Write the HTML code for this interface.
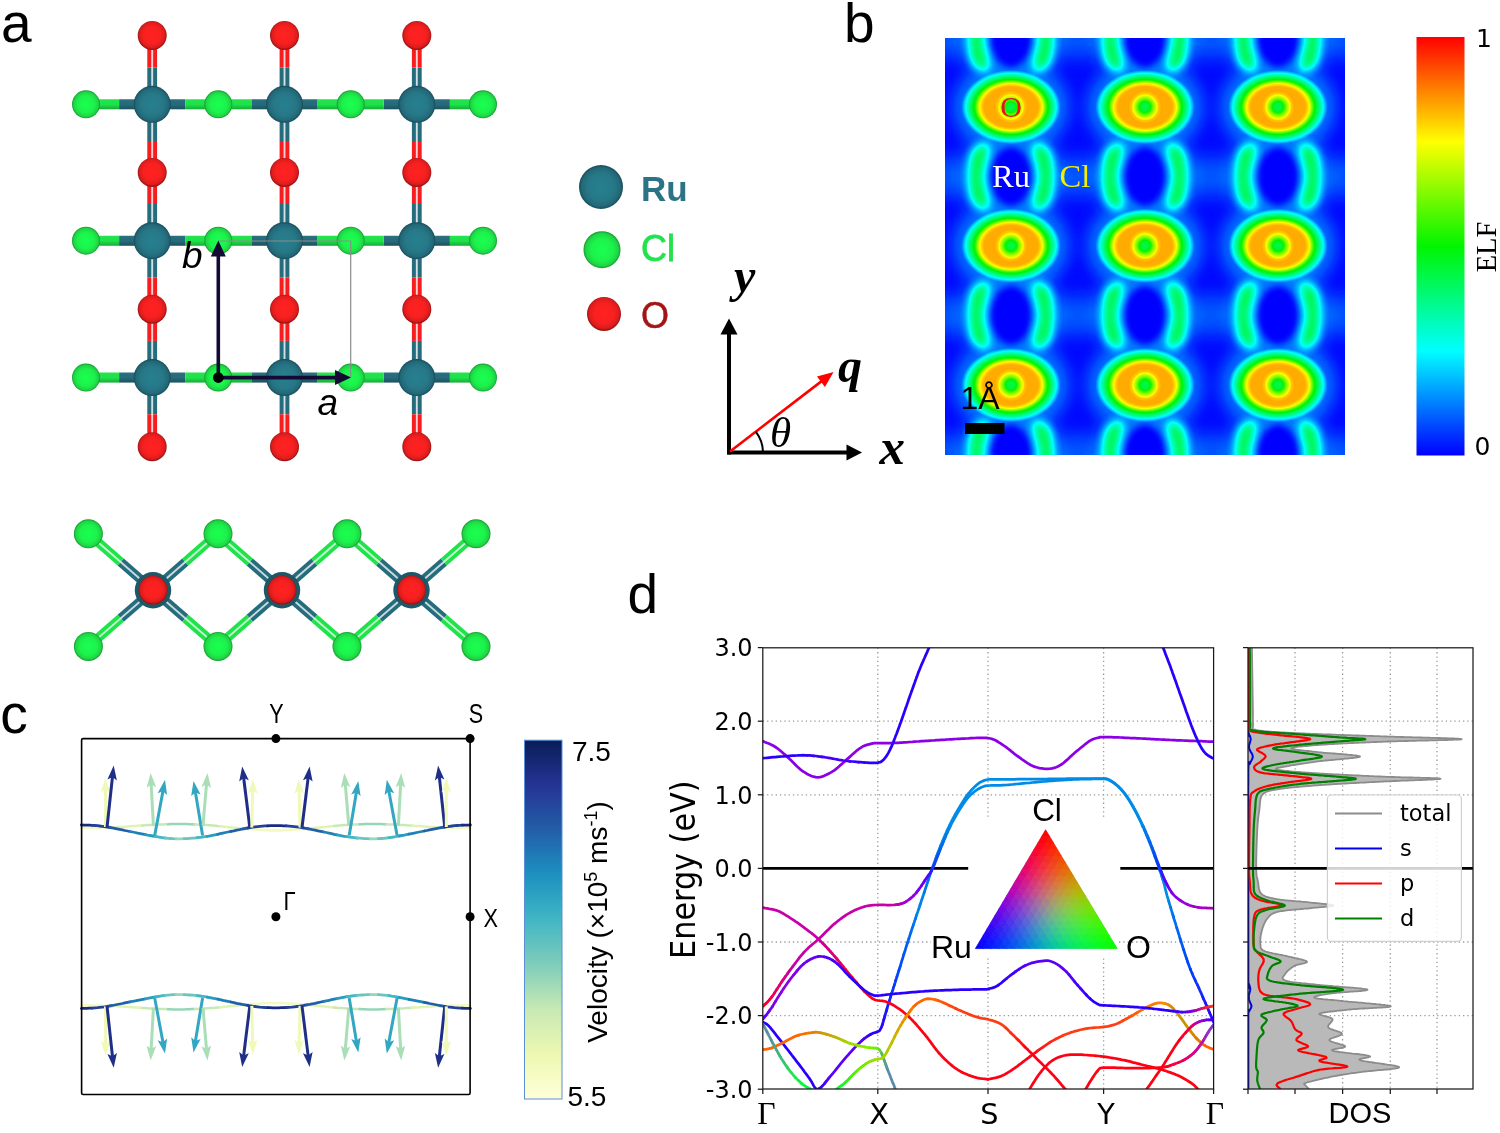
<!DOCTYPE html>
<html><head><meta charset="utf-8"><title>Figure</title>
<style>
html,body{margin:0;padding:0;background:#fff;}
svg{display:block}
.ar{font-family:"Liberation Sans",sans-serif}
.tr{font-family:"Liberation Serif",serif}
.tbi{font-family:"Liberation Serif",serif;font-weight:bold;font-style:italic}
.ti{font-family:"Liberation Serif",serif;font-style:italic}
.dj{font-family:"DejaVu Sans","Liberation Sans",sans-serif}
</style></head><body>
<svg width="1500" height="1133" viewBox="0 0 1500 1133">
<rect width="1500" height="1133" fill="#fff"/>
<defs>
<radialGradient id="gRu" cx="50%" cy="50%" r="50%"><stop offset="0" stop-color="#26808f"/><stop offset="0.6" stop-color="#277887"/><stop offset="0.88" stop-color="#226878"/><stop offset="1" stop-color="#184c5a"/></radialGradient>
<radialGradient id="gCl" cx="50%" cy="50%" r="50%"><stop offset="0" stop-color="#1aff50"/><stop offset="0.6" stop-color="#1cf24c"/><stop offset="0.88" stop-color="#1fd444"/><stop offset="1" stop-color="#129a2e"/></radialGradient>
<radialGradient id="gO" cx="50%" cy="48%" r="50%"><stop offset="0" stop-color="#ff2222"/><stop offset="0.6" stop-color="#f82020"/><stop offset="0.88" stop-color="#dc1c1c"/><stop offset="1" stop-color="#9c1414"/></radialGradient>
<linearGradient id="bH" x1="0" y1="0" x2="0" y2="1"><stop offset="0" stop-color="#fff" stop-opacity="0.05"/><stop offset="0.5" stop-color="#000" stop-opacity="0"/><stop offset="1" stop-color="#000" stop-opacity="0.25"/></linearGradient>

<filter id="jet" x="0" y="0" width="100%" height="100%" color-interpolation-filters="sRGB">
<feComponentTransfer>
<feFuncR type="table" tableValues="0 0 0 1 1"/>
<feFuncG type="table" tableValues="0 1 0.96 1 0"/>
<feFuncB type="table" tableValues="1 1 0 0 0"/>
</feComponentTransfer></filter>
<filter id="bl3" color-interpolation-filters="sRGB" x="-50%" y="-50%" width="200%" height="200%"><feGaussianBlur stdDeviation="3.4"/></filter>
<filter id="bl5" color-interpolation-filters="sRGB" x="-50%" y="-50%" width="200%" height="200%"><feGaussianBlur stdDeviation="4.6"/></filter>
<filter id="bl8" color-interpolation-filters="sRGB" x="-50%" y="-50%" width="200%" height="200%"><feGaussianBlur stdDeviation="8"/></filter>
<radialGradient id="eO" cx="50%" cy="50%" r="50%">
<stop offset="0" stop-color="#d4d4d4" stop-opacity="1"/>
<stop offset="0.55" stop-color="#d4d4d4" stop-opacity="1"/>
<stop offset="0.63" stop-color="#d4d4d4" stop-opacity="0.9"/>
<stop offset="0.72" stop-color="#d4d4d4" stop-opacity="0.59"/>
<stop offset="0.8" stop-color="#d4d4d4" stop-opacity="0.42"/>
<stop offset="0.88" stop-color="#d4d4d4" stop-opacity="0.27"/>
<stop offset="0.96" stop-color="#d4d4d4" stop-opacity="0.09"/>
<stop offset="1" stop-color="#d4d4d4" stop-opacity="0"/>
</radialGradient>
<radialGradient id="eOc" cx="50%" cy="50%" r="50%">
<stop offset="0" stop-color="#6b6b6b"/>
<stop offset="0.25" stop-color="#747474"/>
<stop offset="0.55" stop-color="#a8a8a8"/>
<stop offset="0.8" stop-color="#cdcdcd"/>
<stop offset="1" stop-color="#d6d6d6"/>
</radialGradient>
<linearGradient id="cbar" x1="0" y1="1" x2="0" y2="0">
<stop offset="0" stop-color="#0000ff"/><stop offset="0.25" stop-color="#00ffff"/><stop offset="0.5" stop-color="#00f500"/><stop offset="0.75" stop-color="#ffff00"/><stop offset="1" stop-color="#ff0000"/>
</linearGradient>
<clipPath id="elfclip"><rect x="945" y="38" width="400" height="417"/></clipPath>
<linearGradient id="ylgnbu" x1="0" y1="1" x2="0" y2="0"><stop offset="0" stop-color="#ffffd9"/><stop offset="0.125" stop-color="#edf8b1"/><stop offset="0.25" stop-color="#c7e9b4"/><stop offset="0.375" stop-color="#7fcdbb"/><stop offset="0.5" stop-color="#41b6c4"/><stop offset="0.625" stop-color="#1d91c0"/><stop offset="0.75" stop-color="#225ea8"/><stop offset="0.875" stop-color="#253494"/><stop offset="1" stop-color="#081d58"/></linearGradient><clipPath id="bclip"><rect x="762.8" y="647.8" width="450.8" height="441.2"/></clipPath><clipPath id="dclip"><rect x="1248" y="647.8" width="225" height="441.2"/></clipPath><linearGradient id="triB" x1="0" y1="1" x2="1" y2="1"><stop offset="0" stop-color="#0000ff"/><stop offset="1" stop-color="#00ff00"/></linearGradient>
<linearGradient id="triR" gradientUnits="userSpaceOnUse" x1="1046.5" y1="830.5" x2="1046.5" y2="947.5"><stop offset="0" stop-color="#ff0000" stop-opacity="1"/><stop offset="1" stop-color="#ff0000" stop-opacity="0"/></linearGradient></defs>
<g id="panelA"><line x1="152.2" y1="104.3" x2="119.1" y2="104.3" stroke="#256c7c" stroke-width="10"/><line x1="119.1" y1="104.3" x2="86" y2="104.3" stroke="#1ee44a" stroke-width="10"/><line x1="152.2" y1="104.3" x2="185.3" y2="104.3" stroke="#256c7c" stroke-width="10"/><line x1="185.3" y1="104.3" x2="218.4" y2="104.3" stroke="#1ee44a" stroke-width="10"/><line x1="284.5" y1="104.3" x2="251.4" y2="104.3" stroke="#256c7c" stroke-width="10"/><line x1="251.4" y1="104.3" x2="218.3" y2="104.3" stroke="#1ee44a" stroke-width="10"/><line x1="284.5" y1="104.3" x2="317.6" y2="104.3" stroke="#256c7c" stroke-width="10"/><line x1="317.6" y1="104.3" x2="350.7" y2="104.3" stroke="#1ee44a" stroke-width="10"/><line x1="416.8" y1="104.3" x2="383.7" y2="104.3" stroke="#256c7c" stroke-width="10"/><line x1="383.7" y1="104.3" x2="350.6" y2="104.3" stroke="#1ee44a" stroke-width="10"/><line x1="416.8" y1="104.3" x2="449.9" y2="104.3" stroke="#256c7c" stroke-width="10"/><line x1="449.9" y1="104.3" x2="483" y2="104.3" stroke="#1ee44a" stroke-width="10"/><rect x="86" y="99.3" width="397" height="10" fill="url(#bH)"/><line x1="152.2" y1="240.7" x2="119.1" y2="240.7" stroke="#256c7c" stroke-width="10"/><line x1="119.1" y1="240.7" x2="86" y2="240.7" stroke="#1ee44a" stroke-width="10"/><line x1="152.2" y1="240.7" x2="185.3" y2="240.7" stroke="#256c7c" stroke-width="10"/><line x1="185.3" y1="240.7" x2="218.4" y2="240.7" stroke="#1ee44a" stroke-width="10"/><line x1="284.5" y1="240.7" x2="251.4" y2="240.7" stroke="#256c7c" stroke-width="10"/><line x1="251.4" y1="240.7" x2="218.3" y2="240.7" stroke="#1ee44a" stroke-width="10"/><line x1="284.5" y1="240.7" x2="317.6" y2="240.7" stroke="#256c7c" stroke-width="10"/><line x1="317.6" y1="240.7" x2="350.7" y2="240.7" stroke="#1ee44a" stroke-width="10"/><line x1="416.8" y1="240.7" x2="383.7" y2="240.7" stroke="#256c7c" stroke-width="10"/><line x1="383.7" y1="240.7" x2="350.6" y2="240.7" stroke="#1ee44a" stroke-width="10"/><line x1="416.8" y1="240.7" x2="449.9" y2="240.7" stroke="#256c7c" stroke-width="10"/><line x1="449.9" y1="240.7" x2="483" y2="240.7" stroke="#1ee44a" stroke-width="10"/><rect x="86" y="235.7" width="397" height="10" fill="url(#bH)"/><line x1="152.2" y1="377.6" x2="119.1" y2="377.6" stroke="#256c7c" stroke-width="10"/><line x1="119.1" y1="377.6" x2="86" y2="377.6" stroke="#1ee44a" stroke-width="10"/><line x1="152.2" y1="377.6" x2="185.3" y2="377.6" stroke="#256c7c" stroke-width="10"/><line x1="185.3" y1="377.6" x2="218.4" y2="377.6" stroke="#1ee44a" stroke-width="10"/><line x1="284.5" y1="377.6" x2="251.4" y2="377.6" stroke="#256c7c" stroke-width="10"/><line x1="251.4" y1="377.6" x2="218.3" y2="377.6" stroke="#1ee44a" stroke-width="10"/><line x1="284.5" y1="377.6" x2="317.6" y2="377.6" stroke="#256c7c" stroke-width="10"/><line x1="317.6" y1="377.6" x2="350.7" y2="377.6" stroke="#1ee44a" stroke-width="10"/><line x1="416.8" y1="377.6" x2="383.7" y2="377.6" stroke="#256c7c" stroke-width="10"/><line x1="383.7" y1="377.6" x2="350.6" y2="377.6" stroke="#1ee44a" stroke-width="10"/><line x1="416.8" y1="377.6" x2="449.9" y2="377.6" stroke="#256c7c" stroke-width="10"/><line x1="449.9" y1="377.6" x2="483" y2="377.6" stroke="#1ee44a" stroke-width="10"/><rect x="86" y="372.6" width="397" height="10" fill="url(#bH)"/><line x1="152.2" y1="104.3" x2="152.2" y2="67.6" stroke="#256c7c" stroke-width="9.8"/><line x1="152.2" y1="67.6" x2="152.2" y2="35.7" stroke="#f51d1d" stroke-width="9.8"/><line x1="152.2" y1="104.3" x2="152.2" y2="35.7" stroke="#fff" stroke-opacity="0.8" stroke-width="1.9"/><line x1="152.2" y1="104.3" x2="152.2" y2="141" stroke="#256c7c" stroke-width="9.8"/><line x1="152.2" y1="141" x2="152.2" y2="172.9" stroke="#f51d1d" stroke-width="9.8"/><line x1="152.2" y1="104.3" x2="152.2" y2="172.9" stroke="#fff" stroke-opacity="0.8" stroke-width="1.9"/><line x1="152.2" y1="240.7" x2="152.2" y2="204" stroke="#256c7c" stroke-width="9.8"/><line x1="152.2" y1="204" x2="152.2" y2="172.1" stroke="#f51d1d" stroke-width="9.8"/><line x1="152.2" y1="240.7" x2="152.2" y2="172.1" stroke="#fff" stroke-opacity="0.8" stroke-width="1.9"/><line x1="152.2" y1="240.7" x2="152.2" y2="277.4" stroke="#256c7c" stroke-width="9.8"/><line x1="152.2" y1="277.4" x2="152.2" y2="309.3" stroke="#f51d1d" stroke-width="9.8"/><line x1="152.2" y1="240.7" x2="152.2" y2="309.3" stroke="#fff" stroke-opacity="0.8" stroke-width="1.9"/><line x1="152.2" y1="377.6" x2="152.2" y2="340.9" stroke="#256c7c" stroke-width="9.8"/><line x1="152.2" y1="340.9" x2="152.2" y2="309" stroke="#f51d1d" stroke-width="9.8"/><line x1="152.2" y1="377.6" x2="152.2" y2="309" stroke="#fff" stroke-opacity="0.8" stroke-width="1.9"/><line x1="152.2" y1="377.6" x2="152.2" y2="414.3" stroke="#256c7c" stroke-width="9.8"/><line x1="152.2" y1="414.3" x2="152.2" y2="446.2" stroke="#f51d1d" stroke-width="9.8"/><line x1="152.2" y1="377.6" x2="152.2" y2="446.2" stroke="#fff" stroke-opacity="0.8" stroke-width="1.9"/><line x1="284.5" y1="104.3" x2="284.5" y2="67.6" stroke="#256c7c" stroke-width="9.8"/><line x1="284.5" y1="67.6" x2="284.5" y2="35.7" stroke="#f51d1d" stroke-width="9.8"/><line x1="284.5" y1="104.3" x2="284.5" y2="35.7" stroke="#fff" stroke-opacity="0.8" stroke-width="1.9"/><line x1="284.5" y1="104.3" x2="284.5" y2="141" stroke="#256c7c" stroke-width="9.8"/><line x1="284.5" y1="141" x2="284.5" y2="172.9" stroke="#f51d1d" stroke-width="9.8"/><line x1="284.5" y1="104.3" x2="284.5" y2="172.9" stroke="#fff" stroke-opacity="0.8" stroke-width="1.9"/><line x1="284.5" y1="240.7" x2="284.5" y2="204" stroke="#256c7c" stroke-width="9.8"/><line x1="284.5" y1="204" x2="284.5" y2="172.1" stroke="#f51d1d" stroke-width="9.8"/><line x1="284.5" y1="240.7" x2="284.5" y2="172.1" stroke="#fff" stroke-opacity="0.8" stroke-width="1.9"/><line x1="284.5" y1="240.7" x2="284.5" y2="277.4" stroke="#256c7c" stroke-width="9.8"/><line x1="284.5" y1="277.4" x2="284.5" y2="309.3" stroke="#f51d1d" stroke-width="9.8"/><line x1="284.5" y1="240.7" x2="284.5" y2="309.3" stroke="#fff" stroke-opacity="0.8" stroke-width="1.9"/><line x1="284.5" y1="377.6" x2="284.5" y2="340.9" stroke="#256c7c" stroke-width="9.8"/><line x1="284.5" y1="340.9" x2="284.5" y2="309" stroke="#f51d1d" stroke-width="9.8"/><line x1="284.5" y1="377.6" x2="284.5" y2="309" stroke="#fff" stroke-opacity="0.8" stroke-width="1.9"/><line x1="284.5" y1="377.6" x2="284.5" y2="414.3" stroke="#256c7c" stroke-width="9.8"/><line x1="284.5" y1="414.3" x2="284.5" y2="446.2" stroke="#f51d1d" stroke-width="9.8"/><line x1="284.5" y1="377.6" x2="284.5" y2="446.2" stroke="#fff" stroke-opacity="0.8" stroke-width="1.9"/><line x1="416.8" y1="104.3" x2="416.8" y2="67.6" stroke="#256c7c" stroke-width="9.8"/><line x1="416.8" y1="67.6" x2="416.8" y2="35.7" stroke="#f51d1d" stroke-width="9.8"/><line x1="416.8" y1="104.3" x2="416.8" y2="35.7" stroke="#fff" stroke-opacity="0.8" stroke-width="1.9"/><line x1="416.8" y1="104.3" x2="416.8" y2="141" stroke="#256c7c" stroke-width="9.8"/><line x1="416.8" y1="141" x2="416.8" y2="172.9" stroke="#f51d1d" stroke-width="9.8"/><line x1="416.8" y1="104.3" x2="416.8" y2="172.9" stroke="#fff" stroke-opacity="0.8" stroke-width="1.9"/><line x1="416.8" y1="240.7" x2="416.8" y2="204" stroke="#256c7c" stroke-width="9.8"/><line x1="416.8" y1="204" x2="416.8" y2="172.1" stroke="#f51d1d" stroke-width="9.8"/><line x1="416.8" y1="240.7" x2="416.8" y2="172.1" stroke="#fff" stroke-opacity="0.8" stroke-width="1.9"/><line x1="416.8" y1="240.7" x2="416.8" y2="277.4" stroke="#256c7c" stroke-width="9.8"/><line x1="416.8" y1="277.4" x2="416.8" y2="309.3" stroke="#f51d1d" stroke-width="9.8"/><line x1="416.8" y1="240.7" x2="416.8" y2="309.3" stroke="#fff" stroke-opacity="0.8" stroke-width="1.9"/><line x1="416.8" y1="377.6" x2="416.8" y2="340.9" stroke="#256c7c" stroke-width="9.8"/><line x1="416.8" y1="340.9" x2="416.8" y2="309" stroke="#f51d1d" stroke-width="9.8"/><line x1="416.8" y1="377.6" x2="416.8" y2="309" stroke="#fff" stroke-opacity="0.8" stroke-width="1.9"/><line x1="416.8" y1="377.6" x2="416.8" y2="414.3" stroke="#256c7c" stroke-width="9.8"/><line x1="416.8" y1="414.3" x2="416.8" y2="446.2" stroke="#f51d1d" stroke-width="9.8"/><line x1="416.8" y1="377.6" x2="416.8" y2="446.2" stroke="#fff" stroke-opacity="0.8" stroke-width="1.9"/><circle cx="152.2" cy="35.5" r="14.5" fill="url(#gO)"/><circle cx="152.2" cy="172.4" r="14.5" fill="url(#gO)"/><circle cx="152.2" cy="309.2" r="14.5" fill="url(#gO)"/><circle cx="152.2" cy="446.8" r="14.5" fill="url(#gO)"/><circle cx="284.5" cy="35.5" r="14.5" fill="url(#gO)"/><circle cx="284.5" cy="172.4" r="14.5" fill="url(#gO)"/><circle cx="284.5" cy="309.2" r="14.5" fill="url(#gO)"/><circle cx="284.5" cy="446.8" r="14.5" fill="url(#gO)"/><circle cx="416.8" cy="35.5" r="14.5" fill="url(#gO)"/><circle cx="416.8" cy="172.4" r="14.5" fill="url(#gO)"/><circle cx="416.8" cy="309.2" r="14.5" fill="url(#gO)"/><circle cx="416.8" cy="446.8" r="14.5" fill="url(#gO)"/><circle cx="86" cy="104.3" r="14" fill="url(#gCl)"/><circle cx="218.3" cy="104.3" r="14" fill="url(#gCl)"/><circle cx="350.7" cy="104.3" r="14" fill="url(#gCl)"/><circle cx="483" cy="104.3" r="14" fill="url(#gCl)"/><circle cx="152.2" cy="104.3" r="18.5" fill="url(#gRu)"/><circle cx="284.5" cy="104.3" r="18.5" fill="url(#gRu)"/><circle cx="416.8" cy="104.3" r="18.5" fill="url(#gRu)"/><circle cx="86" cy="240.7" r="14" fill="url(#gCl)"/><circle cx="218.3" cy="240.7" r="14" fill="url(#gCl)"/><circle cx="350.7" cy="240.7" r="14" fill="url(#gCl)"/><circle cx="483" cy="240.7" r="14" fill="url(#gCl)"/><circle cx="152.2" cy="240.7" r="18.5" fill="url(#gRu)"/><circle cx="284.5" cy="240.7" r="18.5" fill="url(#gRu)"/><circle cx="416.8" cy="240.7" r="18.5" fill="url(#gRu)"/><circle cx="86" cy="377.6" r="14" fill="url(#gCl)"/><circle cx="218.3" cy="377.6" r="14" fill="url(#gCl)"/><circle cx="350.7" cy="377.6" r="14" fill="url(#gCl)"/><circle cx="483" cy="377.6" r="14" fill="url(#gCl)"/><circle cx="152.2" cy="377.6" r="18.5" fill="url(#gRu)"/><circle cx="284.5" cy="377.6" r="18.5" fill="url(#gRu)"/><circle cx="416.8" cy="377.6" r="18.5" fill="url(#gRu)"/><path d="M218.3 241H350.7V377.6" fill="none" stroke="#8c8c8c" stroke-width="1.2"/><path d="M218.3 377.6V254" stroke="#150a35" stroke-width="3.6" fill="none"/><path d="M218.3 240.5l7.5 16h-15z" fill="#150a35"/><path d="M218.3 377.6H336" stroke="#150a35" stroke-width="3.6" fill="none"/><path d="M351 377.6l-16 -7.5v15z" fill="#150a35"/><circle cx="218.3" cy="377.6" r="5.3" fill="#000"/><text x="182" y="267.5" font-size="37" font-style="italic" class="ar">b</text><text x="317.5" y="415" font-size="37" font-style="italic" class="ar">a</text><line x1="153" y1="590.2" x2="120.7" y2="562" stroke="#256c7c" stroke-width="9.4"/><line x1="120.7" y1="562" x2="88.4" y2="533.8" stroke="#1ee44a" stroke-width="9.4"/><line x1="153" y1="590.2" x2="88.4" y2="533.8" stroke="#fff" stroke-opacity="0.75" stroke-width="1.9"/><line x1="153" y1="590.2" x2="185.3" y2="562" stroke="#256c7c" stroke-width="9.4"/><line x1="185.3" y1="562" x2="217.6" y2="533.8" stroke="#1ee44a" stroke-width="9.4"/><line x1="153" y1="590.2" x2="217.6" y2="533.8" stroke="#fff" stroke-opacity="0.75" stroke-width="1.9"/><line x1="153" y1="590.2" x2="120.7" y2="618.3" stroke="#256c7c" stroke-width="9.4"/><line x1="120.7" y1="618.3" x2="88.4" y2="646.4" stroke="#1ee44a" stroke-width="9.4"/><line x1="153" y1="590.2" x2="88.4" y2="646.4" stroke="#fff" stroke-opacity="0.75" stroke-width="1.9"/><line x1="153" y1="590.2" x2="185.3" y2="618.3" stroke="#256c7c" stroke-width="9.4"/><line x1="185.3" y1="618.3" x2="217.6" y2="646.4" stroke="#1ee44a" stroke-width="9.4"/><line x1="153" y1="590.2" x2="217.6" y2="646.4" stroke="#fff" stroke-opacity="0.75" stroke-width="1.9"/><line x1="282" y1="590.2" x2="249.7" y2="562" stroke="#256c7c" stroke-width="9.4"/><line x1="249.7" y1="562" x2="217.4" y2="533.8" stroke="#1ee44a" stroke-width="9.4"/><line x1="282" y1="590.2" x2="217.4" y2="533.8" stroke="#fff" stroke-opacity="0.75" stroke-width="1.9"/><line x1="282" y1="590.2" x2="314.3" y2="562" stroke="#256c7c" stroke-width="9.4"/><line x1="314.3" y1="562" x2="346.6" y2="533.8" stroke="#1ee44a" stroke-width="9.4"/><line x1="282" y1="590.2" x2="346.6" y2="533.8" stroke="#fff" stroke-opacity="0.75" stroke-width="1.9"/><line x1="282" y1="590.2" x2="249.7" y2="618.3" stroke="#256c7c" stroke-width="9.4"/><line x1="249.7" y1="618.3" x2="217.4" y2="646.4" stroke="#1ee44a" stroke-width="9.4"/><line x1="282" y1="590.2" x2="217.4" y2="646.4" stroke="#fff" stroke-opacity="0.75" stroke-width="1.9"/><line x1="282" y1="590.2" x2="314.3" y2="618.3" stroke="#256c7c" stroke-width="9.4"/><line x1="314.3" y1="618.3" x2="346.6" y2="646.4" stroke="#1ee44a" stroke-width="9.4"/><line x1="282" y1="590.2" x2="346.6" y2="646.4" stroke="#fff" stroke-opacity="0.75" stroke-width="1.9"/><line x1="411.5" y1="590.2" x2="379.2" y2="562" stroke="#256c7c" stroke-width="9.4"/><line x1="379.2" y1="562" x2="346.9" y2="533.8" stroke="#1ee44a" stroke-width="9.4"/><line x1="411.5" y1="590.2" x2="346.9" y2="533.8" stroke="#fff" stroke-opacity="0.75" stroke-width="1.9"/><line x1="411.5" y1="590.2" x2="443.8" y2="562" stroke="#256c7c" stroke-width="9.4"/><line x1="443.8" y1="562" x2="476.1" y2="533.8" stroke="#1ee44a" stroke-width="9.4"/><line x1="411.5" y1="590.2" x2="476.1" y2="533.8" stroke="#fff" stroke-opacity="0.75" stroke-width="1.9"/><line x1="411.5" y1="590.2" x2="379.2" y2="618.3" stroke="#256c7c" stroke-width="9.4"/><line x1="379.2" y1="618.3" x2="346.9" y2="646.4" stroke="#1ee44a" stroke-width="9.4"/><line x1="411.5" y1="590.2" x2="346.9" y2="646.4" stroke="#fff" stroke-opacity="0.75" stroke-width="1.9"/><line x1="411.5" y1="590.2" x2="443.8" y2="618.3" stroke="#256c7c" stroke-width="9.4"/><line x1="443.8" y1="618.3" x2="476.1" y2="646.4" stroke="#1ee44a" stroke-width="9.4"/><line x1="411.5" y1="590.2" x2="476.1" y2="646.4" stroke="#fff" stroke-opacity="0.75" stroke-width="1.9"/><circle cx="88.4" cy="533.8" r="14.5" fill="url(#gCl)"/><circle cx="88.4" cy="646.4" r="14.5" fill="url(#gCl)"/><circle cx="218" cy="533.8" r="14.5" fill="url(#gCl)"/><circle cx="218" cy="646.4" r="14.5" fill="url(#gCl)"/><circle cx="347" cy="533.8" r="14.5" fill="url(#gCl)"/><circle cx="347" cy="646.4" r="14.5" fill="url(#gCl)"/><circle cx="476" cy="533.8" r="14.5" fill="url(#gCl)"/><circle cx="476" cy="646.4" r="14.5" fill="url(#gCl)"/><circle cx="153" cy="590.2" r="18.2" fill="#1d5868"/><circle cx="153" cy="590.2" r="14.4" fill="url(#gO)"/><circle cx="282" cy="590.2" r="18.2" fill="#1d5868"/><circle cx="282" cy="590.2" r="14.4" fill="url(#gO)"/><circle cx="411.5" cy="590.2" r="18.2" fill="#1d5868"/><circle cx="411.5" cy="590.2" r="14.4" fill="url(#gO)"/><circle cx="601" cy="187" r="22" fill="url(#gRu)"/><circle cx="602" cy="249.7" r="18.5" fill="url(#gCl)"/><circle cx="604" cy="314" r="17" fill="url(#gO)"/><text x="641" y="201" font-size="35" font-weight="bold" fill="#2a7485" class="ar">Ru</text><text x="641" y="261" font-size="36" fill="#22e24e" class="ar" stroke="#22e24e" stroke-width="0.8">Cl</text><text x="641" y="327.5" font-size="36" fill="#a31515" class="ar" stroke="#a31515" stroke-width="0.5">O</text><text x="1" y="41.7" font-size="55" class="ar">a</text></g><g id="axes"><path d="M729 454.5V334" stroke="#000" stroke-width="4" fill="none"/><path d="M729 318.5l8.5 16h-17z" fill="#000"/><path d="M727 452.5H848" stroke="#000" stroke-width="4" fill="none"/><path d="M862 452.5l-15.5 -8v16z" fill="#000"/><path d="M730 451.5L823.3 379.9" stroke="#f00" stroke-width="2.6" fill="none"/><path d="M833.6 372L824.9 386.9L817 376.6z" fill="#f00"/><path d="M763 452.5A34 34 0 0 0 755.9 431.8" stroke="#000" stroke-width="2" fill="none"/><text x="734" y="291.5" font-size="48" class="tbi">y</text><text x="879.5" y="463.5" font-size="51" class="tbi">x</text><text x="838" y="382" font-size="48" class="tbi">q</text><text x="770" y="447" font-size="43" class="ti">θ</text></g><g id="panelB"><g clip-path="url(#elfclip)"><g filter="url(#jet)"><rect x="940" y="33" width="410" height="427" fill="#030303"/><g filter="url(#bl8)" fill="#1f1f1f"><ellipse cx="1011" cy="107" rx="57" ry="47"/><ellipse cx="1011" cy="245.7" rx="57" ry="47"/><ellipse cx="1011" cy="385" rx="57" ry="47"/><ellipse cx="1011" cy="38" rx="55" ry="42"/><ellipse cx="1011" cy="176.5" rx="55" ry="42"/><ellipse cx="1011" cy="315.3" rx="55" ry="42"/><ellipse cx="1011" cy="454" rx="55" ry="42"/><ellipse cx="1145" cy="107" rx="57" ry="47"/><ellipse cx="1145" cy="245.7" rx="57" ry="47"/><ellipse cx="1145" cy="385" rx="57" ry="47"/><ellipse cx="1145" cy="38" rx="55" ry="42"/><ellipse cx="1145" cy="176.5" rx="55" ry="42"/><ellipse cx="1145" cy="315.3" rx="55" ry="42"/><ellipse cx="1145" cy="454" rx="55" ry="42"/><ellipse cx="1278" cy="107" rx="57" ry="47"/><ellipse cx="1278" cy="245.7" rx="57" ry="47"/><ellipse cx="1278" cy="385" rx="57" ry="47"/><ellipse cx="1278" cy="38" rx="55" ry="42"/><ellipse cx="1278" cy="176.5" rx="55" ry="42"/><ellipse cx="1278" cy="315.3" rx="55" ry="42"/><ellipse cx="1278" cy="454" rx="55" ry="42"/><ellipse cx="945" cy="38" rx="13" ry="22" fill="#151515"/><ellipse cx="945" cy="176.5" rx="13" ry="22" fill="#151515"/><ellipse cx="945" cy="315.3" rx="13" ry="22" fill="#151515"/><ellipse cx="945" cy="454" rx="13" ry="22" fill="#151515"/><ellipse cx="1078" cy="38" rx="13" ry="22" fill="#151515"/><ellipse cx="1078" cy="176.5" rx="13" ry="22" fill="#151515"/><ellipse cx="1078" cy="315.3" rx="13" ry="22" fill="#151515"/><ellipse cx="1078" cy="454" rx="13" ry="22" fill="#151515"/><ellipse cx="1211.5" cy="38" rx="13" ry="22" fill="#151515"/><ellipse cx="1211.5" cy="176.5" rx="13" ry="22" fill="#151515"/><ellipse cx="1211.5" cy="315.3" rx="13" ry="22" fill="#151515"/><ellipse cx="1211.5" cy="454" rx="13" ry="22" fill="#151515"/><ellipse cx="1345" cy="38" rx="13" ry="22" fill="#151515"/><ellipse cx="1345" cy="176.5" rx="13" ry="22" fill="#151515"/><ellipse cx="1345" cy="315.3" rx="13" ry="22" fill="#151515"/><ellipse cx="1345" cy="454" rx="13" ry="22" fill="#151515"/></g><g filter="url(#bl3)"><ellipse cx="1011" cy="38" rx="20.5" ry="29.5" fill="#000"/><ellipse cx="1011" cy="176.5" rx="20.5" ry="29.5" fill="#000"/><ellipse cx="1011" cy="315.3" rx="20.5" ry="29.5" fill="#000"/><ellipse cx="1011" cy="454" rx="20.5" ry="29.5" fill="#000"/><ellipse cx="1145" cy="38" rx="20.5" ry="29.5" fill="#000"/><ellipse cx="1145" cy="176.5" rx="20.5" ry="29.5" fill="#000"/><ellipse cx="1145" cy="315.3" rx="20.5" ry="29.5" fill="#000"/><ellipse cx="1145" cy="454" rx="20.5" ry="29.5" fill="#000"/><ellipse cx="1278" cy="38" rx="20.5" ry="29.5" fill="#000"/><ellipse cx="1278" cy="176.5" rx="20.5" ry="29.5" fill="#000"/><ellipse cx="1278" cy="315.3" rx="20.5" ry="29.5" fill="#000"/><ellipse cx="1278" cy="454" rx="20.5" ry="29.5" fill="#000"/></g><g filter="url(#bl5)" fill="#707070"><path d="M1035 6C1041 4.5 1046.5 9 1049.5 14C1053.8 26 1053.8 50 1049.5 62C1046.5 67 1041 71.5 1035 70C1032.5 70 1033.5 64 1035 58C1037.5 48 1039.5 43 1039 38C1039.5 33 1037.5 28 1035 18C1033.5 12 1032.5 6 1035 6z"/><path d="M987 6C981 4.5 975.5 9 972.5 14C968.2 26 968.2 50 972.5 62C975.5 67 981 71.5 987 70C989.5 70 988.5 64 987 58C984.5 48 982.5 43 983 38C982.5 33 984.5 28 987 18C988.5 12 989.5 6 987 6z"/><path d="M1035 144.5C1041 143 1046.5 147.5 1049.5 152.5C1053.8 164.5 1053.8 188.5 1049.5 200.5C1046.5 205.5 1041 210 1035 208.5C1032.5 208.5 1033.5 202.5 1035 196.5C1037.5 186.5 1039.5 181.5 1039 176.5C1039.5 171.5 1037.5 166.5 1035 156.5C1033.5 150.5 1032.5 144.5 1035 144.5z"/><path d="M987 144.5C981 143 975.5 147.5 972.5 152.5C968.2 164.5 968.2 188.5 972.5 200.5C975.5 205.5 981 210 987 208.5C989.5 208.5 988.5 202.5 987 196.5C984.5 186.5 982.5 181.5 983 176.5C982.5 171.5 984.5 166.5 987 156.5C988.5 150.5 989.5 144.5 987 144.5z"/><path d="M1035 283.3C1041 281.8 1046.5 286.3 1049.5 291.3C1053.8 303.3 1053.8 327.3 1049.5 339.3C1046.5 344.3 1041 348.8 1035 347.3C1032.5 347.3 1033.5 341.3 1035 335.3C1037.5 325.3 1039.5 320.3 1039 315.3C1039.5 310.3 1037.5 305.3 1035 295.3C1033.5 289.3 1032.5 283.3 1035 283.3z"/><path d="M987 283.3C981 281.8 975.5 286.3 972.5 291.3C968.2 303.3 968.2 327.3 972.5 339.3C975.5 344.3 981 348.8 987 347.3C989.5 347.3 988.5 341.3 987 335.3C984.5 325.3 982.5 320.3 983 315.3C982.5 310.3 984.5 305.3 987 295.3C988.5 289.3 989.5 283.3 987 283.3z"/><path d="M1035 422C1041 420.5 1046.5 425 1049.5 430C1053.8 442 1053.8 466 1049.5 478C1046.5 483 1041 487.5 1035 486C1032.5 486 1033.5 480 1035 474C1037.5 464 1039.5 459 1039 454C1039.5 449 1037.5 444 1035 434C1033.5 428 1032.5 422 1035 422z"/><path d="M987 422C981 420.5 975.5 425 972.5 430C968.2 442 968.2 466 972.5 478C975.5 483 981 487.5 987 486C989.5 486 988.5 480 987 474C984.5 464 982.5 459 983 454C982.5 449 984.5 444 987 434C988.5 428 989.5 422 987 422z"/><path d="M1169 6C1175 4.5 1180.5 9 1183.5 14C1187.8 26 1187.8 50 1183.5 62C1180.5 67 1175 71.5 1169 70C1166.5 70 1167.5 64 1169 58C1171.5 48 1173.5 43 1173 38C1173.5 33 1171.5 28 1169 18C1167.5 12 1166.5 6 1169 6z"/><path d="M1121 6C1115 4.5 1109.5 9 1106.5 14C1102.2 26 1102.2 50 1106.5 62C1109.5 67 1115 71.5 1121 70C1123.5 70 1122.5 64 1121 58C1118.5 48 1116.5 43 1117 38C1116.5 33 1118.5 28 1121 18C1122.5 12 1123.5 6 1121 6z"/><path d="M1169 144.5C1175 143 1180.5 147.5 1183.5 152.5C1187.8 164.5 1187.8 188.5 1183.5 200.5C1180.5 205.5 1175 210 1169 208.5C1166.5 208.5 1167.5 202.5 1169 196.5C1171.5 186.5 1173.5 181.5 1173 176.5C1173.5 171.5 1171.5 166.5 1169 156.5C1167.5 150.5 1166.5 144.5 1169 144.5z"/><path d="M1121 144.5C1115 143 1109.5 147.5 1106.5 152.5C1102.2 164.5 1102.2 188.5 1106.5 200.5C1109.5 205.5 1115 210 1121 208.5C1123.5 208.5 1122.5 202.5 1121 196.5C1118.5 186.5 1116.5 181.5 1117 176.5C1116.5 171.5 1118.5 166.5 1121 156.5C1122.5 150.5 1123.5 144.5 1121 144.5z"/><path d="M1169 283.3C1175 281.8 1180.5 286.3 1183.5 291.3C1187.8 303.3 1187.8 327.3 1183.5 339.3C1180.5 344.3 1175 348.8 1169 347.3C1166.5 347.3 1167.5 341.3 1169 335.3C1171.5 325.3 1173.5 320.3 1173 315.3C1173.5 310.3 1171.5 305.3 1169 295.3C1167.5 289.3 1166.5 283.3 1169 283.3z"/><path d="M1121 283.3C1115 281.8 1109.5 286.3 1106.5 291.3C1102.2 303.3 1102.2 327.3 1106.5 339.3C1109.5 344.3 1115 348.8 1121 347.3C1123.5 347.3 1122.5 341.3 1121 335.3C1118.5 325.3 1116.5 320.3 1117 315.3C1116.5 310.3 1118.5 305.3 1121 295.3C1122.5 289.3 1123.5 283.3 1121 283.3z"/><path d="M1169 422C1175 420.5 1180.5 425 1183.5 430C1187.8 442 1187.8 466 1183.5 478C1180.5 483 1175 487.5 1169 486C1166.5 486 1167.5 480 1169 474C1171.5 464 1173.5 459 1173 454C1173.5 449 1171.5 444 1169 434C1167.5 428 1166.5 422 1169 422z"/><path d="M1121 422C1115 420.5 1109.5 425 1106.5 430C1102.2 442 1102.2 466 1106.5 478C1109.5 483 1115 487.5 1121 486C1123.5 486 1122.5 480 1121 474C1118.5 464 1116.5 459 1117 454C1116.5 449 1118.5 444 1121 434C1122.5 428 1123.5 422 1121 422z"/><path d="M1302 6C1308 4.5 1313.5 9 1316.5 14C1320.8 26 1320.8 50 1316.5 62C1313.5 67 1308 71.5 1302 70C1299.5 70 1300.5 64 1302 58C1304.5 48 1306.5 43 1306 38C1306.5 33 1304.5 28 1302 18C1300.5 12 1299.5 6 1302 6z"/><path d="M1254 6C1248 4.5 1242.5 9 1239.5 14C1235.2 26 1235.2 50 1239.5 62C1242.5 67 1248 71.5 1254 70C1256.5 70 1255.5 64 1254 58C1251.5 48 1249.5 43 1250 38C1249.5 33 1251.5 28 1254 18C1255.5 12 1256.5 6 1254 6z"/><path d="M1302 144.5C1308 143 1313.5 147.5 1316.5 152.5C1320.8 164.5 1320.8 188.5 1316.5 200.5C1313.5 205.5 1308 210 1302 208.5C1299.5 208.5 1300.5 202.5 1302 196.5C1304.5 186.5 1306.5 181.5 1306 176.5C1306.5 171.5 1304.5 166.5 1302 156.5C1300.5 150.5 1299.5 144.5 1302 144.5z"/><path d="M1254 144.5C1248 143 1242.5 147.5 1239.5 152.5C1235.2 164.5 1235.2 188.5 1239.5 200.5C1242.5 205.5 1248 210 1254 208.5C1256.5 208.5 1255.5 202.5 1254 196.5C1251.5 186.5 1249.5 181.5 1250 176.5C1249.5 171.5 1251.5 166.5 1254 156.5C1255.5 150.5 1256.5 144.5 1254 144.5z"/><path d="M1302 283.3C1308 281.8 1313.5 286.3 1316.5 291.3C1320.8 303.3 1320.8 327.3 1316.5 339.3C1313.5 344.3 1308 348.8 1302 347.3C1299.5 347.3 1300.5 341.3 1302 335.3C1304.5 325.3 1306.5 320.3 1306 315.3C1306.5 310.3 1304.5 305.3 1302 295.3C1300.5 289.3 1299.5 283.3 1302 283.3z"/><path d="M1254 283.3C1248 281.8 1242.5 286.3 1239.5 291.3C1235.2 303.3 1235.2 327.3 1239.5 339.3C1242.5 344.3 1248 348.8 1254 347.3C1256.5 347.3 1255.5 341.3 1254 335.3C1251.5 325.3 1249.5 320.3 1250 315.3C1249.5 310.3 1251.5 305.3 1254 295.3C1255.5 289.3 1256.5 283.3 1254 283.3z"/><path d="M1302 422C1308 420.5 1313.5 425 1316.5 430C1320.8 442 1320.8 466 1316.5 478C1313.5 483 1308 487.5 1302 486C1299.5 486 1300.5 480 1302 474C1304.5 464 1306.5 459 1306 454C1306.5 449 1304.5 444 1302 434C1300.5 428 1299.5 422 1302 422z"/><path d="M1254 422C1248 420.5 1242.5 425 1239.5 430C1235.2 442 1235.2 466 1239.5 478C1242.5 483 1248 487.5 1254 486C1256.5 486 1255.5 480 1254 474C1251.5 464 1249.5 459 1250 454C1249.5 449 1251.5 444 1254 434C1255.5 428 1256.5 422 1254 422z"/></g><ellipse cx="1011" cy="107" rx="49.5" ry="37" fill="url(#eO)"/><circle cx="1011" cy="107" r="17" fill="url(#eOc)"/><ellipse cx="1011" cy="245.7" rx="49.5" ry="37" fill="url(#eO)"/><circle cx="1011" cy="245.7" r="17" fill="url(#eOc)"/><ellipse cx="1011" cy="385" rx="49.5" ry="37" fill="url(#eO)"/><circle cx="1011" cy="385" r="17" fill="url(#eOc)"/><ellipse cx="1145" cy="107" rx="49.5" ry="37" fill="url(#eO)"/><circle cx="1145" cy="107" r="17" fill="url(#eOc)"/><ellipse cx="1145" cy="245.7" rx="49.5" ry="37" fill="url(#eO)"/><circle cx="1145" cy="245.7" r="17" fill="url(#eOc)"/><ellipse cx="1145" cy="385" rx="49.5" ry="37" fill="url(#eO)"/><circle cx="1145" cy="385" r="17" fill="url(#eOc)"/><ellipse cx="1278" cy="107" rx="49.5" ry="37" fill="url(#eO)"/><circle cx="1278" cy="107" r="17" fill="url(#eOc)"/><ellipse cx="1278" cy="245.7" rx="49.5" ry="37" fill="url(#eO)"/><circle cx="1278" cy="245.7" r="17" fill="url(#eOc)"/><ellipse cx="1278" cy="385" rx="49.5" ry="37" fill="url(#eO)"/><circle cx="1278" cy="385" r="17" fill="url(#eOc)"/></g></g><text x="1011" y="116.5" font-size="30" fill="#e8141c" text-anchor="middle" class="tr">O</text><text x="992" y="186.5" font-size="32.5" fill="#fff" class="tr">Ru</text><text x="1059.5" y="186.5" font-size="32.5" fill="#f4ee00" class="tr">Cl</text><text x="960.5" y="409" font-size="32" fill="#000" class="ar">1Å</text><rect x="965" y="423" width="39.5" height="11" fill="#000"/><rect x="1416.5" y="37" width="48" height="418.5" fill="url(#cbar)"/><text x="1476" y="47" font-size="25" class="dj">1</text><text x="1474.5" y="455" font-size="25" class="dj">0</text><text transform="translate(1496 247) rotate(-90)" text-anchor="middle" font-size="28.5" class="tr">ELF</text><text x="844" y="41.8" font-size="55" class="ar">b</text></g><g id="panelC"><g fill="none" stroke-width="2.5" stroke-linecap="round" stroke-linejoin="round"><path d="M81.4 828L84 828L86.7 828L89.3 827.9L91.9 827.9L94.6 827.9L97.3 827.9L100 827.8L102.4 827.7L104.9 827.7L107.4 827.6L109.9 827.5L112.4 827.4" stroke="#f3fabe"/><path d="M112.4 827.4L115 827.3L117.5 827.1L120 827L122.5 826.9L125 826.7L127.5 826.5L130 826.3L132.5 826.1L135 825.9L137.5 825.8L140 825.6L142.5 825.4" stroke="#e0f3b2"/><path d="M142.5 825.4L145 825.3L147.5 825.1L150.1 825L152.6 824.9L155.1 824.7L157.5 824.6L160 824.5L162.7 824.4L165.4 824.3L168.1 824.2" stroke="#c7e9b4"/><path d="M168.1 824.2L170.8 824.1L173.5 824L176.2 824L179 824L181.5 824L184.1 824L186.8 824.1L189.4 824.2L192.1 824.3L194.8 824.4" stroke="#97d6b9"/><path d="M194.8 824.4L197.4 824.5L200 824.6L202.5 824.7L205.1 824.9L207.6 825.1L210.1 825.3L212.5 825.5L215 825.7L217.5 826L220 826.2" stroke="#c7e9b4"/><path d="M220 826.2L222.5 826.4L225 826.7L227.5 826.9L230 827.2L232.5 827.5L235 827.7L237.5 828L240 828.2L242.5 828.4L245.1 828.6L247.7 828.9L250.3 829.1" stroke="#e0f3b2"/><path d="M250.3 829.1L252.8 829.3L255.3 829.5L257.7 829.6L260 829.8L262.8 830L265.4 830.2L267.9 830.3L270.4 830.4L272.8 830.5L275.4 830.5L278 830.5L280.7 830.4L283.3 830.3L286 830.2L288.8 830L291.8 829.8L294.1 829.6L296.5 829.5L299 829.3L301.6 829.1L304.1 828.9" stroke="#f3fabe"/><path d="M304.1 828.9L306.7 828.6L309.3 828.4L311.8 828.2L314.3 828L316.8 827.7L319.3 827.5L321.8 827.2L324.3 826.9L326.8 826.7L329.3 826.4L331.8 826.2L334.3 826" stroke="#e0f3b2"/><path d="M334.3 826L336.8 825.7L339.3 825.5L341.7 825.3L344.2 825.1L346.7 824.9L349.3 824.7L351.8 824.6L354.4 824.5L357 824.4L359.7 824.3" stroke="#c7e9b4"/><path d="M359.7 824.3L362.4 824.2L365 824.1L367.7 824L370.3 824L372.8 824L375.6 824L378.3 824L381 824.1L383.7 824.2L386.4 824.3" stroke="#97d6b9"/><path d="M386.4 824.3L389.1 824.4L391.8 824.5L394.3 824.6L396.7 824.7L399.2 824.9L401.7 825L404.3 825.1L406.8 825.3L409.3 825.4L411.8 825.6" stroke="#c7e9b4"/><path d="M411.8 825.6L414.3 825.8L416.8 825.9L419.3 826.1L421.8 826.3L424.3 826.5L426.8 826.7L429.3 826.9L431.8 827L434.3 827.1L436.8 827.3L439.4 827.4L441.9 827.5" stroke="#e0f3b2"/><path d="M441.9 827.5L444.4 827.6L446.9 827.7L449.4 827.7L451.8 827.8L454.5 827.9L457.2 827.9L459.9 827.9L462.5 827.9L465.1 828L467.8 828L470.4 828" stroke="#f3fabe"/></g><g fill="none" stroke-width="2.8" stroke-linecap="round" stroke-linejoin="round"><path d="M81.4 825L84.1 825.1L86.8 825.1L89.5 825.2L92.2 825.3" stroke="#1b2c80"/><path d="M92.2 825.3L95 825.5L97.4 825.7L99.7 826L102.1 826.3L104.6 826.6L107.2 827L110 827.5" stroke="#24429b"/><path d="M110 827.5L112.3 827.9L114.6 828.4L117.1 828.9L119.7 829.4L122.3 829.9L124.9 830.5L127.5 831L130 831.5" stroke="#225ea8"/><path d="M130 831.5L132.5 832L135.1 832.5L137.7 833.1L140.3 833.6L142.9 834.1L145.4 834.6" stroke="#1f80b8"/><path d="M145.4 834.6L147.7 835.1L150 835.5L152.8 836L155.4 836.5" stroke="#299dc1"/><path d="M155.4 836.5L157.9 836.9L160.3 837.3L162.6 837.7L165 838" stroke="#41b6c4"/><path d="M165 838L167.8 838.3L170.6 838.5L173.3 838.7L176.1 838.8" stroke="#6ac5be"/><path d="M176.1 838.8L179 838.8L181.6 838.8L184.2 838.7" stroke="#97d6b9"/><path d="M184.2 838.7L186.9 838.6L189.7 838.4L192.4 838.2L195 838L197.5 837.7" stroke="#6ac5be"/><path d="M197.5 837.7L200 837.4L202.4 837.1L204.8 836.7L207.3 836.3" stroke="#41b6c4"/><path d="M207.3 836.3L210 835.8L212.4 835.3L215 834.8L217.6 834.3" stroke="#299dc1"/><path d="M217.6 834.3L220.2 833.7L222.8 833.1L225.5 832.5L228 832L230.9 831.4" stroke="#1f80b8"/><path d="M230.9 831.4L233.8 830.8L236.7 830.1L239.5 829.6L242.3 829L245 828.5L247.6 828" stroke="#225ea8"/><path d="M247.6 828L250.1 827.6L252.6 827.2L255 826.9L257.5 826.6L260 826.3L262.5 826.1L265.1 825.9L267.6 825.8" stroke="#24429b"/><path d="M267.6 825.8L270.2 825.7L272.8 825.6L275.4 825.6L278.1 825.6L280.8 825.7L283.6 825.8L286.4 825.9" stroke="#1b2c80"/><path d="M286.4 825.9L289.1 826.1L291.8 826.3L294.4 826.6L296.8 826.9L299.3 827.2L301.7 827.6L304.2 828L306.8 828.5" stroke="#24429b"/><path d="M306.8 828.5L309.5 829L312.3 829.6L315.1 830.1L318 830.8L320.9 831.4L323.8 832" stroke="#225ea8"/><path d="M323.8 832L326.3 832.5L329 833.1L331.6 833.7L334.2 834.3L336.8 834.8" stroke="#1f80b8"/><path d="M336.8 834.8L339.4 835.3L341.8 835.8L344.5 836.3L347 836.7" stroke="#299dc1"/><path d="M347 836.7L349.4 837.1L351.8 837.4L354.3 837.7L356.8 838" stroke="#41b6c4"/><path d="M356.8 838L359.4 838.2L362.1 838.4L364.9 838.6L367.6 838.7L370.2 838.8" stroke="#6ac5be"/><path d="M370.2 838.8L372.8 838.8L375.7 838.8L378.5 838.7" stroke="#97d6b9"/><path d="M378.5 838.7L381.2 838.5L384 838.3L386.8 838L389.2 837.7" stroke="#6ac5be"/><path d="M389.2 837.7L391.5 837.3L393.9 837L396.4 836.5L399 836" stroke="#41b6c4"/><path d="M399 836L401.8 835.5L404.1 835.1L406.4 834.6L408.9 834.1" stroke="#299dc1"/><path d="M408.9 834.1L411.5 833.6L414.1 833.1L416.7 832.5L419.3 832L421.8 831.5L424.3 831" stroke="#1f80b8"/><path d="M424.3 831L426.9 830.5L429.5 829.9L432.1 829.4L434.7 828.9L437.2 828.4L439.5 827.9L441.8 827.5L444.6 827" stroke="#225ea8"/><path d="M444.6 827L447.2 826.6L449.7 826.3L452.1 826L454.4 825.7L456.8 825.5L459.6 825.3L462.3 825.2" stroke="#24429b"/><path d="M462.3 825.2L465 825.1L467.7 825.1L470.4 825" stroke="#1b2c80"/></g><path d="M105.5 827L105.5 788.1" stroke="#f1f9b9" stroke-width="3" fill="none"/><path d="M105.5 778L110.3 792.5L105.5 789.6L100.7 792.5z" fill="#f1f9b9"/><path d="M107 827.5L112.6 775.7" stroke="#1f2f88" stroke-width="3" fill="none"/><path d="M113.7 765.6L116.9 780.5L112.5 777.1L107.4 779.5z" fill="#1f2f88"/><path d="M153.4 825.7L151.1 783.1" stroke="#aadeb7" stroke-width="3" fill="none"/><path d="M150.6 773L156.2 787.2L151.2 784.6L146.6 787.7z" fill="#aadeb7"/><path d="M154.7 835.5L163.2 789.8" stroke="#33a7c2" stroke-width="3" fill="none"/><path d="M165 779.8L167.1 794.9L162.9 791.2L157.6 793.2z" fill="#33a7c2"/><path d="M202.6 835.5L195.2 791" stroke="#33a7c2" stroke-width="3" fill="none"/><path d="M193.5 781L200.6 794.5L195.4 792.4L191.2 796.1z" fill="#33a7c2"/><path d="M203 825.5L206.6 783.1" stroke="#aadeb7" stroke-width="3" fill="none"/><path d="M207.5 773L211 787.9L206.5 784.6L201.5 787z" fill="#aadeb7"/><path d="M249.8 827.5L243.5 776.5" stroke="#1f2f88" stroke-width="3" fill="none"/><path d="M242.2 766.4L248.8 780.2L243.6 777.9L239.2 781.4z" fill="#1f2f88"/><path d="M251.8 827.5L252.7 789.1" stroke="#f1f9b9" stroke-width="3" fill="none"/><path d="M253 779L257.4 793.6L252.7 790.6L247.8 793.4z" fill="#f1f9b9"/><path d="M300 827.5L299.1 789.1" stroke="#f1f9b9" stroke-width="3" fill="none"/><path d="M298.8 779L304 793.4L299.1 790.6L294.4 793.6z" fill="#f1f9b9"/><path d="M302 827.5L308.3 776.5" stroke="#1f2f88" stroke-width="3" fill="none"/><path d="M309.6 766.4L312.6 781.4L308.2 777.9L303 780.2z" fill="#1f2f88"/><path d="M348.8 825.5L345.2 783.1" stroke="#aadeb7" stroke-width="3" fill="none"/><path d="M344.3 773L350.3 787L345.3 784.6L340.8 787.9z" fill="#aadeb7"/><path d="M349.2 835.5L356.6 791" stroke="#33a7c2" stroke-width="3" fill="none"/><path d="M358.3 781L360.6 796.1L356.4 792.4L351.2 794.5z" fill="#33a7c2"/><path d="M397.1 835.5L388.6 789.8" stroke="#33a7c2" stroke-width="3" fill="none"/><path d="M386.8 779.8L394.2 793.2L388.9 791.2L384.7 794.9z" fill="#33a7c2"/><path d="M398.4 825.7L400.7 783.1" stroke="#aadeb7" stroke-width="3" fill="none"/><path d="M401.2 773L405.2 787.7L400.6 784.6L395.6 787.2z" fill="#aadeb7"/><path d="M444.8 827.5L439.2 775.7" stroke="#1f2f88" stroke-width="3" fill="none"/><path d="M438.1 765.6L444.4 779.5L439.3 777.1L434.9 780.5z" fill="#1f2f88"/><path d="M446.3 827L446.3 788.1" stroke="#f1f9b9" stroke-width="3" fill="none"/><path d="M446.3 778L451.1 792.5L446.3 789.6L441.5 792.5z" fill="#f1f9b9"/><g transform="translate(0 1833.4) scale(1 -1)"><g fill="none" stroke-width="2.5" stroke-linecap="round" stroke-linejoin="round"><path d="M81.4 828L84 828L86.7 828L89.3 827.9L91.9 827.9L94.6 827.9L97.3 827.9L100 827.8L102.4 827.7L104.9 827.7L107.4 827.6L109.9 827.5L112.4 827.4" stroke="#f3fabe"/><path d="M112.4 827.4L115 827.3L117.5 827.1L120 827L122.5 826.9L125 826.7L127.5 826.5L130 826.3L132.5 826.1L135 825.9L137.5 825.8L140 825.6L142.5 825.4" stroke="#e0f3b2"/><path d="M142.5 825.4L145 825.3L147.5 825.1L150.1 825L152.6 824.9L155.1 824.7L157.5 824.6L160 824.5L162.7 824.4L165.4 824.3L168.1 824.2" stroke="#c7e9b4"/><path d="M168.1 824.2L170.8 824.1L173.5 824L176.2 824L179 824L181.5 824L184.1 824L186.8 824.1L189.4 824.2L192.1 824.3L194.8 824.4" stroke="#97d6b9"/><path d="M194.8 824.4L197.4 824.5L200 824.6L202.5 824.7L205.1 824.9L207.6 825.1L210.1 825.3L212.5 825.5L215 825.7L217.5 826L220 826.2" stroke="#c7e9b4"/><path d="M220 826.2L222.5 826.4L225 826.7L227.5 826.9L230 827.2L232.5 827.5L235 827.7L237.5 828L240 828.2L242.5 828.4L245.1 828.6L247.7 828.9L250.3 829.1" stroke="#e0f3b2"/><path d="M250.3 829.1L252.8 829.3L255.3 829.5L257.7 829.6L260 829.8L262.8 830L265.4 830.2L267.9 830.3L270.4 830.4L272.8 830.5L275.4 830.5L278 830.5L280.7 830.4L283.3 830.3L286 830.2L288.8 830L291.8 829.8L294.1 829.6L296.5 829.5L299 829.3L301.6 829.1L304.1 828.9" stroke="#f3fabe"/><path d="M304.1 828.9L306.7 828.6L309.3 828.4L311.8 828.2L314.3 828L316.8 827.7L319.3 827.5L321.8 827.2L324.3 826.9L326.8 826.7L329.3 826.4L331.8 826.2L334.3 826" stroke="#e0f3b2"/><path d="M334.3 826L336.8 825.7L339.3 825.5L341.7 825.3L344.2 825.1L346.7 824.9L349.3 824.7L351.8 824.6L354.4 824.5L357 824.4L359.7 824.3" stroke="#c7e9b4"/><path d="M359.7 824.3L362.4 824.2L365 824.1L367.7 824L370.3 824L372.8 824L375.6 824L378.3 824L381 824.1L383.7 824.2L386.4 824.3" stroke="#97d6b9"/><path d="M386.4 824.3L389.1 824.4L391.8 824.5L394.3 824.6L396.7 824.7L399.2 824.9L401.7 825L404.3 825.1L406.8 825.3L409.3 825.4L411.8 825.6" stroke="#c7e9b4"/><path d="M411.8 825.6L414.3 825.8L416.8 825.9L419.3 826.1L421.8 826.3L424.3 826.5L426.8 826.7L429.3 826.9L431.8 827L434.3 827.1L436.8 827.3L439.4 827.4L441.9 827.5" stroke="#e0f3b2"/><path d="M441.9 827.5L444.4 827.6L446.9 827.7L449.4 827.7L451.8 827.8L454.5 827.9L457.2 827.9L459.9 827.9L462.5 827.9L465.1 828L467.8 828L470.4 828" stroke="#f3fabe"/></g><g fill="none" stroke-width="2.8" stroke-linecap="round" stroke-linejoin="round"><path d="M81.4 825L84.1 825.1L86.8 825.1L89.5 825.2L92.2 825.3" stroke="#1b2c80"/><path d="M92.2 825.3L95 825.5L97.4 825.7L99.7 826L102.1 826.3L104.6 826.6L107.2 827L110 827.5" stroke="#24429b"/><path d="M110 827.5L112.3 827.9L114.6 828.4L117.1 828.9L119.7 829.4L122.3 829.9L124.9 830.5L127.5 831L130 831.5" stroke="#225ea8"/><path d="M130 831.5L132.5 832L135.1 832.5L137.7 833.1L140.3 833.6L142.9 834.1L145.4 834.6" stroke="#1f80b8"/><path d="M145.4 834.6L147.7 835.1L150 835.5L152.8 836L155.4 836.5" stroke="#299dc1"/><path d="M155.4 836.5L157.9 836.9L160.3 837.3L162.6 837.7L165 838" stroke="#41b6c4"/><path d="M165 838L167.8 838.3L170.6 838.5L173.3 838.7L176.1 838.8" stroke="#6ac5be"/><path d="M176.1 838.8L179 838.8L181.6 838.8L184.2 838.7" stroke="#97d6b9"/><path d="M184.2 838.7L186.9 838.6L189.7 838.4L192.4 838.2L195 838L197.5 837.7" stroke="#6ac5be"/><path d="M197.5 837.7L200 837.4L202.4 837.1L204.8 836.7L207.3 836.3" stroke="#41b6c4"/><path d="M207.3 836.3L210 835.8L212.4 835.3L215 834.8L217.6 834.3" stroke="#299dc1"/><path d="M217.6 834.3L220.2 833.7L222.8 833.1L225.5 832.5L228 832L230.9 831.4" stroke="#1f80b8"/><path d="M230.9 831.4L233.8 830.8L236.7 830.1L239.5 829.6L242.3 829L245 828.5L247.6 828" stroke="#225ea8"/><path d="M247.6 828L250.1 827.6L252.6 827.2L255 826.9L257.5 826.6L260 826.3L262.5 826.1L265.1 825.9L267.6 825.8" stroke="#24429b"/><path d="M267.6 825.8L270.2 825.7L272.8 825.6L275.4 825.6L278.1 825.6L280.8 825.7L283.6 825.8L286.4 825.9" stroke="#1b2c80"/><path d="M286.4 825.9L289.1 826.1L291.8 826.3L294.4 826.6L296.8 826.9L299.3 827.2L301.7 827.6L304.2 828L306.8 828.5" stroke="#24429b"/><path d="M306.8 828.5L309.5 829L312.3 829.6L315.1 830.1L318 830.8L320.9 831.4L323.8 832" stroke="#225ea8"/><path d="M323.8 832L326.3 832.5L329 833.1L331.6 833.7L334.2 834.3L336.8 834.8" stroke="#1f80b8"/><path d="M336.8 834.8L339.4 835.3L341.8 835.8L344.5 836.3L347 836.7" stroke="#299dc1"/><path d="M347 836.7L349.4 837.1L351.8 837.4L354.3 837.7L356.8 838" stroke="#41b6c4"/><path d="M356.8 838L359.4 838.2L362.1 838.4L364.9 838.6L367.6 838.7L370.2 838.8" stroke="#6ac5be"/><path d="M370.2 838.8L372.8 838.8L375.7 838.8L378.5 838.7" stroke="#97d6b9"/><path d="M378.5 838.7L381.2 838.5L384 838.3L386.8 838L389.2 837.7" stroke="#6ac5be"/><path d="M389.2 837.7L391.5 837.3L393.9 837L396.4 836.5L399 836" stroke="#41b6c4"/><path d="M399 836L401.8 835.5L404.1 835.1L406.4 834.6L408.9 834.1" stroke="#299dc1"/><path d="M408.9 834.1L411.5 833.6L414.1 833.1L416.7 832.5L419.3 832L421.8 831.5L424.3 831" stroke="#1f80b8"/><path d="M424.3 831L426.9 830.5L429.5 829.9L432.1 829.4L434.7 828.9L437.2 828.4L439.5 827.9L441.8 827.5L444.6 827" stroke="#225ea8"/><path d="M444.6 827L447.2 826.6L449.7 826.3L452.1 826L454.4 825.7L456.8 825.5L459.6 825.3L462.3 825.2" stroke="#24429b"/><path d="M462.3 825.2L465 825.1L467.7 825.1L470.4 825" stroke="#1b2c80"/></g><path d="M105.5 827L105.5 788.1" stroke="#f1f9b9" stroke-width="3" fill="none"/><path d="M105.5 778L110.3 792.5L105.5 789.6L100.7 792.5z" fill="#f1f9b9"/><path d="M107 827.5L112.6 775.7" stroke="#1f2f88" stroke-width="3" fill="none"/><path d="M113.7 765.6L116.9 780.5L112.5 777.1L107.4 779.5z" fill="#1f2f88"/><path d="M153.4 825.7L151.1 783.1" stroke="#aadeb7" stroke-width="3" fill="none"/><path d="M150.6 773L156.2 787.2L151.2 784.6L146.6 787.7z" fill="#aadeb7"/><path d="M154.7 835.5L163.2 789.8" stroke="#33a7c2" stroke-width="3" fill="none"/><path d="M165 779.8L167.1 794.9L162.9 791.2L157.6 793.2z" fill="#33a7c2"/><path d="M202.6 835.5L195.2 791" stroke="#33a7c2" stroke-width="3" fill="none"/><path d="M193.5 781L200.6 794.5L195.4 792.4L191.2 796.1z" fill="#33a7c2"/><path d="M203 825.5L206.6 783.1" stroke="#aadeb7" stroke-width="3" fill="none"/><path d="M207.5 773L211 787.9L206.5 784.6L201.5 787z" fill="#aadeb7"/><path d="M249.8 827.5L243.5 776.5" stroke="#1f2f88" stroke-width="3" fill="none"/><path d="M242.2 766.4L248.8 780.2L243.6 777.9L239.2 781.4z" fill="#1f2f88"/><path d="M251.8 827.5L252.7 789.1" stroke="#f1f9b9" stroke-width="3" fill="none"/><path d="M253 779L257.4 793.6L252.7 790.6L247.8 793.4z" fill="#f1f9b9"/><path d="M300 827.5L299.1 789.1" stroke="#f1f9b9" stroke-width="3" fill="none"/><path d="M298.8 779L304 793.4L299.1 790.6L294.4 793.6z" fill="#f1f9b9"/><path d="M302 827.5L308.3 776.5" stroke="#1f2f88" stroke-width="3" fill="none"/><path d="M309.6 766.4L312.6 781.4L308.2 777.9L303 780.2z" fill="#1f2f88"/><path d="M348.8 825.5L345.2 783.1" stroke="#aadeb7" stroke-width="3" fill="none"/><path d="M344.3 773L350.3 787L345.3 784.6L340.8 787.9z" fill="#aadeb7"/><path d="M349.2 835.5L356.6 791" stroke="#33a7c2" stroke-width="3" fill="none"/><path d="M358.3 781L360.6 796.1L356.4 792.4L351.2 794.5z" fill="#33a7c2"/><path d="M397.1 835.5L388.6 789.8" stroke="#33a7c2" stroke-width="3" fill="none"/><path d="M386.8 779.8L394.2 793.2L388.9 791.2L384.7 794.9z" fill="#33a7c2"/><path d="M398.4 825.7L400.7 783.1" stroke="#aadeb7" stroke-width="3" fill="none"/><path d="M401.2 773L405.2 787.7L400.6 784.6L395.6 787.2z" fill="#aadeb7"/><path d="M444.8 827.5L439.2 775.7" stroke="#1f2f88" stroke-width="3" fill="none"/><path d="M438.1 765.6L444.4 779.5L439.3 777.1L434.9 780.5z" fill="#1f2f88"/><path d="M446.3 827L446.3 788.1" stroke="#f1f9b9" stroke-width="3" fill="none"/><path d="M446.3 778L451.1 792.5L446.3 789.6L441.5 792.5z" fill="#f1f9b9"/></g><rect x="81.6" y="738.6" width="388.5" height="355.9" fill="none" stroke="#000" stroke-width="1.6" rx="1.5"/><circle cx="275.9" cy="738.6" r="4.5" fill="#000"/><circle cx="470.1" cy="738.6" r="4.5" fill="#000"/><circle cx="275.9" cy="916.7" r="4.5" fill="#000"/><circle cx="470.1" cy="916.7" r="4.5" fill="#000"/><text transform="translate(276.4 722.7) scale(0.8 1)" font-size="27" text-anchor="middle" class="ar">Y</text><text transform="translate(476 722.8) scale(0.8 1)" font-size="27" text-anchor="middle" class="ar">S</text><text transform="translate(283.5 909.5) scale(0.85 1)" font-size="26" class="ar">Γ</text><text transform="translate(483.5 927) scale(0.82 1)" font-size="26.5" class="ar">X</text><rect x="524.5" y="740.2" width="37.5" height="358.8" fill="url(#ylgnbu)" stroke="#5b8fd6" stroke-width="1"/><text x="572" y="760.5" font-size="28" class="ar">7.5</text><text x="567.5" y="1105.5" font-size="28" class="ar">5.5</text><text transform="translate(607 922) rotate(-90)" text-anchor="middle" font-size="28" class="ar">Velocity (×10<tspan font-size="18" dy="-10">5</tspan><tspan dy="10"> ms</tspan><tspan font-size="18" dy="-10">-1</tspan><tspan dy="10">)</tspan></text><text x="0.3" y="733.3" font-size="55" class="ar">c</text></g><g id="panelD"><g stroke="#9a9a9a" stroke-width="1.3" stroke-dasharray="1.3 3" fill="none"><path d="M877.8 647.8V1089"/><path d="M988 647.8V818M988 958.5V1089"/><path d="M1103.6 647.8V818M1103.6 958.5V1089"/><path d="M762.8 721.2H1213.6"/><path d="M762.8 794.8H1213.6"/><path d="M762.8 1015.6H1213.6"/><path d="M762.8 942H931M1119 942H1213.6"/></g><path d="M762.8 868.4H968.2M1120.3 868.4H1213.6" stroke="#000" stroke-width="2.7" fill="none"/><g clip-path="url(#bclip)" fill="none" stroke-width="2.75" stroke-linejoin="round" stroke-linecap="round"><path d="M763.1 741.3L765.2 742.2L767.2 743L769.3 743.8L771.3 744.7L773.4 745.8L775.4 747L777 748.1L778.5 749.2L780.1 750.5L781.6 751.8L783.2 753.2L784.8 754.6L786.4 756.1L788.1 757.6L789.5 758.9L791 760.3L792.4 761.7L793.9 763.2L795.4 764.8L796.9 766.3L798.5 767.7L800 769.1L801.5 770.3L803 771.4L805.1 772.7L807.2 774L809.3 775.1L811.4 776L813.6 776.7L815.7 777.1L817.8 777.3L819.9 777.1L822.1 776.6L824.3 775.8L826.4 774.8L828.5 773.7L830.6 772.6L832.6 771.4L834.3 770.3L835.9 769.1L837.5 767.8L839 766.5L840.5 765.1L842.1 763.7L843.7 762.2L845.3 760.8L846.9 759.4L848.6 757.9L850.3 756.4L852 754.8L853.8 753.2L855.5 751.7L857.1 750.3L858.7 749.1L860.2 748.1L862.6 746.6L864.9 745.6L867 744.8L868.9 744.3L870.8 743.8L872.9 743.3L874.6 743.2L877.8 743.2L879.2 743.1L880.8 743.1L882.6 743.1L884.5 743.1L886.5 743.1L888.6 743L890.9 743L893.3 742.9L895.7 742.9L898.3 742.8L900.1 742.7L902 742.6L903.9 742.4L906 742.3L908.1 742.2L910.2 742L912.4 741.9L914.6 741.7L916.8 741.5L919.1 741.4L921.3 741.2L923.5 741.1L925.8 740.9L927.9 740.8L930.1 740.6L932.2 740.5L934.4 740.4L936.5 740.2L938.7 740.1L940.9 739.9L943.1 739.8L945.2 739.7L947.4 739.5L949.6 739.4L951.7 739.3L953.8 739.1L955.9 739L957.9 738.9L959.9 738.8L961.9 738.7L964.1 738.6L966.3 738.5L968.5 738.4L970.7 738.2L972.9 738.1L975 738L977.1 737.9L979.1 737.8L981 737.8L982.9 737.8L984.7 737.8L986.4 737.9L987.9 738.1L990.5 738.5L992.5 739.1L994.3 739.7L995.9 740.5L997.5 741.5L999.2 742.6L1001.2 743.8L1002.7 744.8L1004.4 746L1006.1 747.2L1007.8 748.5L1009.6 749.9L1011.3 751.3L1013.1 752.7L1014.8 754.1L1016.5 755.4L1018.1 756.5L1020.1 757.9L1022 759.3L1023.9 760.6L1025.7 761.9L1027.5 763.1L1029.3 764.2L1031.1 765.2L1033 766.1L1035.1 766.9L1037.3 767.5L1039.4 768.1L1041.6 768.4L1043.7 768.7L1045.8 768.8L1047.8 768.8L1050 768.7L1052.1 768.4L1054.2 767.9L1056.2 767.2L1058.3 766.2L1060.5 765L1062.1 764L1063.7 762.8L1065.3 761.4L1067 759.9L1068.6 758.4L1070.3 756.8L1072 755.2L1073.7 753.7L1075.3 752.3L1077 750.9L1078.8 749.5L1080.5 748L1082.3 746.6L1084 745.2L1085.7 743.8L1087.3 742.6L1088.8 741.5L1090.2 740.6L1092.8 739.2L1095 738.5L1096.9 738L1098.6 737.7L1100.2 737.1L1103.7 737L1105 737L1106.5 737.1L1108.1 737.1L1109.8 737.2L1111.7 737.2L1113.7 737.3L1115.8 737.4L1118.1 737.4L1120.5 737.5L1123 737.6L1125.6 737.8L1128.3 737.9L1129.9 738L1131.6 738L1133.4 738.1L1135.3 738.2L1137.2 738.3L1139.1 738.4L1141.1 738.5L1143.1 738.6L1145.2 738.7L1147.3 738.8L1149.4 738.9L1151.5 739.1L1153.7 739.2L1155.8 739.3L1158 739.4L1160.2 739.5L1162.3 739.6L1164.4 739.7L1166.5 739.8L1168.6 739.9L1170.7 740L1172.7 740.1L1174.7 740.2L1176.8 740.3L1178.8 740.3L1180.9 740.4L1182.9 740.5L1185 740.6L1187 740.7L1189.1 740.8L1191.1 740.8L1193.2 740.9L1195.2 741L1197.3 741.1L1199.3 741.1L1201.4 741.2L1203.4 741.3L1205.5 741.4L1207.5 741.5L1209.6 741.5L1211.6 741.6L1213.7 741.7" stroke="#8c00e6"/><path d="M763.1 758.2L765.2 758L767.2 757.8L769.2 757.6L771.2 757.4L773.2 757.2L775.2 757.1L777.3 756.9L779.5 756.7L781.8 756.5L783.7 756.4L785.8 756.2L787.9 756.1L790.1 755.9L792.3 755.7L794.5 755.6L796.7 755.5L798.9 755.4L801 755.3L803.1 755.2L805.1 755.3L807.4 755.3" stroke="#2800ff"/><path d="M807.4 755.3L809.6 755.4L811.7 755.6L813.7 755.8" stroke="#3200fa"/><path d="M813.7 755.8L815.8 756L817.8 756.3L819.9 756.6L822 756.9" stroke="#3c00fa"/><path d="M822 756.9L824.2 757.2L826.2 757.5L828.3 757.8L830.4 758.2L832.6 758.6L834.7 759L836.9 759.4L839.1 759.8L841.2 760.1L843.3 760.5L845.3 760.8L847.6 761L849.8 761.3" stroke="#4600fa"/><path d="M849.8 761.3L852.1 761.5L854.3 761.7L856.4 761.9L858.6 762.1" stroke="#3c00fa"/><path d="M858.6 762.1L860.6 762.2L862.6 762.3L864.4 762.5" stroke="#3200fa"/><path d="M864.4 762.5L867.1 762.6L869.6 762.8L871.9 762.9L874.1 762.9L876 762.8L877.8 762.7L880.2 762.2L881.8 761.3L883.5 759.7L884.7 758.4L885.9 756.9L887.1 755.1L888.4 752.9L889.8 750.2L890.5 748.7L891.2 747.2L891.9 745.6L892.6 743.9L893.3 742.2L894 740.3L894.8 738.3L895.6 736.1L896.5 733.9L897.4 731.5L898.3 729L898.9 727.4L899.5 725.8L900.1 724L900.8 722.2L901.5 720.2L902.2 718.3L902.9 716.3L903.6 714.2L904.3 712.1L905 710.1L905.7 708L906.5 705.9L907.2 703.9L907.9 701.9L908.5 700L909.2 698.1L909.8 696.3L910.4 694.6L911 693L911.9 690.6L912.7 688.3L913.4 686.2L914.1 684.3L914.8 682.4L915.4 680.5L916.1 678.7L916.7 677L917.4 675.2L918 673.4L918.7 671.6L919.5 669.7L920.3 667.7L921.1 665.8L921.9 663.8L922.8 661.9L923.6 660L924.5 658L925.3 656.1L926.2 654.1L927.1 652.2L927.9 650.2L928.8 648.3L929.7 646.4" stroke="#2800ff"/><path d="M1162.6 646.4L1163.3 648.3L1164.1 650.1L1164.8 651.9L1165.4 653.7L1166.1 655.5L1166.8 657.3L1167.6 659.2L1168.3 661.2L1169.1 663.2L1169.9 665.3L1170.7 667.5L1171.3 669.3L1172 671.1L1172.6 672.9L1173.3 674.8L1174 676.8L1174.7 678.8L1175.5 680.8L1176.2 682.9L1176.9 684.9L1177.6 687L1178.4 689.1L1179.1 691.1L1179.8 693.2L1180.6 695.2L1181.3 697.2L1182 699.2L1182.7 701.2L1183.4 703.3L1184.2 705.4L1184.9 707.5L1185.6 709.6L1186.3 711.7L1187.1 713.7L1187.8 715.8L1188.5 717.8L1189.2 719.7L1189.9 721.6L1190.6 723.4L1191.2 725.2L1191.9 726.9L1192.8 729.2L1193.7 731.5L1194.6 733.7L1195.5 735.8L1196.4 737.7L1197.2 739.6L1198 741.3L1198.8 743L1199.6 744.5L1200.3 745.9L1201.7 748.4L1203 750.3L1204.2 751.8L1205.4 753.2L1206.7 754.4L1208.4 755.8L1210.2 756.8L1211.9 757.7L1213.7 758.6" stroke="#2800ff"/><path d="M763.1 1022.1L764.9 1023.1L766.6 1024L769.1 1026.3L770.1 1027.4L771.1 1028.7L772.3 1030.1L773.6 1031.7L774.9 1033.3L776.2 1035.1L777.6 1036.8L779 1038.6L780.4 1040.4L781.8 1042.2L782.9 1043.7L784.2 1045.2L785.4 1046.8L786.6 1048.4L787.9 1050L789.2 1051.7L790.5 1053.3L791.7 1055L793 1056.6L794.2 1058.2L795.4 1059.7L796.6 1061.3L798 1063.1L799.4 1064.9L800.7 1066.7L802.1 1068.5L803.4 1070.2L804.6 1072L805.9 1073.6L807.1 1075.2L808.2 1076.8L809.3 1078.2L810.9 1080.7L812.3 1083.2L813.6 1085.6L814.8 1087.6L816.2 1088.9L817.8 1089.2L819 1088.9" stroke="#2800ff"/><path d="M819 1088.9L820.3 1088" stroke="#3200fa"/><path d="M820.3 1088L821.6 1086.8L823 1085.3L824.5 1083.6" stroke="#3c00fa"/><path d="M824.5 1083.6L826 1081.7" stroke="#4600fa"/><path d="M826 1081.7L827.5 1079.8L829 1077.9" stroke="#5000fa"/><path d="M829 1077.9L830.5 1076.1L831.8 1074.6L833.1 1073.1L834.4 1071.5L835.7 1069.8L837.1 1068.1L838.5 1066.4L839.9 1064.7L841.2 1063L842.6 1061.3L844 1059.7L845.3 1058.1L846.8 1056.4L848.4 1054.7L849.9 1052.9L851.5 1051.2L853 1049.5L854.5 1047.9L856 1046.3L857.5 1044.8L858.9 1043.5L860.2 1042.2L862.2 1040.3" stroke="#5a00fa"/><path d="M862.2 1040.3L864.1 1038.7" stroke="#5000fa"/><path d="M864.1 1038.7L866 1037.3L867.7 1036.1" stroke="#4600fa"/><path d="M867.7 1036.1L869.3 1035.1" stroke="#3c00fa"/><path d="M869.3 1035.1L870.8 1034.2" stroke="#3200fa"/><path d="M870.8 1034.2L873.5 1033L875.8 1032.4L877.8 1031.6L879.6 1030.7L881.4 1027.4L881.8 1026.1L882.3 1024.7" stroke="#2800ff"/><path d="M882.3 1024.7L882.8 1023.2L883.3 1021.5L883.8 1019.6" stroke="#280aff"/><path d="M883.8 1019.6L884.4 1017.6" stroke="#1e0aff"/><path d="M884.4 1017.6L885 1015.5L885.6 1013.3L886.3 1011" stroke="#1e14ff"/><path d="M886.3 1011L887 1008.7" stroke="#1414ff"/><path d="M887 1008.7L887.7 1006.2L888.2 1004.5L888.8 1002.8L889.3 1001" stroke="#141eff"/><path d="M889.3 1001L889.9 999.1L890.5 997.1" stroke="#1428ff"/><path d="M890.5 997.1L891.1 995.2L891.8 993.1" stroke="#0a28ff"/><path d="M891.8 993.1L892.4 991.1L893.1 989L893.7 986.9L894.4 984.8" stroke="#0a32ff"/><path d="M894.4 984.8L895.1 982.6L895.7 980.5" stroke="#0a3cff"/><path d="M895.7 980.5L896.4 978.4L897 976.4" stroke="#003cff"/><path d="M897 976.4L897.7 974.3L898.3 972.3L898.9 970.3" stroke="#0046ff"/><path d="M898.9 970.3L899.6 968.3L900.2 966.3" stroke="#0046fa"/><path d="M900.2 966.3L900.8 964.3L901.4 962.3L902 960.2L902.7 958.2L903.3 956.2L903.9 954.2" stroke="#0050fa"/><path d="M903.9 954.2L904.5 952.2L905.2 950.2L905.8 948.2L906.4 946.2L907 944.2L907.7 942.3" stroke="#005afa"/><path d="M907.7 942.3L908.3 940.3L908.9 938.4" stroke="#0064fa"/><path d="M908.9 938.4L909.6 936.4L910.2 934.4L910.9 932.4" stroke="#0064f0"/><path d="M910.9 932.4L911.5 930.4L912.1 928.5L912.8 926.6L913.4 924.7" stroke="#006ef0"/><path d="M913.4 924.7L914.1 922.7L914.7 920.8L915.4 918.9" stroke="#0078f0"/><path d="M915.4 918.9L916 916.9L916.7 914.9" stroke="#0078e6"/><path d="M916.7 914.9L917.4 912.9L918.1 910.9L918.8 908.8L919.5 906.6" stroke="#0082e6"/><path d="M919.5 906.6L920.1 904.7" stroke="#008ce6"/><path d="M920.1 904.7L920.8 902.8L921.4 900.8L922.1 898.8L922.8 896.7L923.5 894.6L924.2 892.5" stroke="#0082e6"/><path d="M924.2 892.5L924.9 890.4L925.6 888.2L926.3 886.1L927 884L927.7 881.9" stroke="#0078e6"/><path d="M927.7 881.9L928.4 879.9" stroke="#0078f0"/><path d="M928.4 879.9L929 877.9L929.7 875.9L930.3 874L931 872.2L931.6 870.4L932.1 868.8" stroke="#006ef0"/><path d="M932.1 868.8L933 866.3" stroke="#0064f0"/><path d="M933 866.3L933.8 864L934.6 861.8L935.3 859.7L936 857.8" stroke="#006ef0"/><path d="M936 857.8L936.7 855.9" stroke="#0078f0"/><path d="M936.7 855.9L937.4 854.1L938.1 852.3" stroke="#0078e6"/><path d="M938.1 852.3L938.7 850.6L939.4 848.8L940.1 847.1L940.8 845.3" stroke="#0082e6"/><path d="M940.8 845.3L941.7 843.1L942.5 841L943.4 839L944.3 836.9L945.1 834.9L946 833L946.8 831.1L947.7 829.2L948.6 827.3L949.4 825.5L950.4 823.6L951.4 821.6L952.3 819.8L953.3 818L954.3 816.2L955.2 814.5L956.2 812.8L957.1 811.1L958.1 809.4L959.2 807.6L960.3 805.8L961.4 803.9L962.5 802.2L963.6 800.5L964.7 798.8L965.7 797.3L966.7 795.8L968.3 793.7L969.9 791.9L971.3 790.2L972.8 788.6L974.2 787.2L976.3 785.2L978.3 783.6L980.3 782.2L982.4 781.2L984.4 780.4L986.5 779.8L988.1 779.5L989.9 779.4L993.9 779.4L995.3 779.4L996.8 779.4L998.4 779.4L1000.1 779.3L1002 779.3L1003.9 779.3L1006 779.3L1008.1 779.3L1010.3 779.3L1012.6 779.3L1015 779.3L1017.4 779.2L1019.9 779.2L1022.4 779.2L1024.1 779.2L1025.9 779.2L1027.8 779.1L1029.7 779.1L1031.7 779.1L1033.7 779.1L1035.8 779.1L1037.9 779L1040 779L1042.1 779L1044.3 779L1046.4 779L1048.6 778.9L1050.7 778.9L1052.9 778.9L1054.9 778.9L1057 778.8L1059 778.8L1061 778.8L1062.9 778.8L1064.7 778.8L1067.2 778.7L1069.6 778.7L1072 778.7L1074.5 778.7L1076.9 778.7L1079.4 778.6L1081.7 778.6L1084 778.6L1086.3 778.6L1088.4 778.5L1090.5 778.5L1092.4 778.5L1094.2 778.5L1095.9 778.5L1097.3 778.5L1098.6 778.5L1103 778.5L1103.5 778.5L1105 778.5L1106.6 778.8L1108.2 779.4L1110.1 780.3L1112.1 781.6L1113.9 782.9L1115.7 784.3L1117.7 786L1119.6 787.8L1121 789.4L1122.5 791.1L1124 793L1125.5 795L1127 797.1L1128 798.7L1129.1 800.3L1130.2 802L1131.2 803.8L1132.3 805.6L1133.3 807.5L1134.4 809.4L1135.3 811.2L1136.2 812.9L1137.2 814.7L1138.1 816.6L1139 818.4L1140 820.3L1140.9 822.3L1141.8 824.3L1142.6 826.1" stroke="#008ce6"/><path d="M1142.6 826.1L1143.5 827.9L1144.3 829.8" stroke="#0082e6"/><path d="M1144.3 829.8L1145.1 831.7L1145.9 833.6L1146.7 835.5" stroke="#0078e6"/><path d="M1146.7 835.5L1147.6 837.5" stroke="#0078f0"/><path d="M1147.6 837.5L1148.4 839.5L1149.2 841.6" stroke="#006ef0"/><path d="M1149.2 841.6L1150 843.5L1150.8 845.6L1151.6 847.7L1152.4 849.9L1153.2 852.1L1154 854.2L1154.8 856.3" stroke="#0064f0"/><path d="M1154.8 856.3L1155.5 858.2L1156.1 859.9L1156.6 861.4L1157.8 864.5L1158.5 866.2" stroke="#005af0"/><path d="M1158.5 866.2L1159.4 868.8L1159.9 870.5" stroke="#0064f0"/><path d="M1159.9 870.5L1160.6 872.4L1161.3 874.5" stroke="#006ef0"/><path d="M1161.3 874.5L1162 876.8" stroke="#0078f0"/><path d="M1162 876.8L1162.7 879" stroke="#0078e6"/><path d="M1162.7 879L1163.4 881.3L1164.1 883.6" stroke="#0082e6"/><path d="M1164.1 883.6L1164.5 885.3L1164.8 886.5L1165 887.7L1165.3 888.9L1165.7 890.5L1166.3 892.7L1167.1 895.8L1168.4 900L1168.8 901.3" stroke="#008ce6"/><path d="M1168.8 901.3L1169.2 902.7L1169.6 904.2L1170.1 905.8L1170.6 907.5" stroke="#0082e6"/><path d="M1170.6 907.5L1171.2 909.3L1171.7 911.1L1172.3 913L1172.9 915" stroke="#0078e6"/><path d="M1172.9 915L1173.5 917" stroke="#0078f0"/><path d="M1173.5 917L1174.1 919.1L1174.8 921.3L1175.5 923.4L1176.1 925.6L1176.8 927.8" stroke="#006ef0"/><path d="M1176.8 927.8L1177.5 930L1178.2 932.3L1178.9 934.5L1179.5 936.7L1180.2 938.9" stroke="#0064f0"/><path d="M1180.2 938.9L1180.9 941.1" stroke="#005af0"/><path d="M1180.9 941.1L1181.6 943.3L1182.3 945.4L1182.9 947.5L1183.6 949.5" stroke="#005afa"/><path d="M1183.6 949.5L1184.2 951.5L1184.8 953.4L1185.4 955.2L1186 957L1186.6 958.6" stroke="#0050fa"/><path d="M1186.6 958.6L1187.1 960.2L1187.6 961.7" stroke="#0046fa"/><path d="M1187.6 961.7L1188.6 964.4L1189.5 966.9L1190.4 969.2" stroke="#0046ff"/><path d="M1190.4 969.2L1191.2 971.3L1192.1 973.3" stroke="#003cff"/><path d="M1192.1 973.3L1192.8 975.1L1193.6 976.8L1194.4 978.5L1195.1 980" stroke="#0a3cff"/><path d="M1195.1 980L1195.8 981.6L1196.5 983.1L1197.3 984.6" stroke="#0a32ff"/><path d="M1197.3 984.6L1198 986.2L1198.8 987.8" stroke="#1432ff"/><path d="M1198.8 987.8L1199.5 989.5L1200.3 991.4L1201.2 993.2L1202 995.1L1202.8 997.1" stroke="#1428ff"/><path d="M1202.8 997.1L1203.6 999" stroke="#141eff"/><path d="M1203.6 999L1204.5 1000.9L1205.3 1002.8" stroke="#1e1eff"/><path d="M1205.3 1002.8L1206.1 1004.7L1207 1006.6L1207.8 1008.6L1208.7 1010.5" stroke="#1e14ff"/><path d="M1208.7 1010.5L1209.5 1012.4" stroke="#2814ff"/><path d="M1209.5 1012.4L1210.3 1014.4L1211.2 1016.3L1212 1018.2" stroke="#280aff"/><path d="M1212 1018.2L1212.9 1020.2L1213.7 1022.1" stroke="#2800ff"/><path d="M763.1 1006.2L764.7 1004.6" stroke="#ff0014"/><path d="M764.7 1004.6L766.2 1003.2" stroke="#fa001e"/><path d="M766.2 1003.2L767.8 1001.6" stroke="#fa0028"/><path d="M767.8 1001.6L769.4 999.9" stroke="#fa0032"/><path d="M769.4 999.9L771.2 997.7" stroke="#f0003c"/><path d="M771.2 997.7L772.3 996.3" stroke="#f00046"/><path d="M772.3 996.3L773.4 994.7L774.5 992.9" stroke="#f00050"/><path d="M774.5 992.9L775.7 991.1L776.9 989.2" stroke="#e6005a"/><path d="M776.9 989.2L778.2 987.3L779.4 985.4" stroke="#e60064"/><path d="M779.4 985.4L780.6 983.6L781.8 981.8" stroke="#dc006e"/><path d="M781.8 981.8L782.9 980.1" stroke="#dc0078"/><path d="M782.9 980.1L784.1 978.5" stroke="#dc0082"/><path d="M784.1 978.5L785.2 976.8" stroke="#d20082"/><path d="M785.2 976.8L786.4 975.2L787.5 973.6" stroke="#d2008c"/><path d="M787.5 973.6L788.7 972" stroke="#d20096"/><path d="M788.7 972L789.9 970.3" stroke="#c80096"/><path d="M789.9 970.3L791.1 968.7L792.4 967" stroke="#c800a0"/><path d="M792.4 967L793.6 965.4L794.8 963.8L796 962.2L797.3 960.5L798.5 958.9L799.8 957.2L801.1 955.6L802.4 954.1L803.8 952.5L805.1 951.1L806.6 949.6L808 948.2L809.5 946.8L811 945.6L812.5 944.3L814.1 943L815.6 941.7L817.2 940.3L818.9 938.8L820.2 937.5L821.6 936.2L823.1 934.7L824.5 933.3L826 931.8L827.5 930.3L829 928.9L830.4 927.5L831.9 926.1L833.3 924.8L834.7 923.6L836.4 922.2L838.1 920.8L839.8 919.5L841.4 918.3L843 917.1L844.7 916L846.3 914.9L847.9 913.9L849.6 913L851.4 911.9L853.3 911L855.2 910.1L857.1 909.2L859 908.5L860.8 907.8L862.6 907.2L864.4 906.6L866.7 906L868.9 905.6L871 905.4L873.1 905.2L875.4 905L877.8 904.9L879.7 904.9L881.8 904.9L883.9 904.9L886.1 905L888.2 905L890.3 905.1L892.3 905L894.1 904.9L896.6 904.7" stroke="#c800aa"/><path d="M896.6 904.7L898.7 904.4" stroke="#be00b4"/><path d="M898.7 904.4L900.7 903.9" stroke="#b400b4"/><path d="M900.7 903.9L902.6 903.3" stroke="#b400be"/><path d="M902.6 903.3L904.7 902.4" stroke="#aa00be"/><path d="M904.7 902.4L906.4 901.4" stroke="#aa00c8"/><path d="M906.4 901.4L908.2 900.2L910 898.9" stroke="#a000d2"/><path d="M910 898.9L911.7 897.4L913.5 895.7" stroke="#9600dc"/><path d="M913.5 895.7L915.3 893.9L916.5 892.5" stroke="#8c00e6"/><path d="M916.5 892.5L917.7 890.9" stroke="#8200e6"/><path d="M917.7 890.9L918.9 889.3" stroke="#8200f0"/><path d="M918.9 889.3L920.2 887.5L921.4 885.7" stroke="#7800f0"/><path d="M921.4 885.7L922.6 883.9L923.8 882.2" stroke="#6e00f0"/><path d="M923.8 882.2L924.8 880.6" stroke="#6400fa"/><path d="M924.8 880.6L925.8 879.1L927.1 877.2" stroke="#5a00fa"/><path d="M927.1 877.2L928.2 875.7" stroke="#500afa"/><path d="M928.2 875.7L929.2 874.4" stroke="#460afa"/><path d="M929.2 874.4L930.2 872.9" stroke="#3c14fa"/><path d="M930.2 872.9L931.2 871.1" stroke="#321efa"/><path d="M931.2 871.1L932.4 868.8" stroke="#281efa"/><path d="M932.4 868.8L933.1 867.3" stroke="#1e28ff"/><path d="M933.1 867.3L933.8 865.7L934.5 864" stroke="#1e32fa"/><path d="M934.5 864L935.2 862.2L936 860.2" stroke="#143cfa"/><path d="M936 860.2L936.8 858.2L937.5 856.2" stroke="#1446fa"/><path d="M937.5 856.2L938.3 854.2" stroke="#0a50fa"/><path d="M938.3 854.2L939.1 852.2" stroke="#0a50f0"/><path d="M939.1 852.2L939.9 850.2" stroke="#0a5af0"/><path d="M939.9 850.2L940.7 848.3" stroke="#005af0"/><path d="M940.7 848.3L941.4 846.5L942.3 844.4" stroke="#0064f0"/><path d="M942.3 844.4L943.2 842.4L944 840.3L944.9 838.3" stroke="#006ef0"/><path d="M944.9 838.3L945.7 836.3" stroke="#0078f0"/><path d="M945.7 836.3L946.6 834.3L947.4 832.4" stroke="#0078e6"/><path d="M947.4 832.4L948.3 830.5L949.2 828.6L950.1 826.7" stroke="#0082e6"/><path d="M950.1 826.7L951.1 824.7L952.1 822.7L953.1 820.8L954.2 818.9L955.2 817L956.3 815.2L957.3 813.4L958.3 811.7L959.3 810.1L960.6 808L961.9 806.1L963.1 804.2L964.4 802.4L965.6 800.7L966.8 799.1L968 797.7L969.6 795.9L971.1 794.4L972.6 793.1L974 792L975.4 790.9L977.6 789.4L979.6 788.2L981.6 787.2L983.5 786.5L985.3 785.9L987.8 785.6L989.6 785.5L991.8 785.4L994.1 785.4L996.5 785.4L998.9 785.3L1000.7 785.3L1002.4 785.2L1004 785.1L1006 785L1008.5 784.8L1011.8 784.5L1013.3 784.4L1015.1 784.2L1016.9 784L1018.9 783.8L1021 783.6L1023.1 783.4L1025.4 783.2L1027.6 783L1029.9 782.8L1032.3 782.5L1034.6 782.3L1036.9 782.1L1039.2 781.9L1041.4 781.7L1043.6 781.5L1045.7 781.4L1047.9 781.2L1050.1 781L1052.3 780.9L1054.5 780.7L1056.7 780.5L1058.9 780.4L1061.1 780.2L1063.2 780.1L1065.4 780L1067.5 779.8L1069.5 779.7L1071.5 779.6L1073.5 779.5L1075.3 779.4L1077.8 779.3L1080.3 779.2L1082.8 779.1L1085.2 779.1L1087.5 779L1089.8 779L1091.9 779L1093.8 778.9L1095.6 778.9L1097.3 778.9L1098.6 778.9L1102.3 778.8L1103.5 778.9L1105 778.9L1106.7 779.2L1108.4 779.8L1110.3 780.7L1112.5 782L1114.3 783.2L1116.2 784.7L1118.1 786.3L1120 788.2L1121.6 789.8L1123.1 791.5L1124.6 793.4L1126.1 795.4L1127.6 797.5L1128.7 799L1129.7 800.7L1130.8 802.4L1131.8 804.2L1132.9 806L1133.9 807.9L1135 809.8L1135.9 811.5L1136.9 813.3L1137.8 815.1L1138.7 816.9L1139.6 818.8L1140.6 820.7L1141.5 822.7L1142.4 824.6L1143.3 826.4" stroke="#008ce6"/><path d="M1143.3 826.4L1144.1 828.3L1144.9 830.1" stroke="#0082e6"/><path d="M1144.9 830.1L1145.8 832L1146.6 834L1147.5 835.9" stroke="#0078e6"/><path d="M1147.5 835.9L1148.3 837.9" stroke="#0078f0"/><path d="M1148.3 837.9L1149.1 839.9L1150 842" stroke="#006ef0"/><path d="M1150 842L1150.7 843.9L1151.5 846L1152.3 848.1" stroke="#0064f0"/><path d="M1152.3 848.1L1153.2 850.3L1154 852.5" stroke="#005af0"/><path d="M1154 852.5L1154.8 854.6" stroke="#0050f0"/><path d="M1154.8 854.6L1155.5 856.7" stroke="#0a50fa"/><path d="M1155.5 856.7L1156.2 858.6L1156.8 860.3" stroke="#0a46fa"/><path d="M1156.8 860.3L1157.4 861.7L1158.5 864.8" stroke="#0a3cfa"/><path d="M1158.5 864.8L1159.2 866.5L1160.1 868.8" stroke="#1432fa"/><path d="M1160.1 868.8L1160.8 870.5" stroke="#1e28ff"/><path d="M1160.8 870.5L1161.6 872.5" stroke="#281efa"/><path d="M1161.6 872.5L1162.4 874.6" stroke="#321efa"/><path d="M1162.4 874.6L1163.3 876.8" stroke="#3c14fa"/><path d="M1163.3 876.8L1164.3 879" stroke="#460afa"/><path d="M1164.3 879L1165.3 881.1" stroke="#500afa"/><path d="M1165.3 881.1L1166.2 883" stroke="#5a00fa"/><path d="M1166.2 883L1167.2 884.9" stroke="#6400fa"/><path d="M1167.2 884.9L1168.2 886.8" stroke="#6400f0"/><path d="M1168.2 886.8L1169.2 888.7" stroke="#6e00f0"/><path d="M1169.2 888.7L1170.4 890.6L1171.5 892.3" stroke="#7800f0"/><path d="M1171.5 892.3L1172.8 893.9" stroke="#8200e6"/><path d="M1172.8 893.9L1174.4 895.6L1176 897.2L1177.8 898.6L1179.6 900" stroke="#8c00e6"/><path d="M1179.6 900L1181.5 901.2" stroke="#8c00dc"/><path d="M1181.5 901.2L1183.4 902.4L1185.3 903.4L1187.3 904.3" stroke="#9600dc"/><path d="M1187.3 904.3L1189.3 905.2L1191.4 905.9L1193.7 906.5" stroke="#a000d2"/><path d="M1193.7 906.5L1196.1 907L1198.1 907.4" stroke="#a000c8"/><path d="M1198.1 907.4L1200.2 907.6L1202.3 907.8L1204.6 907.9L1206.9 908" stroke="#aa00c8"/><path d="M1206.9 908L1209.2 908.1L1211.5 908.2L1213.7 908.3" stroke="#aa00be"/><path d="M763.1 907.7L765.2 908.1L767.2 908.4L769.3 908.8L771.3 909.1L773.4 909.6L775.5 910.1L777.5 910.8L779.4 911.6L781.2 912.5L783.1 913.5L784.9 914.6L786.8 915.8L788.7 916.9L790.5 918.1L792.4 919.3L794 920.4L795.7 921.6L797.4 922.7L799.1 923.9L800.8 925.2L802.5 926.4L804.1 927.6L805.7 928.8L807.2 929.9L809 931.3L810.6 932.5L812.2 933.7L813.7 934.9L815.3 936.2L817 937.7L818.9 939.4L820.1 940.7" stroke="#c800aa"/><path d="M820.1 940.7L821.5 942.1L822.9 943.5" stroke="#c800a0"/><path d="M822.9 943.5L824.4 945" stroke="#c80096"/><path d="M824.4 945L825.9 946.6" stroke="#d20096"/><path d="M825.9 946.6L827.4 948.2L828.9 949.8" stroke="#d2008c"/><path d="M828.9 949.8L830.4 951.5" stroke="#d20082"/><path d="M830.4 951.5L831.9 953.2" stroke="#dc0082"/><path d="M831.9 953.2L833.3 954.8L834.7 956.4" stroke="#dc0078"/><path d="M834.7 956.4L836.1 958" stroke="#dc006e"/><path d="M836.1 958L837.5 959.6" stroke="#e6006e"/><path d="M837.5 959.6L838.9 961.3L840.2 962.9" stroke="#e60064"/><path d="M840.2 962.9L841.6 964.6L842.9 966.2" stroke="#e6005a"/><path d="M842.9 966.2L844.2 967.9L845.6 969.5" stroke="#f00050"/><path d="M845.6 969.5L846.9 971.2L848.2 972.8" stroke="#f00046"/><path d="M848.2 972.8L849.6 974.4L850.9 976" stroke="#f0003c"/><path d="M850.9 976L852.4 977.7" stroke="#fa003c"/><path d="M852.4 977.7L853.8 979.4L855.2 981L856.7 982.7" stroke="#fa0032"/><path d="M856.7 982.7L858.1 984.4L859.5 985.9L860.8 987.4" stroke="#fa0028"/><path d="M860.8 987.4L862.1 988.9L863.3 990.2L864.4 991.4" stroke="#fa001e"/><path d="M864.4 991.4L866.6 993.5L868.4 995.3L870.1 996.7L871.5 997.8L872.9 998.8L875.4 1000L877.8 1000.5L880 1000.7L882.5 1000.8L885.6 1001.5L887.2 1002.2L888.9 1002.9L890.7 1003.8L892.6 1004.8L894.5 1005.9L896.4 1007.1L898.3 1008.3L899.9 1009.4L901.4 1010.5L903 1011.7L904.5 1013L906.1 1014.3L907.7 1015.7L909.3 1017.2L911 1018.9L912.3 1020.2L913.6 1021.6L914.9 1023L916.3 1024.5L917.6 1026.1L919 1027.6L920.4 1029.3L921.7 1030.9L923.1 1032.6L924.5 1034.2L925.8 1035.8L927.1 1037.4L928.3 1039L929.5 1040.6L930.7 1042.2L931.9 1043.9L933.1 1045.5L934.3 1047.2L935.6 1048.8L936.8 1050.4L938.1 1052L939.4 1053.5L940.7 1054.9L942.1 1056.5L943.6 1058L945.1 1059.5L946.7 1060.9L948.2 1062.4L949.8 1063.7L951.4 1065.1L952.9 1066.4L954.5 1067.6L956.1 1068.7L957.6 1069.7L959.5 1070.9L961.5 1072L963.4 1073L965.4 1073.8L967.3 1074.6L969.2 1075.4L971.1 1076L972.9 1076.6L974.6 1077.2L977.2 1077.8L979.8 1078.3L982.3 1078.7L984.6 1078.9L986.5 1079.1L987.9 1079.3L988 1079.6L988.1 1079.3L989.5 1079L991.5 1078.6L993.8 1078.2L996.4 1077.6L998.9 1076.9L1001.2 1076.1L1003 1075.3L1004.8 1074.4L1006.7 1073.3L1008.5 1072.2L1010.3 1071.1L1012.1 1069.9L1013.9 1068.7L1015.7 1067.4L1017.5 1066.1L1019.3 1064.7L1021.2 1063.3L1023 1061.9L1024.8 1060.5L1026.6 1059.2L1028.4 1057.8L1030.2 1056.4" stroke="#ff0014"/><path d="M1030.2 1056.4L1032.1 1055L1033.9 1053.6L1035.7 1052.3L1037.5 1050.9" stroke="#ff0a14"/><path d="M1037.5 1050.9L1039.3 1049.6L1041.1 1048.3L1043 1047.1" stroke="#ff1414"/><path d="M1043 1047.1L1044.8 1045.8L1046.6 1044.6L1048.4 1043.4L1050.2 1042.2" stroke="#ff1e14"/><path d="M1050.2 1042.2L1052 1041.1L1053.8 1040.1L1055.7 1039.1" stroke="#ff2814"/><path d="M1055.7 1039.1L1057.5 1038.2L1059.3 1037.3L1061.1 1036.4L1062.9 1035.6" stroke="#ff3214"/><path d="M1062.9 1035.6L1064.7 1034.8L1066.9 1033.9L1069 1033.2L1071.1 1032.4L1073.2 1031.8L1075.3 1031.1L1077.5 1030.6L1079.6 1030L1081.7 1029.5L1083.8 1029.1L1085.9 1028.7L1088 1028.3L1090.2 1028L1092.4 1027.8L1094.7 1027.6L1097 1027.5L1099.3 1027.4L1101.6 1027.2L1103.7 1026.9L1105.8 1026.6L1107.8 1026.3L1109.7 1025.9L1111.6 1025.4L1113.6 1024.9L1115.6 1024.2L1117.4 1023.5L1119.2 1022.7" stroke="#ff3c14"/><path d="M1119.2 1022.7L1121 1021.8L1122.8 1020.8" stroke="#ff4614"/><path d="M1122.8 1020.8L1124.6 1019.8L1126.5 1018.8" stroke="#ff460a"/><path d="M1126.5 1018.8L1128.3 1017.8L1130.1 1016.8L1131.9 1015.8" stroke="#ff500a"/><path d="M1131.9 1015.8L1133.8 1014.7L1135.6 1013.6" stroke="#ff5a0a"/><path d="M1135.6 1013.6L1137.4 1012.5" stroke="#ff5a00"/><path d="M1137.4 1012.5L1139.2 1011.4L1141 1010.4L1142.9 1009.4" stroke="#ff6400"/><path d="M1142.9 1009.4L1144.8 1008.4L1146.7 1007.3L1148.6 1006.4" stroke="#ff6e00"/><path d="M1148.6 1006.4L1150.4 1005.5L1152.1 1004.7L1153.7 1004.1L1156.1 1003.3" stroke="#ff7800"/><path d="M1156.1 1003.3L1158.2 1002.9L1160.2 1002.9L1162.2 1003" stroke="#fa8200"/><path d="M1162.2 1003L1164.3 1003.4" stroke="#fa8c00"/><path d="M1164.3 1003.4L1166.4 1003.9L1168.6 1004.8" stroke="#f08c00"/><path d="M1168.6 1004.8L1170.7 1006.2" stroke="#e68c00"/><path d="M1170.7 1006.2L1172.1 1007.4L1173.5 1008.8L1174.9 1010.4L1176.3 1012.2" stroke="#dc8c00"/><path d="M1176.3 1012.2L1177.7 1013.9L1179.2 1015.7" stroke="#d29600"/><path d="M1179.2 1015.7L1180.4 1017.3L1181.6 1018.9L1182.8 1020.6L1184 1022.3L1185.2 1024.1L1186.4 1025.7L1187.6 1027.4L1189 1029.2" stroke="#c89600"/><path d="M1189 1029.2L1190.5 1031.1" stroke="#d29600"/><path d="M1190.5 1031.1L1191.9 1032.9" stroke="#d28c00"/><path d="M1191.9 1032.9L1193.3 1034.7" stroke="#dc8c00"/><path d="M1193.3 1034.7L1194.7 1036.4L1196.1 1038" stroke="#dc8200"/><path d="M1196.1 1038L1197.8 1039.7" stroke="#dc7800"/><path d="M1197.8 1039.7L1199.5 1041.3" stroke="#e67800"/><path d="M1199.5 1041.3L1201.1 1042.8" stroke="#f07800"/><path d="M1201.1 1042.8L1202.8 1044.2" stroke="#f06e00"/><path d="M1202.8 1044.2L1204.6 1045.4" stroke="#fa6e00"/><path d="M1204.6 1045.4L1206.4 1046.4L1208.2 1047.3L1210 1048.1L1211.9 1048.8L1213.7 1049.6" stroke="#ff6400"/><path d="M763.1 1018.9L764.4 1017.2" stroke="#5a00fa"/><path d="M764.4 1017.2L765.7 1015.6" stroke="#6400fa"/><path d="M765.7 1015.6L767 1014L768.3 1012.3" stroke="#6400f0"/><path d="M768.3 1012.3L769.7 1010.4" stroke="#6e00f0"/><path d="M769.7 1010.4L771.2 1008.3L772.3 1006.7" stroke="#7800f0"/><path d="M772.3 1006.7L773.4 1004.9L774.5 1003L775.7 1001.1" stroke="#7800e6"/><path d="M775.7 1001.1L776.9 999.1L778.2 997.1L779.4 995.1L780.6 993.2L781.8 991.4" stroke="#8200e6"/><path d="M781.8 991.4L782.9 989.6L784.1 987.9L785.2 986.2L786.4 984.6L787.5 982.9L788.7 981.3L789.9 979.7L791.1 978.1L792.4 976.5L793.7 974.9" stroke="#8c00e6"/><path d="M793.7 974.9L795 973.3L796.4 971.6" stroke="#8200e6"/><path d="M796.4 971.6L797.8 969.9" stroke="#8200f0"/><path d="M797.8 969.9L799.2 968.3L800.6 966.8L802.1 965.3L803.6 964" stroke="#7800f0"/><path d="M803.6 964L805.1 962.8L806.8 961.5" stroke="#6e00f0"/><path d="M806.8 961.5L808.6 960.4" stroke="#6e00fa"/><path d="M808.6 960.4L810.5 959.3L812.4 958.4L814.3 957.6L816.2 957L818 956.6" stroke="#6400fa"/><path d="M818 956.6L819.9 956.4L822 956.5L824.2 956.8" stroke="#5a00fa"/><path d="M824.2 956.8L826.3 957.4L828.4 958.1L830.5 959.1L832.6 960.3" stroke="#5000fa"/><path d="M832.6 960.3L834.7 961.7" stroke="#4600fa"/><path d="M834.7 961.7L836.2 962.8L837.7 964.1" stroke="#4600ff"/><path d="M837.7 964.1L839.2 965.5L840.7 967L842.2 968.6L843.6 970.2L845.1 971.9" stroke="#3c00ff"/><path d="M845.1 971.9L846.6 973.5L848.1 975L849.6 976.5" stroke="#3200ff"/><path d="M849.6 976.5L851.1 978L852.6 979.5L854.2 981L855.8 982.5L857.4 984L858.9 985.5L860.4 986.9L861.8 988.1L863.2 989.3L864.4 990.3L867.1 992.2L869.3 993.4L871.2 994.3L872.9 995L874.6 995.7L877.8 995.6L879.1 995.5L880.7 995.4L882.4 995.2L884.3 995L886.3 994.7L888.5 994.5L890.8 994.2L893.2 994L895.7 993.7L898.3 993.5L900.1 993.3L902 993.1L903.9 993L906 992.8L908.1 992.6L910.2 992.4L912.4 992.2L914.6 992.1L916.8 991.9L919.1 991.7L921.3 991.5L923.5 991.4L925.8 991.2L927.9 991.1L930.1 990.9L932.2 990.8L934.4 990.7L936.5 990.6L938.7 990.5L940.9 990.4L943.1 990.3L945.2 990.2L947.4 990.1L949.6 990L951.7 990L953.8 989.9L955.9 989.8L957.9 989.8L959.9 989.7L961.9 989.7L964.1 989.6L966.4 989.5L968.8 989.5L971.2 989.5L973.5 989.4L975.8 989.4L978 989.4L980 989.4L982 989.3L983.8 989.3L985.4 989.3L986.8 989.3L987.9 989.2L989.1 989.2L988.1 988.8L989.5 988.5L991.6 988.1L994.1 987.4L996.9 986.1L998.3 985.1" stroke="#2800ff"/><path d="M998.3 985.1L999.8 984L1001.5 982.8L1003.1 981.4L1004.9 979.9L1006.6 978.5" stroke="#3200ff"/><path d="M1006.6 978.5L1008.4 977L1010.1 975.7L1011.8 974.4L1013.6 973.1" stroke="#3c00ff"/><path d="M1013.6 973.1L1015.5 971.7" stroke="#3c00fa"/><path d="M1015.5 971.7L1017.3 970.4L1019.2 969.1" stroke="#4600fa"/><path d="M1019.2 969.1L1021 967.9L1022.9 966.8L1024.8 965.8" stroke="#5000fa"/><path d="M1024.8 965.8L1026.6 964.9L1028.8 964L1031 963.2L1033.2 962.6L1035.4 962.1L1037.5 961.7L1039.5 961.3L1041.4 961.1L1043.8 960.8L1045.9 960.6L1047.8 960.7L1049.8 961L1052 961.7L1053.7 962.4L1055.5 963.4L1057.3 964.4L1059.2 965.7L1061.1 967.1L1062.9 968.6L1064.7 970.2L1066.2 971.5L1067.6 973.1L1069 974.7" stroke="#5a00fa"/><path d="M1069 974.7L1070.4 976.4L1071.8 978.1L1073.2 979.9L1074.6 981.7" stroke="#5000fa"/><path d="M1074.6 981.7L1076 983.4L1077.5 985" stroke="#4600fa"/><path d="M1077.5 985L1078.9 986.6L1080.4 988.3" stroke="#4600ff"/><path d="M1080.4 988.3L1081.9 990L1083.3 991.6L1084.8 993.3L1086.2 994.8" stroke="#3c00ff"/><path d="M1086.2 994.8L1087.6 996.3L1088.9 997.6L1090.2 998.8" stroke="#3200ff"/><path d="M1090.2 998.8L1092.2 1000.5L1094 1001.9L1095.7 1002.9L1097.2 1003.8L1098.6 1004.5L1100.2 1005.2L1103.7 1005.3L1105.1 1005.4L1106.7 1005.5L1108.6 1005.6L1110.6 1005.7L1112.8 1005.8L1115 1005.9L1117.3 1006L1119.6 1006.1L1121.9 1006.3L1124.2 1006.4L1126.3 1006.5L1128.3 1006.6L1130.6 1006.8L1132.8 1006.9L1134.9 1007.1L1137 1007.2L1139.1 1007.4L1141.2 1007.5L1143.2 1007.7L1145.3 1007.9L1147.4 1008.1L1149.5 1008.3L1151.6 1008.5L1153.9 1008.8L1156.1 1009L1158.4 1009.3L1160.6 1009.6L1162.8 1009.9L1164.9 1010.2L1167 1010.4L1168.9 1010.6L1170.7 1010.8L1173.3 1011.2" stroke="#2800ff"/><path d="M1173.3 1011.2L1175.6 1011.5L1177.7 1011.7" stroke="#3200ff"/><path d="M1177.7 1011.7L1179.6 1011.9L1181.5 1012.1" stroke="#3c00ff"/><path d="M1181.5 1012.1L1183.4 1012.1L1185.7 1012" stroke="#4600ff"/><path d="M1185.7 1012L1187.9 1011.9" stroke="#5a00f0"/><path d="M1187.9 1011.9L1190 1011.6" stroke="#6400e6"/><path d="M1190 1011.6L1192 1011.2" stroke="#7800dc"/><path d="M1192 1011.2L1194 1010.8" stroke="#8200d2"/><path d="M1194 1010.8L1196.2 1010.3" stroke="#9600c8"/><path d="M1196.2 1010.3L1198.2 1009.7" stroke="#aa00b4"/><path d="M1198.2 1009.7L1200.2 1009" stroke="#b40a96"/><path d="M1200.2 1009L1202.5 1008.3" stroke="#c81478"/><path d="M1202.5 1008.3L1204.5 1007.8" stroke="#dc1464"/><path d="M1204.5 1007.8L1206.8 1007.3" stroke="#e61e50"/><path d="M1206.8 1007.3L1209.1 1006.8" stroke="#e62846"/><path d="M1209.1 1006.8L1211.4 1006.3" stroke="#f02832"/><path d="M1211.4 1006.3L1213.7 1005.8" stroke="#fa3228"/><path d="M763.1 1049.6L765.1 1049.3L767 1049.1L769 1048.7L771.2 1048.1L773.1 1047.4L775 1046.6L777.1 1045.6L779.3 1044.5L781.8 1043.3L783.4 1042.4L785.2 1041.5L787 1040.5L788.9 1039.4L790.9 1038.4L792.8 1037.5L794.7 1036.6L796.6 1035.8L798.8 1035.1" stroke="#ff6400"/><path d="M798.8 1035.1L801 1034.5L803.3 1034L805.5 1033.6" stroke="#fa6e00"/><path d="M805.5 1033.6L807.7 1033.2L809.7 1032.9L811.4 1032.7L813.9 1032.3" stroke="#f07800"/><path d="M813.9 1032.3L815.7 1032.2" stroke="#e68200"/><path d="M815.7 1032.2L817.5 1032.3L819.9 1032.7L821.7 1033" stroke="#dc8c00"/><path d="M821.7 1033L823.7 1033.5" stroke="#d29600"/><path d="M823.7 1033.5L825.8 1034.1" stroke="#d2a000"/><path d="M825.8 1034.1L828.1 1034.7L830.3 1035.4" stroke="#c8a000"/><path d="M830.3 1035.4L832.6 1036.2" stroke="#c8aa00"/><path d="M832.6 1036.2L834.7 1036.9L836.6 1037.6L838.5 1038.4" stroke="#beb400"/><path d="M838.5 1038.4L840.3 1039.3L842.2 1040.1" stroke="#b4be00"/><path d="M842.2 1040.1L844 1041" stroke="#b4c800"/><path d="M844 1041L845.9 1041.8" stroke="#aac800"/><path d="M845.9 1041.8L847.7 1042.6L849.6 1043.3" stroke="#aad200"/><path d="M849.6 1043.3L851.7 1043.9L853.9 1044.6L856.2 1045.1" stroke="#a0dc00"/><path d="M856.2 1045.1L858.3 1045.6" stroke="#96dc00"/><path d="M858.3 1045.6L860.5 1046.1L862.5 1046.5L864.4 1046.9" stroke="#8ce600"/><path d="M864.4 1046.9L866.9 1047.3L869.3 1047.6" stroke="#82f000"/><path d="M869.3 1047.6L871.5 1047.8L873.5 1048" stroke="#78f000"/><path d="M873.5 1048L875 1048.1L876.8 1048.2" stroke="#6ef000"/><path d="M876.8 1048.2L877.8 1048.6" stroke="#64f00a"/><path d="M877.8 1048.6L879.3 1049.6" stroke="#64f014"/><path d="M879.3 1049.6L881.4 1052.8" stroke="#64d23c"/><path d="M881.4 1052.8L881.9 1054.1" stroke="#64be5a"/><path d="M881.9 1054.1L882.6 1055.7" stroke="#5ab464"/><path d="M882.6 1055.7L883.2 1057.4" stroke="#5ab46e"/><path d="M883.2 1057.4L883.9 1059.3" stroke="#5aaa78"/><path d="M883.9 1059.3L884.6 1061.3" stroke="#5aaa82"/><path d="M884.6 1061.3L885.4 1063.4" stroke="#5aa082"/><path d="M885.4 1063.4L886.1 1065.5" stroke="#5aa08c"/><path d="M886.1 1065.5L886.9 1067.7" stroke="#5a9696"/><path d="M886.9 1067.7L887.7 1069.7" stroke="#5a96a0"/><path d="M887.7 1069.7L888.4 1071.6L889.2 1073.5L890 1075.5L890.7 1077.5L891.5 1079.5L892.3 1081.6L893.2 1083.6L894 1085.6L894.8 1087.7L895.6 1089.7" stroke="#5a8caa"/><path d="M763.1 1024.2L764.1 1026.2L765.1 1028.1L766 1030L767 1031.9" stroke="#5a8caa"/><path d="M767 1031.9L768 1033.9" stroke="#5a8ca0"/><path d="M768 1033.9L769 1035.9L770.1 1037.9L771.2 1040.1" stroke="#5a96a0"/><path d="M771.2 1040.1L772.1 1041.9L773.1 1043.8" stroke="#5096a0"/><path d="M773.1 1043.8L774.2 1045.7L775.2 1047.7" stroke="#50a096"/><path d="M775.2 1047.7L776.3 1049.7" stroke="#50aa8c"/><path d="M776.3 1049.7L777.4 1051.7L778.5 1053.6" stroke="#46aa8c"/><path d="M778.5 1053.6L779.6 1055.6" stroke="#46b482"/><path d="M779.6 1055.6L780.7 1057.4" stroke="#3cb482"/><path d="M780.7 1057.4L781.8 1059.2L783 1061L784.1 1062.8" stroke="#3cbe78"/><path d="M784.1 1062.8L785.3 1064.6L786.5 1066.3" stroke="#32c86e"/><path d="M786.5 1066.3L787.7 1067.9" stroke="#32d264"/><path d="M787.7 1067.9L788.8 1069.5" stroke="#28d264"/><path d="M788.8 1069.5L790 1071.1L791.2 1072.5" stroke="#28dc5a"/><path d="M791.2 1072.5L792.4 1074L793.9 1075.8L795.4 1077.5" stroke="#1ee650"/><path d="M795.4 1077.5L797 1079.1L798.5 1080.6" stroke="#14f046"/><path d="M798.5 1080.6L800.1 1082.1L801.5 1083.4" stroke="#0af046"/><path d="M801.5 1083.4L803 1084.6L804.9 1085.9L806.6 1087L808.4 1087.9L810.1 1088.7L811.9 1089.7" stroke="#00fa3c"/><path d="M835.8 1089.7L837.7 1088.3" stroke="#00fa3c"/><path d="M837.7 1088.3L839.6 1086.9" stroke="#0afa32"/><path d="M839.6 1086.9L841.4 1085.6" stroke="#14fa32"/><path d="M841.4 1085.6L843.4 1084.1" stroke="#14fa28"/><path d="M843.4 1084.1L845.3 1082.5" stroke="#1efa28"/><path d="M845.3 1082.5L846.8 1081.1" stroke="#28f01e"/><path d="M846.8 1081.1L848.3 1079.6" stroke="#32f01e"/><path d="M848.3 1079.6L849.8 1078" stroke="#32f014"/><path d="M849.8 1078L851.3 1076.4" stroke="#3cf014"/><path d="M851.3 1076.4L852.9 1074.8" stroke="#46f00a"/><path d="M852.9 1074.8L854.4 1073.3" stroke="#50f00a"/><path d="M854.4 1073.3L855.9 1071.9" stroke="#50f000"/><path d="M855.9 1071.9L857.7 1070.3" stroke="#5af000"/><path d="M857.7 1070.3L859.5 1068.7L861.4 1067.2" stroke="#64f000"/><path d="M861.4 1067.2L863.2 1065.8" stroke="#6ef000"/><path d="M863.2 1065.8L864.9 1064.5L866.5 1063.4" stroke="#78e600"/><path d="M866.5 1063.4L868.9 1062" stroke="#82e600"/><path d="M868.9 1062L871.3 1061" stroke="#8ce600"/><path d="M871.3 1061L873.3 1060.2" stroke="#96dc00"/><path d="M873.3 1060.2L875 1059.6L876.5 1059.3L877.8 1059.2L879.4 1058.9L881.4 1058.4L883.5 1057L884.5 1055.8" stroke="#a0dc00"/><path d="M884.5 1055.8L885.5 1054.4L886.5 1052.7" stroke="#aad200"/><path d="M886.5 1052.7L887.5 1050.8" stroke="#b4d200"/><path d="M887.5 1050.8L888.6 1048.7L889.8 1046.4L890.7 1044.8" stroke="#b4c800"/><path d="M890.7 1044.8L891.6 1043" stroke="#bec800"/><path d="M891.6 1043L892.5 1041.1" stroke="#bebe00"/><path d="M892.5 1041.1L893.5 1039.2L894.4 1037.2" stroke="#c8be00"/><path d="M894.4 1037.2L895.4 1035.1L896.4 1033.2" stroke="#c8b400"/><path d="M896.4 1033.2L897.4 1031.3" stroke="#d2b400"/><path d="M897.4 1031.3L898.3 1029.5" stroke="#d2aa00"/><path d="M898.3 1029.5L899.4 1027.6L900.4 1025.8" stroke="#dcaa00"/><path d="M900.4 1025.8L901.5 1024L902.5 1022.2" stroke="#dca000"/><path d="M902.5 1022.2L903.6 1020.5L904.7 1018.9" stroke="#e69600"/><path d="M904.7 1018.9L905.7 1017.3" stroke="#e68c00"/><path d="M905.7 1017.3L906.8 1015.7L908.2 1013.7" stroke="#f08c00"/><path d="M908.2 1013.7L909.6 1011.8" stroke="#f08200"/><path d="M909.6 1011.8L911 1009.9" stroke="#f07800"/><path d="M911 1009.9L912.4 1008.1L913.8 1006.5" stroke="#fa7800"/><path d="M913.8 1006.5L915.3 1005.1" stroke="#fa6e00"/><path d="M915.3 1005.1L917.4 1003.3L919.6 1001.9L921.8 1000.7L923.7 999.8L925.8 999L927.7 998.7L930.1 998.8L931.8 999L933.7 999.4L935.8 999.9" stroke="#ff6400"/><path d="M935.8 999.9L938.1 1000.6" stroke="#ff640a"/><path d="M938.1 1000.6L940.7 1001.5L942.3 1002.2L944 1002.9" stroke="#ff5a0a"/><path d="M944 1002.9L945.9 1003.8L947.8 1004.7L949.7 1005.7" stroke="#ff500a"/><path d="M949.7 1005.7L951.7 1006.6L953.7 1007.6L955.7 1008.5" stroke="#ff4614"/><path d="M955.7 1008.5L957.6 1009.4L959.5 1010.2L961.5 1011.1L963.4 1011.9L965.4 1012.8L967.3 1013.6L969.2 1014.4L971.1 1015.1L972.9 1015.8L974.6 1016.4L977.2 1017.1L979.8 1017.8L982.3 1018.3L984.6 1018.7L986.5 1019L987.9 1019.3L988 1019.2L988.1 1019.3L989.2 1019.7L990.9 1020.2L992.8 1020.7L994.9 1021.4L997.1 1022.2L999.2 1023.1L1001.2 1024.2L1002.8 1025.3L1004.4 1026.6L1006 1028" stroke="#ff3c14"/><path d="M1006 1028L1007.6 1029.5L1009.1 1031.1L1010.7 1032.7" stroke="#ff3214"/><path d="M1010.7 1032.7L1012.3 1034.3L1013.9 1035.8L1015.5 1037.4L1017.1 1039" stroke="#ff2814"/><path d="M1017.1 1039L1018.7 1040.5" stroke="#ff1e14"/><path d="M1018.7 1040.5L1020.3 1042.1L1021.8 1043.7L1023.4 1045.4" stroke="#ff1414"/><path d="M1023.4 1045.4L1025 1047" stroke="#ff0a14"/><path d="M1025 1047L1026.6 1048.6L1028.2 1050.1L1029.8 1051.7L1031.4 1053.3L1033 1054.9L1034.6 1056.5L1036.1 1058.1L1037.7 1059.7L1039.3 1061.3L1040.9 1062.8L1042.5 1064.4L1044 1065.9L1045.6 1067.4L1047.2 1069L1048.8 1070.6L1050.4 1072.3L1052 1074L1053.4 1075.4L1054.7 1076.9L1056.1 1078.5L1057.5 1080L1058.9 1081.6L1060.2 1083.2L1061.6 1084.9L1063 1086.5L1064.4 1088.1L1065.8 1089.7" stroke="#ff0014"/><path d="M1029.2 1089.7L1030.3 1087.9L1031.4 1086.1L1032.5 1084.3L1033.6 1082.5L1034.8 1080.7L1035.9 1078.9L1037 1077.2L1038.2 1075.5L1039.3 1074L1040.8 1072.1L1042.3 1070.2L1043.8 1068.4L1045.4 1066.7L1046.9 1065.1L1048.4 1063.6L1049.9 1062.3L1051.7 1061L1053.4 1059.9L1055.1 1058.9L1056.8 1058L1058.6 1057.3L1060.5 1056.6L1062.5 1056L1064.4 1055.5L1066.5 1055.1L1068.6 1054.8L1070.8 1054.6L1073.2 1054.5L1075.2 1054.5L1077.2 1054.5L1079.4 1054.6L1081.6 1054.7L1083.9 1054.9L1086.1 1055L1088.2 1055.2L1090.2 1055.3L1092.5 1055.5L1094.7 1055.6L1096.7 1055.8L1098.8 1056L1101.1 1056.3L1103.7 1056.6L1105.5 1056.9L1107.3 1057.2L1109.3 1057.5L1111.3 1057.8L1113.4 1058.2L1115.5 1058.5L1117.7 1058.9L1119.8 1059.3L1122 1059.8L1124.1 1060.2L1126.2 1060.7L1128.3 1061.2L1130.5 1061.7L1132.7 1062.3L1134.9 1062.8L1137 1063.4L1139.2 1063.9L1141.3 1064.5L1143.3 1065L1145.3 1065.5L1147.6 1066.1L1149.8 1066.6L1151.9 1067.1L1154 1067.6L1156 1068L1158.1 1068.6L1160.1 1069.1L1162.2 1069.7L1164.1 1070.4L1166.1 1071L1168 1071.7L1170 1072.4L1171.9 1073.1L1173.8 1073.8L1175.7 1074.6L1177.5 1075.3L1179.2 1076.1L1181.2 1077.1L1183.3 1078.2L1185.2 1079.3L1187.1 1080.4L1188.8 1081.5L1190.4 1082.5L1191.9 1083.5L1194 1085.1L1195.6 1086.7L1197.1 1088.2L1198.6 1089.7" stroke="#ff0014"/><path d="M1085.3 1089.7L1086.5 1087.7L1087.7 1085.7L1088.8 1083.8L1090 1081.8L1091.2 1080L1092.3 1078.2L1093.6 1076.2L1094.9 1074.3L1096.2 1072.5L1097.5 1071L1098.6 1069.7L1100 1068.1L1103.7 1067.6L1105.1 1067.6L1106.7 1067.6L1108.6 1067.6L1110.6 1067.6L1112.8 1067.6L1115 1067.7L1117.3 1067.8L1119.6 1067.8L1121.9 1067.9L1124.2 1068L1126.3 1068L1128.3 1068.1L1130.6 1068.1L1132.9 1068.1L1135.1 1068.1L1137.3 1068.1L1139.5 1068.1L1141.6 1068.1L1143.7 1068.1L1145.7 1068.1L1147.6 1068.1L1149.5 1068.1L1152 1068L1154.4 1067.9L1156.6 1067.8L1158.8 1067.7L1160.8 1067.6L1162.6 1067.4L1164.3 1067.2L1166.8 1066.7" stroke="#ff0014"/><path d="M1166.8 1066.7L1168.6 1066.2" stroke="#fa001e"/><path d="M1168.6 1066.2L1170.3 1065.5" stroke="#fa0028"/><path d="M1170.3 1065.5L1172.4 1064.7" stroke="#fa0032"/><path d="M1172.4 1064.7L1174.3 1064.1" stroke="#fa003c"/><path d="M1174.3 1064.1L1176.4 1063.3L1178.6 1062.5" stroke="#fa0046"/><path d="M1178.6 1062.5L1180.8 1061.6L1183 1060.5" stroke="#f00050"/><path d="M1183 1060.5L1184.8 1059.5" stroke="#f0005a"/><path d="M1184.8 1059.5L1186.6 1058.4" stroke="#f00064"/><path d="M1186.6 1058.4L1188.4 1057.2" stroke="#e6006e"/><path d="M1188.4 1057.2L1190.2 1055.9" stroke="#e60078"/><path d="M1190.2 1055.9L1191.9 1054.5" stroke="#dc0078"/><path d="M1191.9 1054.5L1193.6 1053.1" stroke="#dc0082"/><path d="M1193.6 1053.1L1195.1 1051.5" stroke="#dc008c"/><path d="M1195.1 1051.5L1196.6 1049.8" stroke="#d20096"/><path d="M1196.6 1049.8L1198.1 1048" stroke="#c80a96"/><path d="M1198.1 1048L1199.4 1046.1" stroke="#c80aa0"/><path d="M1199.4 1046.1L1200.8 1044.3" stroke="#be0aaa"/><path d="M1200.8 1044.3L1202 1042.5" stroke="#be14aa"/><path d="M1202 1042.5L1203.2 1040.7" stroke="#b414b4"/><path d="M1203.2 1040.7L1204.3 1038.9" stroke="#aa14b4"/><path d="M1204.3 1038.9L1205.4 1037" stroke="#aa1ebe"/><path d="M1205.4 1037L1206.4 1035.2" stroke="#a028be"/><path d="M1206.4 1035.2L1207.4 1033.5" stroke="#9628be"/><path d="M1207.4 1033.5L1208.4 1031.9" stroke="#9632c8"/><path d="M1208.4 1031.9L1209.8 1029.8" stroke="#8c32c8"/><path d="M1209.8 1029.8L1211.1 1028" stroke="#8c3cc8"/><path d="M1211.1 1028L1212.4 1026.3" stroke="#823cc8"/><path d="M1212.4 1026.3L1213.7 1024.5" stroke="#783cc8"/><path d="M1146.4 1089.6L1147.6 1087.9L1148.8 1086.2L1150 1084.6L1151.1 1082.9L1152.3 1081.2L1153.5 1079.5L1154.7 1077.8L1155.8 1076.1L1157 1074.4L1158.2 1072.7L1159.4 1071L1160.6 1069.2L1161.8 1067.4L1162.9 1065.7L1164.1 1063.9L1165.2 1062L1166.4 1060.2L1167.6 1058.2L1168.8 1056.3L1170 1054.4L1171.1 1052.5L1172.3 1050.7L1173.4 1048.9L1174.5 1047.1L1175.6 1045.5L1176.7 1043.9L1177.7 1042.5L1179.2 1040.4" stroke="#ff0014"/><path d="M1179.2 1040.4L1180.6 1038.5L1182.1 1036.8" stroke="#fa001e"/><path d="M1182.1 1036.8L1183.4 1035.2L1184.7 1033.7L1186 1032.3" stroke="#fa0028"/><path d="M1186 1032.3L1187.2 1031L1188.3 1029.8" stroke="#f00032"/><path d="M1188.3 1029.8L1189.3 1028.7L1191.2 1026.8" stroke="#f0003c"/><path d="M1191.2 1026.8L1192.7 1025.4" stroke="#e60050"/><path d="M1192.7 1025.4L1194.1 1024.4" stroke="#dc006e"/><path d="M1194.1 1024.4L1195.7 1023.4" stroke="#d2008c"/><path d="M1195.7 1023.4L1197.6 1022.4" stroke="#c800a0"/><path d="M1197.6 1022.4L1199.7 1021.5" stroke="#b400b4"/><path d="M1199.7 1021.5L1201.9 1020.8" stroke="#a000c8"/><path d="M1201.9 1020.8L1204.2 1020.3" stroke="#8c00dc"/><path d="M1204.2 1020.3L1206.5 1019.9" stroke="#7800f0"/><path d="M1206.5 1019.9L1208.9 1019.8" stroke="#6400f0"/><path d="M1208.9 1019.8L1211.3 1019.8" stroke="#5000fa"/><path d="M1211.3 1019.8L1213.7 1019.7" stroke="#3c00fa"/></g><g stroke-width="0.7" stroke-linejoin="round"><path d="M1045.6 829.8L975.4 948.6L1117.2 948.6z" fill="#9696a5" stroke="none"/><path d="M1045.6 829.8L1041.7 836.4L1049.6 836.4z" fill="#fe0404" stroke="#fe0404"/><path d="M1041.7 836.4L1037.8 843L1045.7 843z" fill="#fe0514" stroke="#fe0514"/><path d="M1041.7 836.4L1049.6 836.4L1045.7 843z" fill="#fe0a0a" stroke="#fe0a0a"/><path d="M1049.6 836.4L1045.7 843L1053.6 843z" fill="#fe1405" stroke="#fe1405"/><path d="M1037.8 843L1033.9 849.6L1041.8 849.6z" fill="#fc0526" stroke="#fc0526"/><path d="M1037.8 843L1045.7 843L1041.8 849.6z" fill="#fd0a1a" stroke="#fd0a1a"/><path d="M1045.7 843L1041.8 849.6L1049.7 849.6z" fill="#fd1616" stroke="#fd1616"/><path d="M1045.7 843L1053.6 843L1049.7 849.6z" fill="#fd1a0a" stroke="#fd1a0a"/><path d="M1053.6 843L1049.7 849.6L1057.5 849.6z" fill="#fc2605" stroke="#fc2605"/><path d="M1033.9 849.6L1030 856.2L1037.9 856.2z" fill="#f80539" stroke="#f80539"/><path d="M1033.9 849.6L1041.8 849.6L1037.9 856.2z" fill="#fa0b2d" stroke="#fa0b2d"/><path d="M1041.8 849.6L1037.9 856.2L1045.8 856.2z" fill="#fa1728" stroke="#fa1728"/><path d="M1041.8 849.6L1049.7 849.6L1045.8 856.2z" fill="#fb1c1c" stroke="#fb1c1c"/><path d="M1049.7 849.6L1045.8 856.2L1053.6 856.2z" fill="#fa2817" stroke="#fa2817"/><path d="M1049.7 849.6L1057.5 849.6L1053.6 856.2z" fill="#fa2d0b" stroke="#fa2d0b"/><path d="M1057.5 849.6L1053.6 856.2L1061.5 856.2z" fill="#f83905" stroke="#f83905"/><path d="M1030 856.2L1026.1 862.8L1034 862.8z" fill="#f2064e" stroke="#f2064e"/><path d="M1030 856.2L1037.9 856.2L1034 862.8z" fill="#f60c42" stroke="#f60c42"/><path d="M1037.9 856.2L1034 862.8L1041.9 862.8z" fill="#f6183d" stroke="#f6183d"/><path d="M1037.9 856.2L1045.8 856.2L1041.9 862.8z" fill="#f81e30" stroke="#f81e30"/><path d="M1045.8 856.2L1041.9 862.8L1049.7 862.8z" fill="#f72b2b" stroke="#f72b2b"/><path d="M1045.8 856.2L1053.6 856.2L1049.7 862.8z" fill="#f8301e" stroke="#f8301e"/><path d="M1053.6 856.2L1049.7 862.8L1057.6 862.8z" fill="#f63d18" stroke="#f63d18"/><path d="M1053.6 856.2L1061.5 856.2L1057.6 862.8z" fill="#f6420c" stroke="#f6420c"/><path d="M1061.5 856.2L1057.6 862.8L1065.5 862.8z" fill="#f24e06" stroke="#f24e06"/><path d="M1026.1 862.8L1022.2 869.4L1030.1 869.4z" fill="#e90665" stroke="#e90665"/><path d="M1026.1 862.8L1034 862.8L1030.1 869.4z" fill="#ee0c58" stroke="#ee0c58"/><path d="M1034 862.8L1030.1 869.4L1038 869.4z" fill="#ef1954" stroke="#ef1954"/><path d="M1034 862.8L1041.9 862.8L1038 869.4z" fill="#f31f46" stroke="#f31f46"/><path d="M1041.9 862.8L1038 869.4L1045.8 869.4z" fill="#f22d41" stroke="#f22d41"/><path d="M1041.9 862.8L1049.7 862.8L1045.8 869.4z" fill="#f43333" stroke="#f43333"/><path d="M1049.7 862.8L1045.8 869.4L1053.7 869.4z" fill="#f2412d" stroke="#f2412d"/><path d="M1049.7 862.8L1057.6 862.8L1053.7 869.4z" fill="#f3461f" stroke="#f3461f"/><path d="M1057.6 862.8L1053.7 869.4L1061.6 869.4z" fill="#ef5419" stroke="#ef5419"/><path d="M1057.6 862.8L1065.5 862.8L1061.6 869.4z" fill="#ee580c" stroke="#ee580c"/><path d="M1065.5 862.8L1061.6 869.4L1069.5 869.4z" fill="#e96506" stroke="#e96506"/><path d="M1022.2 869.4L1018.3 876L1026.2 876z" fill="#de067c" stroke="#de067c"/><path d="M1022.2 869.4L1030.1 869.4L1026.2 876z" fill="#e50d6f" stroke="#e50d6f"/><path d="M1030.1 869.4L1026.2 876L1034.1 876z" fill="#e51a6b" stroke="#e51a6b"/><path d="M1030.1 869.4L1038 869.4L1034.1 876z" fill="#ea215d" stroke="#ea215d"/><path d="M1038 869.4L1034.1 876L1041.9 876z" fill="#e93059" stroke="#e93059"/><path d="M1038 869.4L1045.8 869.4L1041.9 876z" fill="#ed364a" stroke="#ed364a"/><path d="M1045.8 869.4L1041.9 876L1049.8 876z" fill="#eb4545" stroke="#eb4545"/><path d="M1045.8 869.4L1053.7 869.4L1049.8 876z" fill="#ed4a36" stroke="#ed4a36"/><path d="M1053.7 869.4L1049.8 876L1057.7 876z" fill="#e95930" stroke="#e95930"/><path d="M1053.7 869.4L1061.6 869.4L1057.7 876z" fill="#ea5d21" stroke="#ea5d21"/><path d="M1061.6 869.4L1057.7 876L1065.6 876z" fill="#e56b1a" stroke="#e56b1a"/><path d="M1061.6 869.4L1069.5 869.4L1065.6 876z" fill="#e56f0d" stroke="#e56f0d"/><path d="M1069.5 869.4L1065.6 876L1073.4 876z" fill="#de7c06" stroke="#de7c06"/><path d="M1018.3 876L1014.4 882.6L1022.3 882.6z" fill="#cf0693" stroke="#cf0693"/><path d="M1018.3 876L1026.2 876L1022.3 882.6z" fill="#d70d86" stroke="#d70d86"/><path d="M1026.2 876L1022.3 882.6L1030.2 882.6z" fill="#d81b84" stroke="#d81b84"/><path d="M1026.2 876L1034.1 876L1030.2 882.6z" fill="#df2276" stroke="#df2276"/><path d="M1034.1 876L1030.2 882.6L1038 882.6z" fill="#de3272" stroke="#de3272"/><path d="M1034.1 876L1041.9 876L1038 882.6z" fill="#e33863" stroke="#e33863"/><path d="M1041.9 876L1038 882.6L1045.9 882.6z" fill="#e1485e" stroke="#e1485e"/><path d="M1041.9 876L1049.8 876L1045.9 882.6z" fill="#e54e4e" stroke="#e54e4e"/><path d="M1049.8 876L1045.9 882.6L1053.8 882.6z" fill="#e15e48" stroke="#e15e48"/><path d="M1049.8 876L1057.7 876L1053.8 882.6z" fill="#e36338" stroke="#e36338"/><path d="M1057.7 876L1053.8 882.6L1061.7 882.6z" fill="#de7232" stroke="#de7232"/><path d="M1057.7 876L1065.6 876L1061.7 882.6z" fill="#df7622" stroke="#df7622"/><path d="M1065.6 876L1061.7 882.6L1069.5 882.6z" fill="#d8841b" stroke="#d8841b"/><path d="M1065.6 876L1073.4 876L1069.5 882.6z" fill="#d7860d" stroke="#d7860d"/><path d="M1073.4 876L1069.5 882.6L1077.4 882.6z" fill="#cf9306" stroke="#cf9306"/><path d="M1014.4 882.6L1010.5 889.2L1018.4 889.2z" fill="#be06a9" stroke="#be06a9"/><path d="M1014.4 882.6L1022.3 882.6L1018.4 889.2z" fill="#c70d9e" stroke="#c70d9e"/><path d="M1022.3 882.6L1018.4 889.2L1026.3 889.2z" fill="#c71c9c" stroke="#c71c9c"/><path d="M1022.3 882.6L1030.2 882.6L1026.3 889.2z" fill="#cf238f" stroke="#cf238f"/><path d="M1030.2 882.6L1026.3 889.2L1034.1 889.2z" fill="#ce338c" stroke="#ce338c"/><path d="M1030.2 882.6L1038 882.6L1034.1 889.2z" fill="#d63b7d" stroke="#d63b7d"/><path d="M1038 882.6L1034.1 889.2L1042 889.2z" fill="#d34b78" stroke="#d34b78"/><path d="M1038 882.6L1045.9 882.6L1042 889.2z" fill="#d95268" stroke="#d95268"/><path d="M1045.9 882.6L1042 889.2L1049.9 889.2z" fill="#d56262" stroke="#d56262"/><path d="M1045.9 882.6L1053.8 882.6L1049.9 889.2z" fill="#d96852" stroke="#d96852"/><path d="M1053.8 882.6L1049.9 889.2L1057.8 889.2z" fill="#d3784b" stroke="#d3784b"/><path d="M1053.8 882.6L1061.7 882.6L1057.8 889.2z" fill="#d67d3b" stroke="#d67d3b"/><path d="M1061.7 882.6L1057.8 889.2L1065.6 889.2z" fill="#ce8c33" stroke="#ce8c33"/><path d="M1061.7 882.6L1069.5 882.6L1065.6 889.2z" fill="#cf8f23" stroke="#cf8f23"/><path d="M1069.5 882.6L1065.6 889.2L1073.5 889.2z" fill="#c79c1c" stroke="#c79c1c"/><path d="M1069.5 882.6L1077.4 882.6L1073.5 889.2z" fill="#c79e0d" stroke="#c79e0d"/><path d="M1077.4 882.6L1073.5 889.2L1081.4 889.2z" fill="#bea906" stroke="#bea906"/><path d="M1010.5 889.2L1006.6 895.8L1014.5 895.8z" fill="#a906be" stroke="#a906be"/><path d="M1010.5 889.2L1018.4 889.2L1014.5 895.8z" fill="#b40db4" stroke="#b40db4"/><path d="M1018.4 889.2L1014.5 895.8L1022.4 895.8z" fill="#b31cb3" stroke="#b31cb3"/><path d="M1018.4 889.2L1026.3 889.2L1022.4 895.8z" fill="#bd24a7" stroke="#bd24a7"/><path d="M1026.3 889.2L1022.4 895.8L1030.2 895.8z" fill="#bb34a4" stroke="#bb34a4"/><path d="M1026.3 889.2L1034.1 889.2L1030.2 895.8z" fill="#c43c97" stroke="#c43c97"/><path d="M1034.1 889.2L1030.2 895.8L1038.1 895.8z" fill="#c14d93" stroke="#c14d93"/><path d="M1034.1 889.2L1042 889.2L1038.1 895.8z" fill="#c95583" stroke="#c95583"/><path d="M1042 889.2L1038.1 895.8L1046 895.8z" fill="#c4667d" stroke="#c4667d"/><path d="M1042 889.2L1049.9 889.2L1046 895.8z" fill="#ca6d6d" stroke="#ca6d6d"/><path d="M1049.9 889.2L1046 895.8L1053.9 895.8z" fill="#c47d66" stroke="#c47d66"/><path d="M1049.9 889.2L1057.8 889.2L1053.9 895.8z" fill="#c98355" stroke="#c98355"/><path d="M1057.8 889.2L1053.9 895.8L1061.7 895.8z" fill="#c1934d" stroke="#c1934d"/><path d="M1057.8 889.2L1065.6 889.2L1061.7 895.8z" fill="#c4973c" stroke="#c4973c"/><path d="M1065.6 889.2L1061.7 895.8L1069.6 895.8z" fill="#bba434" stroke="#bba434"/><path d="M1065.6 889.2L1073.5 889.2L1069.6 895.8z" fill="#bda724" stroke="#bda724"/><path d="M1073.5 889.2L1069.6 895.8L1077.5 895.8z" fill="#b3b31c" stroke="#b3b31c"/><path d="M1073.5 889.2L1081.4 889.2L1077.5 895.8z" fill="#b4b40d" stroke="#b4b40d"/><path d="M1081.4 889.2L1077.5 895.8L1085.4 895.8z" fill="#a9be06" stroke="#a9be06"/><path d="M1006.6 895.8L1002.7 902.4L1010.6 902.4z" fill="#9306cf" stroke="#9306cf"/><path d="M1006.6 895.8L1014.5 895.8L1010.6 902.4z" fill="#9e0dc7" stroke="#9e0dc7"/><path d="M1014.5 895.8L1010.6 902.4L1018.5 902.4z" fill="#9c1cc7" stroke="#9c1cc7"/><path d="M1014.5 895.8L1022.4 895.8L1018.5 902.4z" fill="#a724bd" stroke="#a724bd"/><path d="M1022.4 895.8L1018.5 902.4L1026.3 902.4z" fill="#a434bb" stroke="#a434bb"/><path d="M1022.4 895.8L1030.2 895.8L1026.3 902.4z" fill="#af3caf" stroke="#af3caf"/><path d="M1030.2 895.8L1026.3 902.4L1034.2 902.4z" fill="#ab4eab" stroke="#ab4eab"/><path d="M1030.2 895.8L1038.1 895.8L1034.2 902.4z" fill="#b4569d" stroke="#b4569d"/><path d="M1038.1 895.8L1034.2 902.4L1042.1 902.4z" fill="#b06898" stroke="#b06898"/><path d="M1038.1 895.8L1046 895.8L1042.1 902.4z" fill="#b87088" stroke="#b87088"/><path d="M1046 895.8L1042.1 902.4L1050 902.4z" fill="#b18181" stroke="#b18181"/><path d="M1046 895.8L1053.9 895.8L1050 902.4z" fill="#b88870" stroke="#b88870"/><path d="M1053.9 895.8L1050 902.4L1057.8 902.4z" fill="#b09868" stroke="#b09868"/><path d="M1053.9 895.8L1061.7 895.8L1057.8 902.4z" fill="#b49d56" stroke="#b49d56"/><path d="M1061.7 895.8L1057.8 902.4L1065.7 902.4z" fill="#abab4e" stroke="#abab4e"/><path d="M1061.7 895.8L1069.6 895.8L1065.7 902.4z" fill="#afaf3c" stroke="#afaf3c"/><path d="M1069.6 895.8L1065.7 902.4L1073.6 902.4z" fill="#a4bb34" stroke="#a4bb34"/><path d="M1069.6 895.8L1077.5 895.8L1073.6 902.4z" fill="#a7bd24" stroke="#a7bd24"/><path d="M1077.5 895.8L1073.6 902.4L1081.5 902.4z" fill="#9cc71c" stroke="#9cc71c"/><path d="M1077.5 895.8L1085.4 895.8L1081.5 902.4z" fill="#9ec70d" stroke="#9ec70d"/><path d="M1085.4 895.8L1081.5 902.4L1089.4 902.4z" fill="#93cf06" stroke="#93cf06"/><path d="M1002.7 902.4L998.8 909L1006.7 909z" fill="#7c06de" stroke="#7c06de"/><path d="M1002.7 902.4L1010.6 902.4L1006.7 909z" fill="#860dd7" stroke="#860dd7"/><path d="M1010.6 902.4L1006.7 909L1014.6 909z" fill="#841bd8" stroke="#841bd8"/><path d="M1010.6 902.4L1018.5 902.4L1014.6 909z" fill="#8f23cf" stroke="#8f23cf"/><path d="M1018.5 902.4L1014.6 909L1022.4 909z" fill="#8c33ce" stroke="#8c33ce"/><path d="M1018.5 902.4L1026.3 902.4L1022.4 909z" fill="#973cc4" stroke="#973cc4"/><path d="M1026.3 902.4L1022.4 909L1030.3 909z" fill="#934dc1" stroke="#934dc1"/><path d="M1026.3 902.4L1034.2 902.4L1030.3 909z" fill="#9d56b4" stroke="#9d56b4"/><path d="M1034.2 902.4L1030.3 909L1038.2 909z" fill="#9868b0" stroke="#9868b0"/><path d="M1034.2 902.4L1042.1 902.4L1038.2 909z" fill="#a171a1" stroke="#a171a1"/><path d="M1042.1 902.4L1038.2 909L1046.1 909z" fill="#9a829a" stroke="#9a829a"/><path d="M1042.1 902.4L1050 902.4L1046.1 909z" fill="#a38a8a" stroke="#a38a8a"/><path d="M1050 902.4L1046.1 909L1053.9 909z" fill="#9a9a82" stroke="#9a9a82"/><path d="M1050 902.4L1057.8 902.4L1053.9 909z" fill="#a1a171" stroke="#a1a171"/><path d="M1057.8 902.4L1053.9 909L1061.8 909z" fill="#98b068" stroke="#98b068"/><path d="M1057.8 902.4L1065.7 902.4L1061.8 909z" fill="#9db456" stroke="#9db456"/><path d="M1065.7 902.4L1061.8 909L1069.7 909z" fill="#93c14d" stroke="#93c14d"/><path d="M1065.7 902.4L1073.6 902.4L1069.7 909z" fill="#97c43c" stroke="#97c43c"/><path d="M1073.6 902.4L1069.7 909L1077.6 909z" fill="#8cce33" stroke="#8cce33"/><path d="M1073.6 902.4L1081.5 902.4L1077.6 909z" fill="#8fcf23" stroke="#8fcf23"/><path d="M1081.5 902.4L1077.6 909L1085.5 909z" fill="#84d81b" stroke="#84d81b"/><path d="M1081.5 902.4L1089.4 902.4L1085.5 909z" fill="#86d70d" stroke="#86d70d"/><path d="M1089.4 902.4L1085.5 909L1093.3 909z" fill="#7cde06" stroke="#7cde06"/><path d="M998.8 909L994.9 915.6L1002.8 915.6z" fill="#6506e9" stroke="#6506e9"/><path d="M998.8 909L1006.7 909L1002.8 915.6z" fill="#6f0de5" stroke="#6f0de5"/><path d="M1006.7 909L1002.8 915.6L1010.7 915.6z" fill="#6b1ae5" stroke="#6b1ae5"/><path d="M1006.7 909L1014.6 909L1010.7 915.6z" fill="#7622df" stroke="#7622df"/><path d="M1014.6 909L1010.7 915.6L1018.5 915.6z" fill="#7232de" stroke="#7232de"/><path d="M1014.6 909L1022.4 909L1018.5 915.6z" fill="#7d3bd6" stroke="#7d3bd6"/><path d="M1022.4 909L1018.5 915.6L1026.4 915.6z" fill="#784bd3" stroke="#784bd3"/><path d="M1022.4 909L1030.3 909L1026.4 915.6z" fill="#8355c9" stroke="#8355c9"/><path d="M1030.3 909L1026.4 915.6L1034.3 915.6z" fill="#7d66c4" stroke="#7d66c4"/><path d="M1030.3 909L1038.2 909L1034.3 915.6z" fill="#8870b8" stroke="#8870b8"/><path d="M1038.2 909L1034.3 915.6L1042.2 915.6z" fill="#8181b1" stroke="#8181b1"/><path d="M1038.2 909L1046.1 909L1042.2 915.6z" fill="#8a8aa3" stroke="#8a8aa3"/><path d="M1046.1 909L1042.2 915.6L1050 915.6z" fill="#829a9a" stroke="#829a9a"/><path d="M1046.1 909L1053.9 909L1050 915.6z" fill="#8aa38a" stroke="#8aa38a"/><path d="M1053.9 909L1050 915.6L1057.9 915.6z" fill="#81b181" stroke="#81b181"/><path d="M1053.9 909L1061.8 909L1057.9 915.6z" fill="#88b870" stroke="#88b870"/><path d="M1061.8 909L1057.9 915.6L1065.8 915.6z" fill="#7dc466" stroke="#7dc466"/><path d="M1061.8 909L1069.7 909L1065.8 915.6z" fill="#83c955" stroke="#83c955"/><path d="M1069.7 909L1065.8 915.6L1073.7 915.6z" fill="#78d34b" stroke="#78d34b"/><path d="M1069.7 909L1077.6 909L1073.7 915.6z" fill="#7dd63b" stroke="#7dd63b"/><path d="M1077.6 909L1073.7 915.6L1081.6 915.6z" fill="#72de32" stroke="#72de32"/><path d="M1077.6 909L1085.5 909L1081.6 915.6z" fill="#76df22" stroke="#76df22"/><path d="M1085.5 909L1081.6 915.6L1089.4 915.6z" fill="#6be51a" stroke="#6be51a"/><path d="M1085.5 909L1093.3 909L1089.4 915.6z" fill="#6fe50d" stroke="#6fe50d"/><path d="M1093.3 909L1089.4 915.6L1097.3 915.6z" fill="#65e906" stroke="#65e906"/><path d="M994.9 915.6L991 922.2L998.9 922.2z" fill="#4e06f2" stroke="#4e06f2"/><path d="M994.9 915.6L1002.8 915.6L998.9 922.2z" fill="#580cee" stroke="#580cee"/><path d="M1002.8 915.6L998.9 922.2L1006.8 922.2z" fill="#5419ef" stroke="#5419ef"/><path d="M1002.8 915.6L1010.7 915.6L1006.8 922.2z" fill="#5d21ea" stroke="#5d21ea"/><path d="M1010.7 915.6L1006.8 922.2L1014.6 922.2z" fill="#5930e9" stroke="#5930e9"/><path d="M1010.7 915.6L1018.5 915.6L1014.6 922.2z" fill="#6338e3" stroke="#6338e3"/><path d="M1018.5 915.6L1014.6 922.2L1022.5 922.2z" fill="#5e48e1" stroke="#5e48e1"/><path d="M1018.5 915.6L1026.4 915.6L1022.5 922.2z" fill="#6852d9" stroke="#6852d9"/><path d="M1026.4 915.6L1022.5 922.2L1030.4 922.2z" fill="#6262d5" stroke="#6262d5"/><path d="M1026.4 915.6L1034.3 915.6L1030.4 922.2z" fill="#6d6dca" stroke="#6d6dca"/><path d="M1034.3 915.6L1030.4 922.2L1038.3 922.2z" fill="#667dc4" stroke="#667dc4"/><path d="M1034.3 915.6L1042.2 915.6L1038.3 922.2z" fill="#7088b8" stroke="#7088b8"/><path d="M1042.2 915.6L1038.3 922.2L1046.1 922.2z" fill="#6898b0" stroke="#6898b0"/><path d="M1042.2 915.6L1050 915.6L1046.1 922.2z" fill="#71a1a1" stroke="#71a1a1"/><path d="M1050 915.6L1046.1 922.2L1054 922.2z" fill="#68b098" stroke="#68b098"/><path d="M1050 915.6L1057.9 915.6L1054 922.2z" fill="#70b888" stroke="#70b888"/><path d="M1057.9 915.6L1054 922.2L1061.9 922.2z" fill="#66c47d" stroke="#66c47d"/><path d="M1057.9 915.6L1065.8 915.6L1061.9 922.2z" fill="#6dca6d" stroke="#6dca6d"/><path d="M1065.8 915.6L1061.9 922.2L1069.8 922.2z" fill="#62d562" stroke="#62d562"/><path d="M1065.8 915.6L1073.7 915.6L1069.8 922.2z" fill="#68d952" stroke="#68d952"/><path d="M1073.7 915.6L1069.8 922.2L1077.7 922.2z" fill="#5ee148" stroke="#5ee148"/><path d="M1073.7 915.6L1081.6 915.6L1077.7 922.2z" fill="#63e338" stroke="#63e338"/><path d="M1081.6 915.6L1077.7 922.2L1085.5 922.2z" fill="#59e930" stroke="#59e930"/><path d="M1081.6 915.6L1089.4 915.6L1085.5 922.2z" fill="#5dea21" stroke="#5dea21"/><path d="M1089.4 915.6L1085.5 922.2L1093.4 922.2z" fill="#54ef19" stroke="#54ef19"/><path d="M1089.4 915.6L1097.3 915.6L1093.4 922.2z" fill="#58ee0c" stroke="#58ee0c"/><path d="M1097.3 915.6L1093.4 922.2L1101.3 922.2z" fill="#4ef206" stroke="#4ef206"/><path d="M991 922.2L987.1 928.8L995 928.8z" fill="#3905f8" stroke="#3905f8"/><path d="M991 922.2L998.9 922.2L995 928.8z" fill="#420cf6" stroke="#420cf6"/><path d="M998.9 922.2L995 928.8L1002.9 928.8z" fill="#3d18f6" stroke="#3d18f6"/><path d="M998.9 922.2L1006.8 922.2L1002.9 928.8z" fill="#461ff3" stroke="#461ff3"/><path d="M1006.8 922.2L1002.9 928.8L1010.7 928.8z" fill="#412df2" stroke="#412df2"/><path d="M1006.8 922.2L1014.6 922.2L1010.7 928.8z" fill="#4a36ed" stroke="#4a36ed"/><path d="M1014.6 922.2L1010.7 928.8L1018.6 928.8z" fill="#4545eb" stroke="#4545eb"/><path d="M1014.6 922.2L1022.5 922.2L1018.6 928.8z" fill="#4e4ee5" stroke="#4e4ee5"/><path d="M1022.5 922.2L1018.6 928.8L1026.5 928.8z" fill="#485ee1" stroke="#485ee1"/><path d="M1022.5 922.2L1030.4 922.2L1026.5 928.8z" fill="#5268d9" stroke="#5268d9"/><path d="M1030.4 922.2L1026.5 928.8L1034.4 928.8z" fill="#4b78d3" stroke="#4b78d3"/><path d="M1030.4 922.2L1038.3 922.2L1034.4 928.8z" fill="#5583c9" stroke="#5583c9"/><path d="M1038.3 922.2L1034.4 928.8L1042.2 928.8z" fill="#4d93c1" stroke="#4d93c1"/><path d="M1038.3 922.2L1046.1 922.2L1042.2 928.8z" fill="#569db4" stroke="#569db4"/><path d="M1046.1 922.2L1042.2 928.8L1050.1 928.8z" fill="#4eabab" stroke="#4eabab"/><path d="M1046.1 922.2L1054 922.2L1050.1 928.8z" fill="#56b49d" stroke="#56b49d"/><path d="M1054 922.2L1050.1 928.8L1058 928.8z" fill="#4dc193" stroke="#4dc193"/><path d="M1054 922.2L1061.9 922.2L1058 928.8z" fill="#55c983" stroke="#55c983"/><path d="M1061.9 922.2L1058 928.8L1065.9 928.8z" fill="#4bd378" stroke="#4bd378"/><path d="M1061.9 922.2L1069.8 922.2L1065.9 928.8z" fill="#52d968" stroke="#52d968"/><path d="M1069.8 922.2L1065.9 928.8L1073.8 928.8z" fill="#48e15e" stroke="#48e15e"/><path d="M1069.8 922.2L1077.7 922.2L1073.8 928.8z" fill="#4ee54e" stroke="#4ee54e"/><path d="M1077.7 922.2L1073.8 928.8L1081.6 928.8z" fill="#45eb45" stroke="#45eb45"/><path d="M1077.7 922.2L1085.5 922.2L1081.6 928.8z" fill="#4aed36" stroke="#4aed36"/><path d="M1085.5 922.2L1081.6 928.8L1089.5 928.8z" fill="#41f22d" stroke="#41f22d"/><path d="M1085.5 922.2L1093.4 922.2L1089.5 928.8z" fill="#46f31f" stroke="#46f31f"/><path d="M1093.4 922.2L1089.5 928.8L1097.4 928.8z" fill="#3df618" stroke="#3df618"/><path d="M1093.4 922.2L1101.3 922.2L1097.4 928.8z" fill="#42f60c" stroke="#42f60c"/><path d="M1101.3 922.2L1097.4 928.8L1105.3 928.8z" fill="#39f805" stroke="#39f805"/><path d="M987.1 928.8L983.2 935.4L991.1 935.4z" fill="#2605fc" stroke="#2605fc"/><path d="M987.1 928.8L995 928.8L991.1 935.4z" fill="#2d0bfa" stroke="#2d0bfa"/><path d="M995 928.8L991.1 935.4L999 935.4z" fill="#2817fa" stroke="#2817fa"/><path d="M995 928.8L1002.9 928.8L999 935.4z" fill="#301ef8" stroke="#301ef8"/><path d="M1002.9 928.8L999 935.4L1006.8 935.4z" fill="#2b2bf7" stroke="#2b2bf7"/><path d="M1002.9 928.8L1010.7 928.8L1006.8 935.4z" fill="#3333f4" stroke="#3333f4"/><path d="M1010.7 928.8L1006.8 935.4L1014.7 935.4z" fill="#2d41f2" stroke="#2d41f2"/><path d="M1010.7 928.8L1018.6 928.8L1014.7 935.4z" fill="#364aed" stroke="#364aed"/><path d="M1018.6 928.8L1014.7 935.4L1022.6 935.4z" fill="#3059e9" stroke="#3059e9"/><path d="M1018.6 928.8L1026.5 928.8L1022.6 935.4z" fill="#3863e3" stroke="#3863e3"/><path d="M1026.5 928.8L1022.6 935.4L1030.5 935.4z" fill="#3272de" stroke="#3272de"/><path d="M1026.5 928.8L1034.4 928.8L1030.5 935.4z" fill="#3b7dd6" stroke="#3b7dd6"/><path d="M1034.4 928.8L1030.5 935.4L1038.3 935.4z" fill="#338cce" stroke="#338cce"/><path d="M1034.4 928.8L1042.2 928.8L1038.3 935.4z" fill="#3c97c4" stroke="#3c97c4"/><path d="M1042.2 928.8L1038.3 935.4L1046.2 935.4z" fill="#34a4bb" stroke="#34a4bb"/><path d="M1042.2 928.8L1050.1 928.8L1046.2 935.4z" fill="#3cafaf" stroke="#3cafaf"/><path d="M1050.1 928.8L1046.2 935.4L1054.1 935.4z" fill="#34bba4" stroke="#34bba4"/><path d="M1050.1 928.8L1058 928.8L1054.1 935.4z" fill="#3cc497" stroke="#3cc497"/><path d="M1058 928.8L1054.1 935.4L1062 935.4z" fill="#33ce8c" stroke="#33ce8c"/><path d="M1058 928.8L1065.9 928.8L1062 935.4z" fill="#3bd67d" stroke="#3bd67d"/><path d="M1065.9 928.8L1062 935.4L1069.9 935.4z" fill="#32de72" stroke="#32de72"/><path d="M1065.9 928.8L1073.8 928.8L1069.9 935.4z" fill="#38e363" stroke="#38e363"/><path d="M1073.8 928.8L1069.9 935.4L1077.7 935.4z" fill="#30e959" stroke="#30e959"/><path d="M1073.8 928.8L1081.6 928.8L1077.7 935.4z" fill="#36ed4a" stroke="#36ed4a"/><path d="M1081.6 928.8L1077.7 935.4L1085.6 935.4z" fill="#2df241" stroke="#2df241"/><path d="M1081.6 928.8L1089.5 928.8L1085.6 935.4z" fill="#33f433" stroke="#33f433"/><path d="M1089.5 928.8L1085.6 935.4L1093.5 935.4z" fill="#2bf72b" stroke="#2bf72b"/><path d="M1089.5 928.8L1097.4 928.8L1093.5 935.4z" fill="#30f81e" stroke="#30f81e"/><path d="M1097.4 928.8L1093.5 935.4L1101.4 935.4z" fill="#28fa17" stroke="#28fa17"/><path d="M1097.4 928.8L1105.3 928.8L1101.4 935.4z" fill="#2dfa0b" stroke="#2dfa0b"/><path d="M1105.3 928.8L1101.4 935.4L1109.2 935.4z" fill="#26fc05" stroke="#26fc05"/><path d="M983.2 935.4L979.3 942L987.2 942z" fill="#1405fe" stroke="#1405fe"/><path d="M983.2 935.4L991.1 935.4L987.2 942z" fill="#1a0afd" stroke="#1a0afd"/><path d="M991.1 935.4L987.2 942L995.1 942z" fill="#1616fd" stroke="#1616fd"/><path d="M991.1 935.4L999 935.4L995.1 942z" fill="#1c1cfb" stroke="#1c1cfb"/><path d="M999 935.4L995.1 942L1002.9 942z" fill="#1728fa" stroke="#1728fa"/><path d="M999 935.4L1006.8 935.4L1002.9 942z" fill="#1e30f8" stroke="#1e30f8"/><path d="M1006.8 935.4L1002.9 942L1010.8 942z" fill="#183df6" stroke="#183df6"/><path d="M1006.8 935.4L1014.7 935.4L1010.8 942z" fill="#1f46f3" stroke="#1f46f3"/><path d="M1014.7 935.4L1010.8 942L1018.7 942z" fill="#1954ef" stroke="#1954ef"/><path d="M1014.7 935.4L1022.6 935.4L1018.7 942z" fill="#215dea" stroke="#215dea"/><path d="M1022.6 935.4L1018.7 942L1026.6 942z" fill="#1a6be5" stroke="#1a6be5"/><path d="M1022.6 935.4L1030.5 935.4L1026.6 942z" fill="#2276df" stroke="#2276df"/><path d="M1030.5 935.4L1026.6 942L1034.4 942z" fill="#1b84d8" stroke="#1b84d8"/><path d="M1030.5 935.4L1038.3 935.4L1034.4 942z" fill="#238fcf" stroke="#238fcf"/><path d="M1038.3 935.4L1034.4 942L1042.3 942z" fill="#1c9cc7" stroke="#1c9cc7"/><path d="M1038.3 935.4L1046.2 935.4L1042.3 942z" fill="#24a7bd" stroke="#24a7bd"/><path d="M1046.2 935.4L1042.3 942L1050.2 942z" fill="#1cb3b3" stroke="#1cb3b3"/><path d="M1046.2 935.4L1054.1 935.4L1050.2 942z" fill="#24bda7" stroke="#24bda7"/><path d="M1054.1 935.4L1050.2 942L1058.1 942z" fill="#1cc79c" stroke="#1cc79c"/><path d="M1054.1 935.4L1062 935.4L1058.1 942z" fill="#23cf8f" stroke="#23cf8f"/><path d="M1062 935.4L1058.1 942L1066 942z" fill="#1bd884" stroke="#1bd884"/><path d="M1062 935.4L1069.9 935.4L1066 942z" fill="#22df76" stroke="#22df76"/><path d="M1069.9 935.4L1066 942L1073.8 942z" fill="#1ae56b" stroke="#1ae56b"/><path d="M1069.9 935.4L1077.7 935.4L1073.8 942z" fill="#21ea5d" stroke="#21ea5d"/><path d="M1077.7 935.4L1073.8 942L1081.7 942z" fill="#19ef54" stroke="#19ef54"/><path d="M1077.7 935.4L1085.6 935.4L1081.7 942z" fill="#1ff346" stroke="#1ff346"/><path d="M1085.6 935.4L1081.7 942L1089.6 942z" fill="#18f63d" stroke="#18f63d"/><path d="M1085.6 935.4L1093.5 935.4L1089.6 942z" fill="#1ef830" stroke="#1ef830"/><path d="M1093.5 935.4L1089.6 942L1097.5 942z" fill="#17fa28" stroke="#17fa28"/><path d="M1093.5 935.4L1101.4 935.4L1097.5 942z" fill="#1cfb1c" stroke="#1cfb1c"/><path d="M1101.4 935.4L1097.5 942L1105.3 942z" fill="#16fd16" stroke="#16fd16"/><path d="M1101.4 935.4L1109.2 935.4L1105.3 942z" fill="#1afd0a" stroke="#1afd0a"/><path d="M1109.2 935.4L1105.3 942L1113.2 942z" fill="#14fe05" stroke="#14fe05"/><path d="M979.3 942L975.4 948.6L983.3 948.6z" fill="#0404fe" stroke="#0404fe"/><path d="M979.3 942L987.2 942L983.3 948.6z" fill="#0a0afe" stroke="#0a0afe"/><path d="M987.2 942L983.3 948.6L991.2 948.6z" fill="#0514fe" stroke="#0514fe"/><path d="M987.2 942L995.1 942L991.2 948.6z" fill="#0a1afd" stroke="#0a1afd"/><path d="M995.1 942L991.2 948.6L999 948.6z" fill="#0526fc" stroke="#0526fc"/><path d="M995.1 942L1002.9 942L999 948.6z" fill="#0b2dfa" stroke="#0b2dfa"/><path d="M1002.9 942L999 948.6L1006.9 948.6z" fill="#0539f8" stroke="#0539f8"/><path d="M1002.9 942L1010.8 942L1006.9 948.6z" fill="#0c42f6" stroke="#0c42f6"/><path d="M1010.8 942L1006.9 948.6L1014.8 948.6z" fill="#064ef2" stroke="#064ef2"/><path d="M1010.8 942L1018.7 942L1014.8 948.6z" fill="#0c58ee" stroke="#0c58ee"/><path d="M1018.7 942L1014.8 948.6L1022.7 948.6z" fill="#0665e9" stroke="#0665e9"/><path d="M1018.7 942L1026.6 942L1022.7 948.6z" fill="#0d6fe5" stroke="#0d6fe5"/><path d="M1026.6 942L1022.7 948.6L1030.5 948.6z" fill="#067cde" stroke="#067cde"/><path d="M1026.6 942L1034.4 942L1030.5 948.6z" fill="#0d86d7" stroke="#0d86d7"/><path d="M1034.4 942L1030.5 948.6L1038.4 948.6z" fill="#0693cf" stroke="#0693cf"/><path d="M1034.4 942L1042.3 942L1038.4 948.6z" fill="#0d9ec7" stroke="#0d9ec7"/><path d="M1042.3 942L1038.4 948.6L1046.3 948.6z" fill="#06a9be" stroke="#06a9be"/><path d="M1042.3 942L1050.2 942L1046.3 948.6z" fill="#0db4b4" stroke="#0db4b4"/><path d="M1050.2 942L1046.3 948.6L1054.2 948.6z" fill="#06bea9" stroke="#06bea9"/><path d="M1050.2 942L1058.1 942L1054.2 948.6z" fill="#0dc79e" stroke="#0dc79e"/><path d="M1058.1 942L1054.2 948.6L1062.1 948.6z" fill="#06cf93" stroke="#06cf93"/><path d="M1058.1 942L1066 942L1062.1 948.6z" fill="#0dd786" stroke="#0dd786"/><path d="M1066 942L1062.1 948.6L1069.9 948.6z" fill="#06de7c" stroke="#06de7c"/><path d="M1066 942L1073.8 942L1069.9 948.6z" fill="#0de56f" stroke="#0de56f"/><path d="M1073.8 942L1069.9 948.6L1077.8 948.6z" fill="#06e965" stroke="#06e965"/><path d="M1073.8 942L1081.7 942L1077.8 948.6z" fill="#0cee58" stroke="#0cee58"/><path d="M1081.7 942L1077.8 948.6L1085.7 948.6z" fill="#06f24e" stroke="#06f24e"/><path d="M1081.7 942L1089.6 942L1085.7 948.6z" fill="#0cf642" stroke="#0cf642"/><path d="M1089.6 942L1085.7 948.6L1093.6 948.6z" fill="#05f839" stroke="#05f839"/><path d="M1089.6 942L1097.5 942L1093.6 948.6z" fill="#0bfa2d" stroke="#0bfa2d"/><path d="M1097.5 942L1093.6 948.6L1101.4 948.6z" fill="#05fc26" stroke="#05fc26"/><path d="M1097.5 942L1105.3 942L1101.4 948.6z" fill="#0afd1a" stroke="#0afd1a"/><path d="M1105.3 942L1101.4 948.6L1109.3 948.6z" fill="#05fe14" stroke="#05fe14"/><path d="M1105.3 942L1113.2 942L1109.3 948.6z" fill="#0afe0a" stroke="#0afe0a"/><path d="M1113.2 942L1109.3 948.6L1117.2 948.6z" fill="#04fe04" stroke="#04fe04"/></g><text x="1047" y="820.5" font-size="31.5" text-anchor="middle" class="ar">Cl</text><text x="931" y="957.5" font-size="32" class="ar">Ru</text><text x="1126" y="957.5" font-size="32" class="ar">O</text><rect x="762.8" y="647.8" width="450.8" height="441.2" fill="none" stroke="#1a1a1a" stroke-width="1.25"/><g stroke="#1a1a1a" stroke-width="1.25"><path d="M762.8 647.6h-5"/><path d="M762.8 721.2h-5"/><path d="M762.8 794.8h-5"/><path d="M762.8 868.4h-5"/><path d="M762.8 942h-5"/><path d="M762.8 1015.6h-5"/><path d="M762.8 1089.2h-5"/><path d="M762.8 1089v5"/><path d="M877.8 1089v5"/><path d="M988 1089v5"/><path d="M1103.6 1089v5"/><path d="M1213.6 1089v5"/></g><text transform="translate(752.5 656.4) scale(0.94 1)" font-size="25.5" text-anchor="end" class="dj">3.0</text><text transform="translate(752.5 730) scale(0.94 1)" font-size="25.5" text-anchor="end" class="dj">2.0</text><text transform="translate(752.5 803.6) scale(0.94 1)" font-size="25.5" text-anchor="end" class="dj">1.0</text><text transform="translate(752.5 877.2) scale(0.94 1)" font-size="25.5" text-anchor="end" class="dj">0.0</text><text transform="translate(752.5 950.8) scale(0.94 1)" font-size="25.5" text-anchor="end" class="dj">-1.0</text><text transform="translate(752.5 1024.4) scale(0.94 1)" font-size="25.5" text-anchor="end" class="dj">-2.0</text><text transform="translate(752.5 1098) scale(0.94 1)" font-size="25.5" text-anchor="end" class="dj">-3.0</text><text transform="translate(695 869.7) rotate(-90) scale(0.89 1)" text-anchor="middle" font-size="34" class="dj">Energy (eV)</text><text x="766.5" y="1124.3" font-size="31.7" text-anchor="middle" class="tr">Γ</text><text x="879" y="1124.3" font-size="28.8" text-anchor="middle" class="dj">X</text><text x="989.3" y="1124.3" font-size="28.8" text-anchor="middle" class="dj">S</text><text x="1106" y="1124.3" font-size="28.8" text-anchor="middle" class="dj">Y</text><text x="1215" y="1124.3" font-size="31.7" text-anchor="middle" class="tr">Γ</text><text x="627.5" y="613" font-size="55" class="ar">d</text><g stroke="#9a9a9a" stroke-width="1.3" stroke-dasharray="1.3 3" fill="none"><path d="M1295 647.8V1089"/><path d="M1342.6 647.8V1089"/><path d="M1390.3 647.8V1089"/><path d="M1437 647.8V1089"/><path d="M1248 721.2H1473"/><path d="M1248 794.8H1473"/><path d="M1248 942H1473"/><path d="M1248 1015.6H1473"/></g><g clip-path="url(#dclip)" fill="none" stroke-linejoin="round"><path d="M1251.9 647.8L1252 649.4L1252 650.9L1252 652.5L1252 654L1252.1 655.6L1252.1 657.3L1252.1 658.9L1252.1 660.5L1252.2 662.2L1252.2 663.8L1252.2 665.5L1252.2 667.1L1252.3 668.8L1252.3 670.5L1252.3 672.1L1252.3 673.8L1252.4 675.4L1252.4 677L1252.4 678.7L1252.4 680.3L1252.5 681.9L1252.5 683.4L1252.5 685L1252.5 686.5L1252.6 688L1252.6 689.5L1252.6 691L1252.6 692.4L1252.6 693.8L1252.7 695.2L1252.7 696.5L1252.7 697.8L1252.7 699L1252.7 700.2L1252.8 701.4L1252.8 702.5L1252.8 703.6L1252.8 706.2L1252.9 708.5L1252.9 710.7L1252.9 712.6L1252.9 714.3L1252.9 715.9L1252.9 717.3L1252.9 718.6L1252.9 719.8L1252.9 720.9L1253 721.9L1253 722.9L1253.1 723.8L1253.2 724.7L1252.9 727.2L1252.1 728.5L1252.6 729.2L1256.2 730L1257 730.2L1257.9 730.3L1258.8 730.5L1259.8 730.6L1260.8 730.7L1261.9 730.9L1263 731L1264.2 731.1L1265.4 731.2L1266.7 731.3L1268 731.4L1269.4 731.6L1270.8 731.7L1272.3 731.8L1273.8 731.9L1275.4 732L1277 732.1L1278.7 732.2L1280.4 732.3L1282.2 732.4L1284.1 732.5L1286 732.6L1287.9 732.7L1289.9 732.8L1292 732.9L1294.1 733L1296.3 733.1L1298.6 733.2L1299.7 733.3L1300.9 733.3L1302.1 733.4L1303.3 733.4L1304.6 733.5L1305.9 733.6L1307.2 733.6L1308.5 733.7L1309.8 733.7L1311.2 733.8L1312.6 733.9L1314 733.9L1315.5 734L1316.9 734L1318.4 734.1L1319.9 734.1L1321.4 734.2L1322.9 734.3L1324.4 734.3L1326 734.4L1327.5 734.4L1329.1 734.5L1330.7 734.5L1332.2 734.6L1333.8 734.7L1335.4 734.7L1337.1 734.8L1338.7 734.8L1340.3 734.9L1341.9 735L1343.6 735L1345.2 735.1L1346.8 735.1L1348.5 735.2L1350.1 735.2L1351.8 735.3L1353.4 735.4L1355.1 735.4L1356.7 735.5L1358.3 735.5L1359.9 735.6L1361.6 735.6L1363.2 735.7L1364.8 735.7L1366.4 735.8L1368 735.9L1369.6 735.9L1371.2 736L1372.7 736L1374.3 736.1L1375.8 736.1L1377.3 736.2L1378.9 736.2L1380.4 736.3L1381.8 736.3L1383.3 736.4L1384.9 736.5L1386.5 736.5L1388.2 736.6L1390 736.6L1391.7 736.7L1393.6 736.7L1395.4 736.8L1397.3 736.8L1399.2 736.9L1401.1 737L1403.1 737L1405 737.1L1407 737.1L1409 737.2L1411 737.2L1413 737.3L1415 737.3L1417.1 737.4L1419.1 737.4L1421.1 737.5L1423 737.6L1425 737.6L1427 737.7L1428.9 737.7L1430.8 737.8L1432.7 737.8L1434.5 737.9L1436.4 737.9L1438.2 738L1439.9 738L1441.6 738.1L1443.3 738.1L1444.9 738.2L1446.4 738.2L1447.9 738.3L1449.3 738.3L1450.7 738.4L1452 738.4L1453.3 738.5L1454.4 738.5L1455.5 738.6L1456.5 738.6L1457.5 738.7L1458.3 738.7L1459.1 738.8L1459.8 738.8L1460.3 738.9L1460.8 738.9L1461.2 739L1461.5 739.1L1461.6 739.1L1461.7 739.2L1461.6 739.2L1461.5 739.3L1461.2 739.3L1460.8 739.4L1460.3 739.4L1459.6 739.5L1458.9 739.5L1458.1 739.5L1457.2 739.6L1456.2 739.6L1455.2 739.7L1454 739.7L1452.8 739.8L1451.5 739.8L1450.1 739.9L1448.6 739.9L1447.1 740L1445.6 740L1444 740.1L1442.3 740.1L1440.6 740.2L1438.8 740.2L1437 740.3L1435.2 740.3L1433.3 740.4L1431.4 740.4L1429.4 740.4L1427.5 740.5L1425.5 740.5L1423.5 740.6L1421.5 740.6L1419.5 740.7L1417.5 740.7L1415.5 740.8L1413.5 740.8L1411.5 740.9L1409.5 740.9L1407.5 741L1405.5 741L1403.6 741.1L1401.7 741.1L1399.8 741.2L1397.9 741.2L1396.1 741.3L1394.3 741.3L1392.6 741.4L1390.9 741.4L1389.3 741.5L1387.7 741.5L1386.2 741.6L1384.7 741.6L1383.3 741.7L1381.6 741.8L1379.9 741.8L1378.2 741.9L1376.5 742L1374.8 742L1373.1 742.1L1371.4 742.2L1369.8 742.3L1368.1 742.3L1366.4 742.4L1364.7 742.5L1363 742.5L1361.4 742.6L1359.7 742.7L1358.1 742.8L1356.4 742.8L1354.8 742.9L1353.2 743L1351.6 743.1L1350 743.1L1348.4 743.2L1346.8 743.3L1345.3 743.4L1343.8 743.4L1342.2 743.5L1340.7 743.6L1339.3 743.7L1337.8 743.8L1336.3 743.8L1334.9 743.9L1333.5 744L1332.1 744.1L1330.8 744.2L1329.5 744.2L1328.1 744.3L1326.9 744.4L1325.6 744.5L1324.4 744.6L1323.2 744.6L1322 744.7L1320.9 744.8L1319.7 744.9L1317.3 745.1L1315 745.2L1312.7 745.4L1310.4 745.6L1308.3 745.8L1306.2 746L1304.2 746.2L1302.3 746.3L1300.5 746.5L1298.9 746.7L1297.4 746.9L1296 747.1L1294.8 747.3L1293.7 747.5L1292.8 747.7L1292.1 747.9L1291.6 748.1L1291.3 748.3L1291.1 748.5L1291.3 748.7L1291.7 748.9L1292.3 749.1L1293.2 749.3L1294.3 749.5L1295.6 749.6L1297 749.8L1298.6 750L1300.3 750.2L1302.1 750.4L1303.9 750.6L1305.9 750.8L1307.9 751L1309.9 751.2L1312 751.5L1314 751.7L1316 751.9L1317.9 752.1L1319.7 752.3L1321.1 752.4L1322.7 752.6L1324.3 752.8L1326.1 752.9L1328 753.1L1329.9 753.2L1331.9 753.4L1333.9 753.5L1336 753.7L1338 753.9L1340.1 754L1342.2 754.2L1344.2 754.4L1346.1 754.5L1348 754.7L1349.9 754.8L1351.6 755L1353.2 755.2L1354.6 755.3L1356 755.5L1357.1 755.7L1358.1 755.8L1358.9 756L1359.5 756.2L1359.9 756.4L1360 756.5L1359.9 756.7L1359.6 756.9L1359 757L1358.3 757.2L1357.4 757.4L1356.3 757.5L1355.1 757.7L1353.7 757.9L1352.2 758L1350.6 758.2L1348.9 758.4L1347.2 758.6L1345.3 758.7L1343.4 758.9L1341.5 759.1L1339.5 759.3L1337.5 759.4L1335.5 759.6L1333.5 759.8L1331.6 760L1329.7 760.1L1327.8 760.3L1326 760.5L1324.3 760.7L1322.7 760.8L1321.1 761L1319.7 761.2L1318 761.4L1316.3 761.6L1314.6 761.9L1312.9 762.1L1311.1 762.4L1309.4 762.6L1307.7 762.8L1306.1 763.1L1304.4 763.3L1302.8 763.6L1301.2 763.8L1299.7 764L1298.1 764.3L1296.7 764.5L1295.3 764.8L1293.9 765L1292.6 765.2L1291.3 765.4L1290.1 765.6L1289 765.9L1288 766.1L1284.9 766.6L1281.9 767.2L1279.2 767.7L1277.1 768.2L1275.9 768.7L1275.9 769.1L1277.4 769.7L1278 769.8L1278.7 769.9L1279.5 770.1L1280.5 770.2L1281.5 770.3L1282.6 770.5L1283.7 770.6L1285 770.8L1286.3 770.9L1287.7 771L1289.2 771.2L1290.7 771.3L1292.3 771.5L1293.9 771.6L1295.6 771.7L1297.3 771.9L1299.1 772L1300.9 772.2L1302.7 772.3L1304.6 772.4L1306.4 772.6L1308.3 772.7L1310.2 772.8L1312.1 773L1314 773.1L1315.9 773.2L1317.8 773.3L1319.7 773.5L1321 773.6L1322.3 773.6L1323.6 773.7L1325 773.8L1326.4 773.9L1327.8 774L1329.2 774.1L1330.6 774.1L1332.1 774.2L1333.6 774.3L1335 774.4L1336.5 774.5L1338.1 774.5L1339.6 774.6L1341.1 774.7L1342.7 774.8L1344.3 774.9L1345.8 774.9L1347.4 775L1349 775.1L1350.6 775.2L1352.2 775.2L1353.8 775.3L1355.4 775.4L1357 775.5L1358.6 775.5L1360.2 775.6L1361.8 775.7L1363.4 775.8L1365 775.8L1366.6 775.9L1368.2 776L1369.7 776.1L1371.3 776.1L1372.8 776.2L1374.4 776.3L1375.9 776.3L1377.4 776.4L1378.9 776.5L1380.4 776.5L1381.9 776.6L1383.3 776.7L1384.9 776.7L1386.6 776.8L1388.4 776.9L1390.2 776.9L1392 777L1393.9 777L1395.8 777.1L1397.8 777.2L1399.7 777.2L1401.7 777.3L1403.7 777.3L1405.7 777.4L1407.7 777.4L1409.8 777.5L1411.7 777.5L1413.7 777.6L1415.7 777.6L1417.6 777.7L1419.5 777.7L1421.3 777.8L1423.1 777.8L1424.8 777.9L1426.5 777.9L1428.1 778L1429.7 778L1431.1 778.1L1432.5 778.1L1433.8 778.2L1435 778.2L1436.1 778.3L1437.1 778.4L1437.9 778.4L1438.7 778.5L1439.3 778.5L1439.8 778.6L1440.2 778.6L1440.4 778.7L1440.5 778.8L1440.4 778.8L1440.2 778.9L1439.8 779L1439.3 779L1438.7 779.1L1437.9 779.2L1437.1 779.2L1436.1 779.3L1435 779.4L1433.8 779.4L1432.5 779.5L1431.1 779.6L1429.7 779.6L1428.1 779.7L1426.5 779.8L1424.8 779.8L1423.1 779.9L1421.3 780L1419.5 780.1L1417.6 780.1L1415.7 780.2L1413.7 780.3L1411.7 780.3L1409.8 780.4L1407.7 780.5L1405.7 780.6L1403.7 780.6L1401.7 780.7L1399.7 780.8L1397.8 780.9L1395.8 781L1393.9 781L1392 781.1L1390.2 781.2L1388.4 781.3L1386.6 781.4L1384.9 781.4L1383.3 781.5L1381.9 781.6L1380.4 781.7L1378.9 781.8L1377.4 781.8L1375.9 781.9L1374.4 782L1372.8 782.1L1371.3 782.1L1369.7 782.2L1368.2 782.3L1366.6 782.4L1365 782.5L1363.4 782.6L1361.8 782.6L1360.2 782.7L1358.6 782.8L1357 782.9L1355.4 783L1353.8 783.1L1352.2 783.1L1350.6 783.2L1349 783.3L1347.4 783.4L1345.8 783.5L1344.3 783.6L1342.7 783.7L1341.1 783.8L1339.6 783.8L1338.1 783.9L1336.5 784L1335 784.1L1333.6 784.2L1332.1 784.3L1330.6 784.4L1329.2 784.5L1327.8 784.6L1326.4 784.7L1325 784.8L1323.6 784.8L1322.3 784.9L1321 785L1319.7 785.1L1317.9 785.3L1316 785.4L1314.2 785.5L1312.3 785.7L1310.5 785.8L1308.8 786L1307 786.1L1305.3 786.3L1303.6 786.4L1301.9 786.6L1300.3 786.7L1298.7 786.8L1297.1 787L1295.5 787.1L1294 787.3L1292.5 787.4L1291 787.6L1289.6 787.7L1288.2 787.9L1286.9 788.1L1285.5 788.2L1284.2 788.4L1283 788.5L1281.8 788.7L1280.6 788.9L1279.5 789L1278.4 789.2L1277.4 789.4L1274.7 789.8L1272.5 790.2L1270.5 790.6L1268.9 790.9L1267.5 791.4L1266.3 791.8L1265.3 792.3L1264.3 793L1263.4 793.7L1262.5 794.7L1261.7 795.7L1261.1 796.9L1260.7 798.2L1260.4 799.6L1260.2 801.1L1260 802.6L1259.9 804.3L1259.7 806L1259.6 807.7L1259.4 809.5L1259.2 810.8L1259 812L1258.8 813.3L1258.7 814.6L1258.5 815.9L1258.3 817.3L1258.2 818.7L1258 820.1L1257.9 821.6L1257.7 823.2L1257.6 824.9L1257.5 826.7L1257.4 828.6L1257.2 830.7L1257.2 831.9L1257.1 833.2L1257.1 834.6L1257 836L1256.9 837.6L1256.9 839.1L1256.8 840.7L1256.7 842.4L1256.7 844.1L1256.6 845.8L1256.6 847.5L1256.5 849.2L1256.5 850.9L1256.4 852.6L1256.4 854.3L1256.3 856L1256.3 857.6L1256.3 859.2L1256.2 860.7L1256.2 862.2L1256.2 863.6L1256.2 864.9L1256.2 866.2L1256.2 867.3L1256.2 868.4L1256.3 871.2L1256.4 873.3L1256.5 875L1256.7 876.4L1257 877.5L1257.3 878.6L1257.6 879.8L1257.9 881.2L1258.2 882.8L1258.4 884.5L1258.6 886.3L1258.8 888L1259.1 889.7L1259.7 891.2L1260.4 892.7L1261.5 893.9L1262.4 894.7L1263.4 895.3L1264.5 895.9L1265.7 896.5L1267 896.9L1268.4 897.3L1269.9 897.7L1271.6 898.1L1273.4 898.5L1275.3 898.8L1277.4 899.2L1278.6 899.4L1279.8 899.6L1281.1 899.8L1282.5 899.9L1284 900.1L1285.5 900.3L1287.1 900.4L1288.7 900.6L1290.3 900.7L1291.9 900.8L1293.6 901L1295.2 901.1L1296.9 901.3L1298.5 901.4L1300.1 901.5L1301.8 901.7L1303.3 901.8L1304.9 901.9L1306.3 902.1L1307.8 902.2L1309.2 902.4L1311 902.6L1312.9 902.8L1314.9 903L1316.9 903.2L1318.9 903.4L1321 903.6L1322.9 903.8L1324.8 904L1326.6 904.2L1328.3 904.4L1329.8 904.6L1331 904.8L1332.1 905L1332.9 905.2L1333.3 905.4L1333.5 905.6L1333.3 905.7L1332.9 905.9L1332.1 906.1L1331 906.2L1329.8 906.4L1328.3 906.6L1326.6 906.7L1324.8 906.9L1322.9 907.1L1321 907.2L1318.9 907.4L1316.9 907.6L1314.9 907.7L1312.9 907.9L1311 908.1L1309.2 908.3L1307.8 908.5L1306.3 908.6L1304.8 908.7L1303.3 908.9L1301.6 909L1300 909.2L1298.3 909.3L1296.6 909.4L1294.9 909.6L1293.2 909.7L1291.6 909.9L1289.9 910.1L1288.3 910.2L1286.7 910.4L1285.1 910.6L1283.6 910.8L1282.2 911L1280.9 911.2L1279.6 911.4L1278.4 911.7L1277.4 911.9L1275 912.6L1273.1 913.4L1271.6 914.2L1270.4 915L1269.4 916L1268.6 917L1267.7 918.1L1266.8 919.3L1265.9 920.5L1265.2 921.8L1264.5 923.2L1263.8 924.6L1263.3 926.1L1262.7 927.6L1262.3 929.1L1261.9 930.6L1261.5 932L1261.1 933.7L1260.8 935.4L1260.5 937.1L1260.4 938.8L1260.2 940.4L1260.2 942L1260.3 943.5L1260.4 944.7L1260.6 946.4L1260.8 947.8L1261.3 948.9L1262.5 950L1264.7 951.1L1265.7 951.5L1266.8 951.9L1268.2 952.2L1269.6 952.6L1271.2 952.9L1272.8 953.3L1274.5 953.6L1276.3 954L1278 954.3L1279.8 954.7L1281.6 955L1283.3 955.4L1284.9 955.7L1286.5 956L1288 956.4L1289.7 956.8L1291.5 957.2L1293.3 957.6L1295.2 958.1L1297.1 958.5L1298.9 958.9L1300.6 959.3L1302.2 959.7L1303.6 960.1L1304.9 960.5L1305.9 960.9L1306.6 961.3L1307 961.7L1306.9 962.2L1306 962.7L1304.5 963.2L1302.5 963.6L1300.3 964.1L1298 964.6L1296 965.2L1294.3 965.9L1292.9 966.8L1291.5 967.8L1290 968.9L1288.7 970L1287.4 971.2L1286.4 972.3L1285.5 973.4L1284.8 974.4L1283.5 976.2L1282.6 977.8L1283 979.4L1285.8 980.8L1286.7 981L1287.6 981.2L1288.7 981.4L1289.8 981.7L1291 981.9L1292.4 982.1L1293.7 982.3L1295.2 982.4L1296.7 982.6L1298.3 982.8L1299.9 983L1301.6 983.2L1303.3 983.3L1305 983.5L1306.8 983.7L1308.6 983.9L1310.5 984.1L1312.3 984.2L1314.2 984.4L1316 984.6L1317.9 984.8L1319.7 985L1321.1 985.1L1322.6 985.3L1324.2 985.4L1325.8 985.6L1327.6 985.7L1329.4 985.9L1331.3 986L1333.2 986.2L1335.1 986.3L1337.1 986.5L1339.1 986.7L1341.1 986.8L1343.1 987L1345.1 987.1L1347 987.3L1349 987.4L1350.9 987.6L1352.7 987.7L1354.5 987.9L1356.2 988.1L1357.8 988.2L1359.4 988.4L1360.8 988.5L1362.1 988.7L1363.3 988.8L1364.4 989L1365.3 989.1L1366.1 989.2L1366.7 989.4L1367.2 989.5L1367.4 989.7L1367.5 989.8L1367.2 990L1366.7 990.2L1365.9 990.3L1364.9 990.5L1363.6 990.7L1362.2 990.8L1360.5 991L1358.8 991.1L1356.9 991.3L1354.9 991.4L1352.8 991.6L1350.7 991.7L1348.6 991.9L1346.4 992.1L1344.3 992.2L1342.2 992.4L1340.1 992.5L1338.1 992.7L1336.3 992.8L1334.5 993L1333 993.1L1331.5 993.3L1330.3 993.5L1327.7 993.9L1325.1 994.3L1322.7 994.7L1320.4 995.2L1318.4 995.6L1316.7 996.1L1315.4 996.5L1314.6 996.9L1314.2 997.3L1314.4 997.7L1314.9 997.9L1315.5 998.1L1316.3 998.3L1317.3 998.5L1318.4 998.7L1319.7 998.8L1321.2 999L1322.8 999.2L1324.4 999.3L1326.3 999.5L1328.2 999.7L1330.1 999.8L1332.2 1000L1334.3 1000.2L1336.5 1000.4L1338.7 1000.6L1340.9 1000.9L1342.1 1001L1343.5 1001.2L1344.9 1001.3L1346.5 1001.4L1348.1 1001.6L1349.8 1001.8L1351.5 1001.9L1353.4 1002.1L1355.2 1002.2L1357.2 1002.4L1359.1 1002.6L1361.1 1002.7L1363 1002.9L1365 1003.1L1367 1003.3L1369 1003.4L1370.9 1003.6L1372.8 1003.8L1374.6 1004L1376.4 1004.2L1378.2 1004.3L1379.9 1004.5L1381.4 1004.7L1382.9 1004.8L1384.3 1005L1385.6 1005.2L1386.8 1005.3L1387.8 1005.5L1388.7 1005.6L1389.4 1005.8L1390 1005.9L1390.5 1006.1L1390.7 1006.2L1390.8 1006.3L1390.6 1006.5L1390.2 1006.6L1389.5 1006.8L1388.7 1006.9L1387.6 1007L1386.4 1007.2L1385 1007.3L1383.4 1007.4L1381.8 1007.5L1380 1007.6L1378.2 1007.7L1376.2 1007.8L1374.2 1007.9L1372.2 1008.1L1370.1 1008.2L1368 1008.3L1366 1008.4L1363.9 1008.5L1361.9 1008.6L1359.9 1008.7L1358 1008.8L1356.2 1009L1354.5 1009.1L1353 1009.2L1351.5 1009.4L1349.8 1009.5L1348 1009.7L1346.2 1009.9L1344.4 1010.1L1342.5 1010.3L1340.6 1010.5L1338.7 1010.7L1336.9 1010.9L1335.1 1011.1L1333.3 1011.3L1331.5 1011.5L1329.9 1011.7L1328.3 1011.9L1326.8 1012.1L1325.4 1012.3L1324.1 1012.5L1322.9 1012.7L1321.9 1012.9L1321 1013.2L1320.3 1013.4L1319.7 1013.6L1319.3 1014.1L1319.9 1014.6L1321.3 1015.2L1323.3 1015.7L1325.5 1016.3L1327.8 1016.9L1329.9 1017.5L1331.5 1018.2L1332.5 1018.9L1332.5 1020.2L1331.6 1021.6L1330.3 1023.1L1328.9 1024.6L1328.1 1026L1328.2 1027.4L1329 1028.1L1330.2 1028.8L1331.9 1029.4L1333.7 1030.1L1335.6 1030.7L1337.5 1031.3L1339.2 1031.9L1340.6 1032.5L1341.6 1033.1L1342 1033.7L1341.6 1034.4L1340.4 1035.1L1338.7 1035.8L1336.6 1036.6L1334.4 1037.3L1332.4 1038L1330.7 1038.7L1329.6 1039.4L1329.3 1040.1L1329.8 1040.7L1330.8 1041.3L1332.3 1041.9L1334.2 1042.5L1336.2 1043.1L1338.3 1043.7L1340.3 1044.3L1342.1 1044.9L1343.6 1045.4L1344.7 1045.9L1345.2 1046.4L1344.6 1047.1L1342.8 1047.6L1340.3 1048.1L1337.5 1048.6L1334.8 1049.1L1332.8 1049.6L1331.9 1050.1L1332.5 1050.7L1333.1 1050.9L1334 1051.1L1335 1051.3L1336.3 1051.5L1337.7 1051.7L1339.3 1052L1341 1052.2L1342.9 1052.4L1344.8 1052.6L1346.7 1052.9L1348.8 1053.1L1350.8 1053.3L1352.8 1053.6L1354.9 1053.8L1356.9 1054L1358.8 1054.2L1360.6 1054.5L1362.4 1054.7L1364 1054.9L1365.5 1055.1L1366.8 1055.4L1367.9 1055.6L1368.8 1055.8L1369.5 1056L1370.1 1056.7L1368 1057.4L1364.6 1058L1361.3 1058.6L1359.3 1059.4L1360 1060.2L1360.7 1060.4L1361.6 1060.7L1362.8 1060.9L1364.1 1061.2L1365.6 1061.4L1367.3 1061.7L1369.1 1062L1371 1062.2L1372.9 1062.5L1375 1062.8L1377.1 1063.1L1379.2 1063.4L1381.3 1063.7L1383.4 1064L1385.5 1064.3L1387.5 1064.6L1389.4 1064.8L1391.2 1065.1L1392.8 1065.4L1394.4 1065.7L1395.7 1066L1396.9 1066.2L1397.8 1066.5L1398.5 1066.7L1399 1067L1399.2 1067.2L1399.1 1067.4L1398.7 1067.7L1398.1 1067.9L1397.3 1068.1L1396.3 1068.3L1395.1 1068.5L1393.7 1068.7L1392.1 1068.9L1390.5 1069.1L1388.7 1069.3L1386.8 1069.5L1384.8 1069.7L1382.8 1069.9L1380.8 1070.1L1378.7 1070.2L1376.6 1070.4L1374.5 1070.6L1372.5 1070.8L1370.5 1071L1368.6 1071.1L1366.8 1071.3L1365.1 1071.5L1363.5 1071.7L1362.1 1071.9L1360.4 1072.1L1358.6 1072.3L1357 1072.6L1355.4 1072.8L1353.8 1073L1352.2 1073.2L1350.7 1073.4L1349.2 1073.7L1347.8 1073.9L1346.3 1074.1L1344.8 1074.3L1343.4 1074.5L1342 1074.8L1340.5 1075L1339.1 1075.3L1337.6 1075.5L1336.1 1075.8L1334.6 1076.1L1333 1076.4L1331.4 1076.7L1329.7 1077.1L1328 1077.5L1326.2 1077.8L1324.5 1078.2L1322.7 1078.6L1320.9 1079L1319.2 1079.4L1317.5 1079.8L1315.9 1080.2L1314.3 1080.6L1312.8 1080.9L1311.4 1081.3L1310.2 1081.6L1309 1081.9L1307.9 1082.2L1307 1082.5L1304 1083.6L1304.9 1084.6L1305.5 1085.6L1306.6 1086.7L1307.9 1088L1309.2 1089.2L1248 1091L1248 647.8z" fill="#b9b9b9" stroke="none"/><path d="M1251.9 647.8L1252 649.4L1252 650.9L1252 652.5L1252 654L1252.1 655.6L1252.1 657.3L1252.1 658.9L1252.1 660.5L1252.2 662.2L1252.2 663.8L1252.2 665.5L1252.2 667.1L1252.3 668.8L1252.3 670.5L1252.3 672.1L1252.3 673.8L1252.4 675.4L1252.4 677L1252.4 678.7L1252.4 680.3L1252.5 681.9L1252.5 683.4L1252.5 685L1252.5 686.5L1252.6 688L1252.6 689.5L1252.6 691L1252.6 692.4L1252.6 693.8L1252.7 695.2L1252.7 696.5L1252.7 697.8L1252.7 699L1252.7 700.2L1252.8 701.4L1252.8 702.5L1252.8 703.6L1252.8 706.2L1252.9 708.5L1252.9 710.7L1252.9 712.6L1252.9 714.3L1252.9 715.9L1252.9 717.3L1252.9 718.6L1252.9 719.8L1252.9 720.9L1253 721.9L1253 722.9L1253.1 723.8L1253.2 724.7L1252.9 727.2L1252.1 728.5L1252.6 729.2L1256.2 730L1257 730.2L1257.9 730.3L1258.8 730.5L1259.8 730.6L1260.8 730.7L1261.9 730.9L1263 731L1264.2 731.1L1265.4 731.2L1266.7 731.3L1268 731.4L1269.4 731.6L1270.8 731.7L1272.3 731.8L1273.8 731.9L1275.4 732L1277 732.1L1278.7 732.2L1280.4 732.3L1282.2 732.4L1284.1 732.5L1286 732.6L1287.9 732.7L1289.9 732.8L1292 732.9L1294.1 733L1296.3 733.1L1298.6 733.2L1299.7 733.3L1300.9 733.3L1302.1 733.4L1303.3 733.4L1304.6 733.5L1305.9 733.6L1307.2 733.6L1308.5 733.7L1309.8 733.7L1311.2 733.8L1312.6 733.9L1314 733.9L1315.5 734L1316.9 734L1318.4 734.1L1319.9 734.1L1321.4 734.2L1322.9 734.3L1324.4 734.3L1326 734.4L1327.5 734.4L1329.1 734.5L1330.7 734.5L1332.2 734.6L1333.8 734.7L1335.4 734.7L1337.1 734.8L1338.7 734.8L1340.3 734.9L1341.9 735L1343.6 735L1345.2 735.1L1346.8 735.1L1348.5 735.2L1350.1 735.2L1351.8 735.3L1353.4 735.4L1355.1 735.4L1356.7 735.5L1358.3 735.5L1359.9 735.6L1361.6 735.6L1363.2 735.7L1364.8 735.7L1366.4 735.8L1368 735.9L1369.6 735.9L1371.2 736L1372.7 736L1374.3 736.1L1375.8 736.1L1377.3 736.2L1378.9 736.2L1380.4 736.3L1381.8 736.3L1383.3 736.4L1384.9 736.5L1386.5 736.5L1388.2 736.6L1390 736.6L1391.7 736.7L1393.6 736.7L1395.4 736.8L1397.3 736.8L1399.2 736.9L1401.1 737L1403.1 737L1405 737.1L1407 737.1L1409 737.2L1411 737.2L1413 737.3L1415 737.3L1417.1 737.4L1419.1 737.4L1421.1 737.5L1423 737.6L1425 737.6L1427 737.7L1428.9 737.7L1430.8 737.8L1432.7 737.8L1434.5 737.9L1436.4 737.9L1438.2 738L1439.9 738L1441.6 738.1L1443.3 738.1L1444.9 738.2L1446.4 738.2L1447.9 738.3L1449.3 738.3L1450.7 738.4L1452 738.4L1453.3 738.5L1454.4 738.5L1455.5 738.6L1456.5 738.6L1457.5 738.7L1458.3 738.7L1459.1 738.8L1459.8 738.8L1460.3 738.9L1460.8 738.9L1461.2 739L1461.5 739.1L1461.6 739.1L1461.7 739.2L1461.6 739.2L1461.5 739.3L1461.2 739.3L1460.8 739.4L1460.3 739.4L1459.6 739.5L1458.9 739.5L1458.1 739.5L1457.2 739.6L1456.2 739.6L1455.2 739.7L1454 739.7L1452.8 739.8L1451.5 739.8L1450.1 739.9L1448.6 739.9L1447.1 740L1445.6 740L1444 740.1L1442.3 740.1L1440.6 740.2L1438.8 740.2L1437 740.3L1435.2 740.3L1433.3 740.4L1431.4 740.4L1429.4 740.4L1427.5 740.5L1425.5 740.5L1423.5 740.6L1421.5 740.6L1419.5 740.7L1417.5 740.7L1415.5 740.8L1413.5 740.8L1411.5 740.9L1409.5 740.9L1407.5 741L1405.5 741L1403.6 741.1L1401.7 741.1L1399.8 741.2L1397.9 741.2L1396.1 741.3L1394.3 741.3L1392.6 741.4L1390.9 741.4L1389.3 741.5L1387.7 741.5L1386.2 741.6L1384.7 741.6L1383.3 741.7L1381.6 741.8L1379.9 741.8L1378.2 741.9L1376.5 742L1374.8 742L1373.1 742.1L1371.4 742.2L1369.8 742.3L1368.1 742.3L1366.4 742.4L1364.7 742.5L1363 742.5L1361.4 742.6L1359.7 742.7L1358.1 742.8L1356.4 742.8L1354.8 742.9L1353.2 743L1351.6 743.1L1350 743.1L1348.4 743.2L1346.8 743.3L1345.3 743.4L1343.8 743.4L1342.2 743.5L1340.7 743.6L1339.3 743.7L1337.8 743.8L1336.3 743.8L1334.9 743.9L1333.5 744L1332.1 744.1L1330.8 744.2L1329.5 744.2L1328.1 744.3L1326.9 744.4L1325.6 744.5L1324.4 744.6L1323.2 744.6L1322 744.7L1320.9 744.8L1319.7 744.9L1317.3 745.1L1315 745.2L1312.7 745.4L1310.4 745.6L1308.3 745.8L1306.2 746L1304.2 746.2L1302.3 746.3L1300.5 746.5L1298.9 746.7L1297.4 746.9L1296 747.1L1294.8 747.3L1293.7 747.5L1292.8 747.7L1292.1 747.9L1291.6 748.1L1291.3 748.3L1291.1 748.5L1291.3 748.7L1291.7 748.9L1292.3 749.1L1293.2 749.3L1294.3 749.5L1295.6 749.6L1297 749.8L1298.6 750L1300.3 750.2L1302.1 750.4L1303.9 750.6L1305.9 750.8L1307.9 751L1309.9 751.2L1312 751.5L1314 751.7L1316 751.9L1317.9 752.1L1319.7 752.3L1321.1 752.4L1322.7 752.6L1324.3 752.8L1326.1 752.9L1328 753.1L1329.9 753.2L1331.9 753.4L1333.9 753.5L1336 753.7L1338 753.9L1340.1 754L1342.2 754.2L1344.2 754.4L1346.1 754.5L1348 754.7L1349.9 754.8L1351.6 755L1353.2 755.2L1354.6 755.3L1356 755.5L1357.1 755.7L1358.1 755.8L1358.9 756L1359.5 756.2L1359.9 756.4L1360 756.5L1359.9 756.7L1359.6 756.9L1359 757L1358.3 757.2L1357.4 757.4L1356.3 757.5L1355.1 757.7L1353.7 757.9L1352.2 758L1350.6 758.2L1348.9 758.4L1347.2 758.6L1345.3 758.7L1343.4 758.9L1341.5 759.1L1339.5 759.3L1337.5 759.4L1335.5 759.6L1333.5 759.8L1331.6 760L1329.7 760.1L1327.8 760.3L1326 760.5L1324.3 760.7L1322.7 760.8L1321.1 761L1319.7 761.2L1318 761.4L1316.3 761.6L1314.6 761.9L1312.9 762.1L1311.1 762.4L1309.4 762.6L1307.7 762.8L1306.1 763.1L1304.4 763.3L1302.8 763.6L1301.2 763.8L1299.7 764L1298.1 764.3L1296.7 764.5L1295.3 764.8L1293.9 765L1292.6 765.2L1291.3 765.4L1290.1 765.6L1289 765.9L1288 766.1L1284.9 766.6L1281.9 767.2L1279.2 767.7L1277.1 768.2L1275.9 768.7L1275.9 769.1L1277.4 769.7L1278 769.8L1278.7 769.9L1279.5 770.1L1280.5 770.2L1281.5 770.3L1282.6 770.5L1283.7 770.6L1285 770.8L1286.3 770.9L1287.7 771L1289.2 771.2L1290.7 771.3L1292.3 771.5L1293.9 771.6L1295.6 771.7L1297.3 771.9L1299.1 772L1300.9 772.2L1302.7 772.3L1304.6 772.4L1306.4 772.6L1308.3 772.7L1310.2 772.8L1312.1 773L1314 773.1L1315.9 773.2L1317.8 773.3L1319.7 773.5L1321 773.6L1322.3 773.6L1323.6 773.7L1325 773.8L1326.4 773.9L1327.8 774L1329.2 774.1L1330.6 774.1L1332.1 774.2L1333.6 774.3L1335 774.4L1336.5 774.5L1338.1 774.5L1339.6 774.6L1341.1 774.7L1342.7 774.8L1344.3 774.9L1345.8 774.9L1347.4 775L1349 775.1L1350.6 775.2L1352.2 775.2L1353.8 775.3L1355.4 775.4L1357 775.5L1358.6 775.5L1360.2 775.6L1361.8 775.7L1363.4 775.8L1365 775.8L1366.6 775.9L1368.2 776L1369.7 776.1L1371.3 776.1L1372.8 776.2L1374.4 776.3L1375.9 776.3L1377.4 776.4L1378.9 776.5L1380.4 776.5L1381.9 776.6L1383.3 776.7L1384.9 776.7L1386.6 776.8L1388.4 776.9L1390.2 776.9L1392 777L1393.9 777L1395.8 777.1L1397.8 777.2L1399.7 777.2L1401.7 777.3L1403.7 777.3L1405.7 777.4L1407.7 777.4L1409.8 777.5L1411.7 777.5L1413.7 777.6L1415.7 777.6L1417.6 777.7L1419.5 777.7L1421.3 777.8L1423.1 777.8L1424.8 777.9L1426.5 777.9L1428.1 778L1429.7 778L1431.1 778.1L1432.5 778.1L1433.8 778.2L1435 778.2L1436.1 778.3L1437.1 778.4L1437.9 778.4L1438.7 778.5L1439.3 778.5L1439.8 778.6L1440.2 778.6L1440.4 778.7L1440.5 778.8L1440.4 778.8L1440.2 778.9L1439.8 779L1439.3 779L1438.7 779.1L1437.9 779.2L1437.1 779.2L1436.1 779.3L1435 779.4L1433.8 779.4L1432.5 779.5L1431.1 779.6L1429.7 779.6L1428.1 779.7L1426.5 779.8L1424.8 779.8L1423.1 779.9L1421.3 780L1419.5 780.1L1417.6 780.1L1415.7 780.2L1413.7 780.3L1411.7 780.3L1409.8 780.4L1407.7 780.5L1405.7 780.6L1403.7 780.6L1401.7 780.7L1399.7 780.8L1397.8 780.9L1395.8 781L1393.9 781L1392 781.1L1390.2 781.2L1388.4 781.3L1386.6 781.4L1384.9 781.4L1383.3 781.5L1381.9 781.6L1380.4 781.7L1378.9 781.8L1377.4 781.8L1375.9 781.9L1374.4 782L1372.8 782.1L1371.3 782.1L1369.7 782.2L1368.2 782.3L1366.6 782.4L1365 782.5L1363.4 782.6L1361.8 782.6L1360.2 782.7L1358.6 782.8L1357 782.9L1355.4 783L1353.8 783.1L1352.2 783.1L1350.6 783.2L1349 783.3L1347.4 783.4L1345.8 783.5L1344.3 783.6L1342.7 783.7L1341.1 783.8L1339.6 783.8L1338.1 783.9L1336.5 784L1335 784.1L1333.6 784.2L1332.1 784.3L1330.6 784.4L1329.2 784.5L1327.8 784.6L1326.4 784.7L1325 784.8L1323.6 784.8L1322.3 784.9L1321 785L1319.7 785.1L1317.9 785.3L1316 785.4L1314.2 785.5L1312.3 785.7L1310.5 785.8L1308.8 786L1307 786.1L1305.3 786.3L1303.6 786.4L1301.9 786.6L1300.3 786.7L1298.7 786.8L1297.1 787L1295.5 787.1L1294 787.3L1292.5 787.4L1291 787.6L1289.6 787.7L1288.2 787.9L1286.9 788.1L1285.5 788.2L1284.2 788.4L1283 788.5L1281.8 788.7L1280.6 788.9L1279.5 789L1278.4 789.2L1277.4 789.4L1274.7 789.8L1272.5 790.2L1270.5 790.6L1268.9 790.9L1267.5 791.4L1266.3 791.8L1265.3 792.3L1264.3 793L1263.4 793.7L1262.5 794.7L1261.7 795.7L1261.1 796.9L1260.7 798.2L1260.4 799.6L1260.2 801.1L1260 802.6L1259.9 804.3L1259.7 806L1259.6 807.7L1259.4 809.5L1259.2 810.8L1259 812L1258.8 813.3L1258.7 814.6L1258.5 815.9L1258.3 817.3L1258.2 818.7L1258 820.1L1257.9 821.6L1257.7 823.2L1257.6 824.9L1257.5 826.7L1257.4 828.6L1257.2 830.7L1257.2 831.9L1257.1 833.2L1257.1 834.6L1257 836L1256.9 837.6L1256.9 839.1L1256.8 840.7L1256.7 842.4L1256.7 844.1L1256.6 845.8L1256.6 847.5L1256.5 849.2L1256.5 850.9L1256.4 852.6L1256.4 854.3L1256.3 856L1256.3 857.6L1256.3 859.2L1256.2 860.7L1256.2 862.2L1256.2 863.6L1256.2 864.9L1256.2 866.2L1256.2 867.3L1256.2 868.4L1256.3 871.2L1256.4 873.3L1256.5 875L1256.7 876.4L1257 877.5L1257.3 878.6L1257.6 879.8L1257.9 881.2L1258.2 882.8L1258.4 884.5L1258.6 886.3L1258.8 888L1259.1 889.7L1259.7 891.2L1260.4 892.7L1261.5 893.9L1262.4 894.7L1263.4 895.3L1264.5 895.9L1265.7 896.5L1267 896.9L1268.4 897.3L1269.9 897.7L1271.6 898.1L1273.4 898.5L1275.3 898.8L1277.4 899.2L1278.6 899.4L1279.8 899.6L1281.1 899.8L1282.5 899.9L1284 900.1L1285.5 900.3L1287.1 900.4L1288.7 900.6L1290.3 900.7L1291.9 900.8L1293.6 901L1295.2 901.1L1296.9 901.3L1298.5 901.4L1300.1 901.5L1301.8 901.7L1303.3 901.8L1304.9 901.9L1306.3 902.1L1307.8 902.2L1309.2 902.4L1311 902.6L1312.9 902.8L1314.9 903L1316.9 903.2L1318.9 903.4L1321 903.6L1322.9 903.8L1324.8 904L1326.6 904.2L1328.3 904.4L1329.8 904.6L1331 904.8L1332.1 905L1332.9 905.2L1333.3 905.4L1333.5 905.6L1333.3 905.7L1332.9 905.9L1332.1 906.1L1331 906.2L1329.8 906.4L1328.3 906.6L1326.6 906.7L1324.8 906.9L1322.9 907.1L1321 907.2L1318.9 907.4L1316.9 907.6L1314.9 907.7L1312.9 907.9L1311 908.1L1309.2 908.3L1307.8 908.5L1306.3 908.6L1304.8 908.7L1303.3 908.9L1301.6 909L1300 909.2L1298.3 909.3L1296.6 909.4L1294.9 909.6L1293.2 909.7L1291.6 909.9L1289.9 910.1L1288.3 910.2L1286.7 910.4L1285.1 910.6L1283.6 910.8L1282.2 911L1280.9 911.2L1279.6 911.4L1278.4 911.7L1277.4 911.9L1275 912.6L1273.1 913.4L1271.6 914.2L1270.4 915L1269.4 916L1268.6 917L1267.7 918.1L1266.8 919.3L1265.9 920.5L1265.2 921.8L1264.5 923.2L1263.8 924.6L1263.3 926.1L1262.7 927.6L1262.3 929.1L1261.9 930.6L1261.5 932L1261.1 933.7L1260.8 935.4L1260.5 937.1L1260.4 938.8L1260.2 940.4L1260.2 942L1260.3 943.5L1260.4 944.7L1260.6 946.4L1260.8 947.8L1261.3 948.9L1262.5 950L1264.7 951.1L1265.7 951.5L1266.8 951.9L1268.2 952.2L1269.6 952.6L1271.2 952.9L1272.8 953.3L1274.5 953.6L1276.3 954L1278 954.3L1279.8 954.7L1281.6 955L1283.3 955.4L1284.9 955.7L1286.5 956L1288 956.4L1289.7 956.8L1291.5 957.2L1293.3 957.6L1295.2 958.1L1297.1 958.5L1298.9 958.9L1300.6 959.3L1302.2 959.7L1303.6 960.1L1304.9 960.5L1305.9 960.9L1306.6 961.3L1307 961.7L1306.9 962.2L1306 962.7L1304.5 963.2L1302.5 963.6L1300.3 964.1L1298 964.6L1296 965.2L1294.3 965.9L1292.9 966.8L1291.5 967.8L1290 968.9L1288.7 970L1287.4 971.2L1286.4 972.3L1285.5 973.4L1284.8 974.4L1283.5 976.2L1282.6 977.8L1283 979.4L1285.8 980.8L1286.7 981L1287.6 981.2L1288.7 981.4L1289.8 981.7L1291 981.9L1292.4 982.1L1293.7 982.3L1295.2 982.4L1296.7 982.6L1298.3 982.8L1299.9 983L1301.6 983.2L1303.3 983.3L1305 983.5L1306.8 983.7L1308.6 983.9L1310.5 984.1L1312.3 984.2L1314.2 984.4L1316 984.6L1317.9 984.8L1319.7 985L1321.1 985.1L1322.6 985.3L1324.2 985.4L1325.8 985.6L1327.6 985.7L1329.4 985.9L1331.3 986L1333.2 986.2L1335.1 986.3L1337.1 986.5L1339.1 986.7L1341.1 986.8L1343.1 987L1345.1 987.1L1347 987.3L1349 987.4L1350.9 987.6L1352.7 987.7L1354.5 987.9L1356.2 988.1L1357.8 988.2L1359.4 988.4L1360.8 988.5L1362.1 988.7L1363.3 988.8L1364.4 989L1365.3 989.1L1366.1 989.2L1366.7 989.4L1367.2 989.5L1367.4 989.7L1367.5 989.8L1367.2 990L1366.7 990.2L1365.9 990.3L1364.9 990.5L1363.6 990.7L1362.2 990.8L1360.5 991L1358.8 991.1L1356.9 991.3L1354.9 991.4L1352.8 991.6L1350.7 991.7L1348.6 991.9L1346.4 992.1L1344.3 992.2L1342.2 992.4L1340.1 992.5L1338.1 992.7L1336.3 992.8L1334.5 993L1333 993.1L1331.5 993.3L1330.3 993.5L1327.7 993.9L1325.1 994.3L1322.7 994.7L1320.4 995.2L1318.4 995.6L1316.7 996.1L1315.4 996.5L1314.6 996.9L1314.2 997.3L1314.4 997.7L1314.9 997.9L1315.5 998.1L1316.3 998.3L1317.3 998.5L1318.4 998.7L1319.7 998.8L1321.2 999L1322.8 999.2L1324.4 999.3L1326.3 999.5L1328.2 999.7L1330.1 999.8L1332.2 1000L1334.3 1000.2L1336.5 1000.4L1338.7 1000.6L1340.9 1000.9L1342.1 1001L1343.5 1001.2L1344.9 1001.3L1346.5 1001.4L1348.1 1001.6L1349.8 1001.8L1351.5 1001.9L1353.4 1002.1L1355.2 1002.2L1357.2 1002.4L1359.1 1002.6L1361.1 1002.7L1363 1002.9L1365 1003.1L1367 1003.3L1369 1003.4L1370.9 1003.6L1372.8 1003.8L1374.6 1004L1376.4 1004.2L1378.2 1004.3L1379.9 1004.5L1381.4 1004.7L1382.9 1004.8L1384.3 1005L1385.6 1005.2L1386.8 1005.3L1387.8 1005.5L1388.7 1005.6L1389.4 1005.8L1390 1005.9L1390.5 1006.1L1390.7 1006.2L1390.8 1006.3L1390.6 1006.5L1390.2 1006.6L1389.5 1006.8L1388.7 1006.9L1387.6 1007L1386.4 1007.2L1385 1007.3L1383.4 1007.4L1381.8 1007.5L1380 1007.6L1378.2 1007.7L1376.2 1007.8L1374.2 1007.9L1372.2 1008.1L1370.1 1008.2L1368 1008.3L1366 1008.4L1363.9 1008.5L1361.9 1008.6L1359.9 1008.7L1358 1008.8L1356.2 1009L1354.5 1009.1L1353 1009.2L1351.5 1009.4L1349.8 1009.5L1348 1009.7L1346.2 1009.9L1344.4 1010.1L1342.5 1010.3L1340.6 1010.5L1338.7 1010.7L1336.9 1010.9L1335.1 1011.1L1333.3 1011.3L1331.5 1011.5L1329.9 1011.7L1328.3 1011.9L1326.8 1012.1L1325.4 1012.3L1324.1 1012.5L1322.9 1012.7L1321.9 1012.9L1321 1013.2L1320.3 1013.4L1319.7 1013.6L1319.3 1014.1L1319.9 1014.6L1321.3 1015.2L1323.3 1015.7L1325.5 1016.3L1327.8 1016.9L1329.9 1017.5L1331.5 1018.2L1332.5 1018.9L1332.5 1020.2L1331.6 1021.6L1330.3 1023.1L1328.9 1024.6L1328.1 1026L1328.2 1027.4L1329 1028.1L1330.2 1028.8L1331.9 1029.4L1333.7 1030.1L1335.6 1030.7L1337.5 1031.3L1339.2 1031.9L1340.6 1032.5L1341.6 1033.1L1342 1033.7L1341.6 1034.4L1340.4 1035.1L1338.7 1035.8L1336.6 1036.6L1334.4 1037.3L1332.4 1038L1330.7 1038.7L1329.6 1039.4L1329.3 1040.1L1329.8 1040.7L1330.8 1041.3L1332.3 1041.9L1334.2 1042.5L1336.2 1043.1L1338.3 1043.7L1340.3 1044.3L1342.1 1044.9L1343.6 1045.4L1344.7 1045.9L1345.2 1046.4L1344.6 1047.1L1342.8 1047.6L1340.3 1048.1L1337.5 1048.6L1334.8 1049.1L1332.8 1049.6L1331.9 1050.1L1332.5 1050.7L1333.1 1050.9L1334 1051.1L1335 1051.3L1336.3 1051.5L1337.7 1051.7L1339.3 1052L1341 1052.2L1342.9 1052.4L1344.8 1052.6L1346.7 1052.9L1348.8 1053.1L1350.8 1053.3L1352.8 1053.6L1354.9 1053.8L1356.9 1054L1358.8 1054.2L1360.6 1054.5L1362.4 1054.7L1364 1054.9L1365.5 1055.1L1366.8 1055.4L1367.9 1055.6L1368.8 1055.8L1369.5 1056L1370.1 1056.7L1368 1057.4L1364.6 1058L1361.3 1058.6L1359.3 1059.4L1360 1060.2L1360.7 1060.4L1361.6 1060.7L1362.8 1060.9L1364.1 1061.2L1365.6 1061.4L1367.3 1061.7L1369.1 1062L1371 1062.2L1372.9 1062.5L1375 1062.8L1377.1 1063.1L1379.2 1063.4L1381.3 1063.7L1383.4 1064L1385.5 1064.3L1387.5 1064.6L1389.4 1064.8L1391.2 1065.1L1392.8 1065.4L1394.4 1065.7L1395.7 1066L1396.9 1066.2L1397.8 1066.5L1398.5 1066.7L1399 1067L1399.2 1067.2L1399.1 1067.4L1398.7 1067.7L1398.1 1067.9L1397.3 1068.1L1396.3 1068.3L1395.1 1068.5L1393.7 1068.7L1392.1 1068.9L1390.5 1069.1L1388.7 1069.3L1386.8 1069.5L1384.8 1069.7L1382.8 1069.9L1380.8 1070.1L1378.7 1070.2L1376.6 1070.4L1374.5 1070.6L1372.5 1070.8L1370.5 1071L1368.6 1071.1L1366.8 1071.3L1365.1 1071.5L1363.5 1071.7L1362.1 1071.9L1360.4 1072.1L1358.6 1072.3L1357 1072.6L1355.4 1072.8L1353.8 1073L1352.2 1073.2L1350.7 1073.4L1349.2 1073.7L1347.8 1073.9L1346.3 1074.1L1344.8 1074.3L1343.4 1074.5L1342 1074.8L1340.5 1075L1339.1 1075.3L1337.6 1075.5L1336.1 1075.8L1334.6 1076.1L1333 1076.4L1331.4 1076.7L1329.7 1077.1L1328 1077.5L1326.2 1077.8L1324.5 1078.2L1322.7 1078.6L1320.9 1079L1319.2 1079.4L1317.5 1079.8L1315.9 1080.2L1314.3 1080.6L1312.8 1080.9L1311.4 1081.3L1310.2 1081.6L1309 1081.9L1307.9 1082.2L1307 1082.5L1304 1083.6L1304.9 1084.6L1305.5 1085.6L1306.6 1086.7L1307.9 1088L1309.2 1089.2" stroke="#8c8c8c" stroke-width="1.8"/><path d="M1248.3 647.8L1248.3 649.4L1248.3 650.9L1248.3 652.5L1248.3 654L1248.3 655.7L1248.3 657.3L1248.3 658.9L1248.3 660.6L1248.3 662.3L1248.3 663.9L1248.3 665.6L1248.3 667.3L1248.3 669.1L1248.3 670.8L1248.3 672.5L1248.3 674.3L1248.3 676L1248.3 677.7L1248.3 679.5L1248.3 681.2L1248.3 682.9L1248.3 684.7L1248.3 686.4L1248.3 688.1L1248.3 689.8L1248.3 691.5L1248.3 693.2L1248.3 694.9L1248.3 696.6L1248.3 698.2L1248.3 699.8L1248.3 701.4L1248.3 703L1248.3 704.6L1248.3 706.1L1248.3 707.6L1248.3 709.1L1248.3 710.6L1248.3 712L1248.3 713.4L1248.3 714.8L1248.3 716.1L1248.3 717.4L1248.3 718.7L1248.3 719.9L1248.3 721.1L1248.3 722.2L1248.3 723.3L1248.3 724.4L1248.3 725.4L1248.3 726.4L1248.3 727.3L1248.3 728.2L1248.3 729L1248.4 735.8L1248.8 733.2L1249.2 734.6L1249.9 736L1250.4 737.6L1250.7 739.2L1250.4 740.8L1249.9 742.6L1249.3 744.4L1249 745.9L1249.1 748.1L1249.8 750.2L1250.6 751.6L1251.6 753.1L1252.4 754.8L1252.8 756.5L1252.6 757.9L1252 759.4L1251.2 760.9L1250.4 762.4L1249.8 763.9L1249.4 764L1249.1 762.6L1248.8 761.9L1248.5 764.1L1248.3 771.4L1248.3 772.2L1248.3 773.1L1248.3 774L1248.3 774.9L1248.3 775.9L1248.3 777L1248.3 778L1248.3 779.1L1248.3 780.2L1248.3 781.4L1248.3 782.6L1248.3 783.8L1248.3 785.1L1248.2 786.4L1248.2 787.7L1248.2 789L1248.2 790.4L1248.2 791.8L1248.2 793.2L1248.2 794.6L1248.2 796.1L1248.2 797.6L1248.2 799.1L1248.2 800.6L1248.2 802.1L1248.2 803.7L1248.2 805.3L1248.2 806.9L1248.2 808.5L1248.2 810.1L1248.3 811.8L1248.3 813.4L1248.3 815.1L1248.3 816.8L1248.3 818.5L1248.3 820.2L1248.3 821.9L1248.3 823.6L1248.3 825.4L1248.3 827.1L1248.3 828.8L1248.3 830.6L1248.3 832.3L1248.3 834.1L1248.3 835.8L1248.3 837.6L1248.3 839.3L1248.3 841.1L1248.3 842.9L1248.3 844.6L1248.3 846.4L1248.3 848.1L1248.3 849.8L1248.3 851.6L1248.3 853.3L1248.3 855L1248.3 856.7L1248.3 858.4L1248.3 860.1L1248.3 861.8L1248.3 863.5L1248.3 865.1L1248.3 866.8L1248.3 868.4L1248.3 869.8L1248.3 871.3L1248.3 872.8L1248.3 874.3L1248.3 875.8L1248.3 877.3L1248.3 878.9L1248.3 880.5L1248.3 882.1L1248.3 883.7L1248.3 885.3L1248.3 886.9L1248.3 888.6L1248.3 890.3L1248.3 891.9L1248.3 893.6L1248.3 895.3L1248.3 897.1L1248.3 898.8L1248.3 900.5L1248.3 902.2L1248.3 904L1248.3 905.7L1248.3 907.5L1248.3 909.2L1248.3 911L1248.3 912.7L1248.3 914.5L1248.3 916.2L1248.3 918L1248.3 919.7L1248.3 921.5L1248.3 923.2L1248.3 924.9L1248.3 926.7L1248.3 928.4L1248.3 930.1L1248.3 931.8L1248.3 933.5L1248.3 935.2L1248.3 936.9L1248.3 938.5L1248.3 940.2L1248.3 941.8L1248.3 943.4L1248.3 945L1248.3 946.6L1248.3 948.1L1248.3 949.7L1248.3 951.2L1248.3 952.7L1248.3 954.2L1248.3 955.7L1248.3 957.1L1248.3 958.5L1248.3 959.9L1248.3 961.2L1248.3 962.6L1248.3 963.9L1248.3 965.2L1248.3 966.4L1248.3 967.6L1248.3 968.8L1248.3 969.9L1248.3 971.1L1248.3 972.1L1248.3 973.2L1248.3 974.2L1248.3 975.2L1248.3 976.1L1248.3 977L1248.3 977.8L1248.3 978.6L1248.5 988.2L1248.7 986.1L1249 983.9L1249.5 985.7L1250 987.4L1250.3 989.2L1250 990.8L1249.6 992.4L1249.1 994.1L1248.8 995.6L1248.8 997.4L1249 999.2L1249.4 1000.9L1250.2 1002.7L1251.1 1004.4L1251.5 1006.2L1251 1008L1249.9 1009.7L1249 1011.5L1248.6 1010.8L1248.4 1010L1248.3 1016.8L1248.3 1017.6L1248.3 1018.5L1248.3 1019.5L1248.3 1020.5L1248.3 1021.5L1248.3 1022.6L1248.3 1023.8L1248.3 1025L1248.3 1026.2L1248.3 1027.5L1248.3 1028.8L1248.3 1030.2L1248.3 1031.6L1248.3 1033L1248.3 1034.5L1248.3 1036L1248.3 1037.5L1248.3 1039L1248.3 1040.6L1248.3 1042.2L1248.3 1043.8L1248.3 1045.5L1248.3 1047.1L1248.3 1048.8L1248.3 1050.5L1248.3 1052.2L1248.3 1053.9L1248.3 1055.6L1248.3 1057.4L1248.3 1059.1L1248.3 1060.9L1248.3 1062.6L1248.3 1064.3L1248.3 1066.1L1248.3 1067.8L1248.3 1069.5L1248.3 1071.3L1248.3 1073L1248.3 1074.7L1248.3 1076.4L1248.3 1078.1L1248.3 1079.7L1248.3 1081.4L1248.3 1083L1248.3 1084.6L1248.3 1086.2L1248.3 1087.7L1248.3 1089.2" stroke="#0000f0" stroke-width="2"/><path d="M1248.8 647.8L1248.8 649.4L1248.8 650.9L1248.8 652.5L1248.8 654L1248.8 655.6L1248.8 657.3L1248.8 658.9L1248.8 660.5L1248.8 662.2L1248.8 663.8L1248.8 665.5L1248.8 667.1L1248.8 668.8L1248.8 670.5L1248.8 672.1L1248.8 673.8L1248.8 675.4L1248.8 677L1248.8 678.7L1248.8 680.3L1248.8 681.9L1248.8 683.4L1248.8 685L1248.8 686.5L1248.8 688L1248.8 689.5L1248.8 691L1248.8 692.4L1248.8 693.8L1248.8 695.2L1248.8 696.5L1248.8 697.8L1248.8 699L1248.8 700.2L1248.8 701.4L1248.8 702.5L1248.8 703.6L1248.8 706.2L1248.8 708.5L1248.7 710.7L1248.7 712.6L1248.7 714.3L1248.7 715.8L1248.6 717.2L1248.6 718.5L1248.6 719.7L1248.6 720.8L1248.6 721.8L1248.7 722.8L1248.7 723.8L1248.8 724.7L1248.6 727.4L1248.2 729L1248.6 730L1250.9 731.1L1251.8 731.4L1252.9 731.7L1254.2 731.9L1255.6 732.2L1257.1 732.5L1258.7 732.7L1260.3 732.9L1262.1 733.2L1263.8 733.4L1265.6 733.6L1267.4 733.8L1269.2 734L1271 734.2L1272.7 734.4L1274.4 734.6L1275.9 734.7L1277.4 734.9L1279.1 735.1L1280.8 735.3L1282.4 735.5L1284.1 735.6L1285.7 735.8L1287.3 735.9L1288.9 736.1L1290.4 736.2L1291.9 736.3L1293.4 736.5L1294.7 736.6L1296.1 736.7L1297.4 736.9L1298.6 737L1300.9 737.3L1303.3 737.6L1305.4 737.9L1307.3 738.2L1308.9 738.5L1309.9 738.8L1310.2 739.2L1309.9 739.4L1309 739.7L1307.6 740L1305.7 740.3L1303.6 740.6L1301.2 740.9L1298.6 741.3L1297.4 741.4L1296.1 741.6L1294.8 741.8L1293.3 742L1291.8 742.2L1290.2 742.4L1288.6 742.6L1286.9 742.8L1285.3 743L1283.6 743.3L1282 743.5L1280.3 743.7L1278.8 744L1277.2 744.2L1275.8 744.4L1274.4 744.6L1273.1 744.9L1271.1 745.3L1269 745.7L1267 746.1L1265.1 746.5L1263.3 747L1261.6 747.4L1260.2 747.8L1258.9 748.3L1257.9 748.7L1257.2 749.1L1257.1 750.2L1258.7 751.3L1260.9 752.4L1262.5 753.3L1264.8 754.9L1265.7 756.5L1265 757.7L1263.7 759L1262 760.4L1260.4 761.8L1259 762.9L1257.3 763.9L1255.7 765L1254.5 766.1L1254.1 767.1L1254.2 768.2L1254.7 769.3L1255.7 770.4L1257.6 771.5L1260.4 772.4L1261.4 772.6L1262.6 772.9L1263.8 773.1L1265.2 773.3L1266.7 773.5L1268.2 773.6L1269.8 773.8L1271.4 774L1273.1 774.1L1274.9 774.3L1276.6 774.5L1278.3 774.6L1280 774.8L1281.7 774.9L1283.4 775.1L1285 775.3L1286.5 775.4L1288 775.6L1289.7 775.8L1291.6 776L1293.6 776.2L1295.7 776.4L1297.8 776.6L1299.8 776.8L1301.8 777.1L1303.7 777.3L1305.5 777.5L1307.1 777.7L1308.5 777.9L1309.7 778.1L1310.5 778.3L1311.1 778.5L1311.3 778.8L1311.1 779L1310.5 779.2L1309.6 779.5L1308.3 779.7L1306.9 779.9L1305.2 780.2L1303.4 780.4L1301.4 780.7L1299.4 780.9L1297.3 781.1L1295.2 781.4L1293.2 781.6L1291.3 781.9L1289.6 782.1L1288 782.4L1286.4 782.6L1284.8 782.9L1283.1 783.1L1281.5 783.4L1279.9 783.7L1278.3 783.9L1276.7 784.2L1275.2 784.4L1273.6 784.7L1272.2 785L1270.7 785.3L1269.3 785.6L1268 785.9L1266.8 786.2L1264.9 786.7L1263.2 787.2L1261.6 787.8L1260.1 788.3L1258.6 788.9L1257.3 789.5L1256.1 790.1L1255 790.8L1254.1 791.5L1252.7 792.4L1251.8 793.1L1251.1 794.1L1250.7 795.8L1250.3 798.9L1250.1 799.9L1250.1 801L1250 802.1L1249.9 803.3L1249.8 804.7L1249.8 806L1249.7 807.5L1249.7 809L1249.7 810.5L1249.6 812.1L1249.6 813.7L1249.6 815.4L1249.6 817L1249.5 818.7L1249.5 820.5L1249.5 822.2L1249.5 823.9L1249.5 825.6L1249.5 827.3L1249.4 829L1249.4 830.7L1249.4 832.1L1249.4 833.6L1249.3 835.1L1249.3 836.6L1249.3 838.2L1249.2 839.9L1249.2 841.5L1249.2 843.2L1249.2 844.9L1249.1 846.5L1249.1 848.2L1249.1 849.9L1249.1 851.5L1249.1 853.2L1249 854.8L1249 856.4L1249 858L1249 859.5L1249 860.9L1249 862.3L1249 863.7L1249 865L1249 866.2L1249 867.3L1249 868.4L1249 871.2L1249.1 873.3L1249.2 875L1249.3 876.4L1249.4 877.5L1249.5 878.6L1249.7 879.8L1249.8 881.2L1250 882.8L1250 884.5L1250.1 886.2L1250.2 887.9L1250.3 889.6L1250.6 891.2L1251 892.6L1251.5 893.9L1252.3 895.2L1253.2 896.2L1254.2 897.1L1255.4 898L1256.8 898.7L1258.4 899.5L1260.4 900.3L1261.7 900.6L1263.2 901L1264.9 901.4L1266.8 901.8L1268.8 902.1L1270.9 902.5L1272.9 902.8L1274.9 903.1L1276.7 903.5L1278.3 903.8L1279.7 904.1L1280.7 904.5L1281.4 904.8L1281.6 905.1L1281.4 905.5L1280.7 905.8L1279.6 906.1L1278.2 906.4L1276.6 906.7L1274.7 907L1272.7 907.3L1270.7 907.6L1268.6 907.9L1266.6 908.3L1264.7 908.6L1263 909L1261.6 909.4L1260.4 909.8L1258.4 910.6L1257 911.3L1255.9 912.1L1255.2 913.1L1254.6 914.8L1254.1 917.2L1253.9 918.3L1253.7 919.5L1253.6 920.9L1253.5 922.4L1253.4 924L1253.4 925.7L1253.3 927.4L1253.3 929.2L1253.3 931L1253.3 932.9L1253.3 934.6L1253.3 936.4L1253.4 938.1L1253.4 939.7L1253.5 941.1L1253.5 942.5L1253.6 943.7L1253.6 944.7L1254 947.8L1254.5 949.2L1255.2 950L1256.2 951.1L1257.3 952.4L1258.7 953.7L1260.2 955.1L1261.5 956.3L1262.5 957.5L1263.7 959.4L1263.6 961.7L1263.2 962.8L1262.5 964.1L1261.6 965.5L1260.7 967L1259.9 968.6L1259.4 970.2L1259 971.6L1258.7 973L1258.5 974.6L1258.4 976.1L1258.3 977.7L1258.3 979.2L1258.3 980.8L1258.4 982.3L1258.5 984L1258.7 985.6L1258.9 987.3L1259.3 988.8L1259.8 990.2L1260.4 991.4L1261.3 992.4L1262.2 993.3L1263.2 993.9L1264.6 994.5L1266.4 995L1268.9 995.6L1270 995.8L1271.2 996L1272.5 996.2L1273.9 996.4L1275.4 996.5L1277 996.7L1278.6 996.9L1280.3 997L1282 997.2L1283.7 997.4L1285.4 997.5L1287 997.7L1288.6 997.9L1290.2 998.1L1291.7 998.3L1293 998.5L1294.3 998.8L1296.2 999.2L1298.2 999.6L1300.1 1000.1L1302 1000.6L1303.7 1001.1L1305.4 1001.6L1306.9 1002.1L1308.1 1002.6L1309.1 1003.1L1309.8 1003.6L1310.2 1004.1L1310.1 1004.6L1309.3 1005.2L1308 1005.7L1306.3 1006.2L1304.4 1006.7L1302.3 1007.2L1300.4 1007.7L1298.6 1008.3L1297.1 1008.8L1295.4 1009.3L1293.6 1009.7L1291.8 1010.2L1290 1010.8L1288.2 1011.3L1286.6 1011.8L1285.3 1012.4L1284.3 1013L1283.7 1013.6L1283.7 1014.7L1284.7 1015.9L1286.2 1017.1L1288.1 1018.4L1289.8 1019.7L1291.1 1021L1292 1022.4L1292.7 1023.9L1293.3 1025.5L1293.9 1026.9L1294.6 1028.3L1295.4 1029.5L1296.7 1030.6L1298.3 1031.4L1299.9 1032.1L1301.2 1032.8L1301.7 1033.7L1301.2 1034.9L1299.6 1036.1L1297.9 1037.4L1296.6 1038.8L1296.4 1040.1L1297.2 1040.9L1298.7 1041.7L1300.5 1042.6L1302.5 1043.4L1304.5 1044.2L1306.3 1045L1307.5 1045.7L1308.1 1046.4L1307.3 1047.2L1305.1 1047.9L1302.3 1048.6L1299.8 1049.2L1298.2 1049.9L1298.6 1050.7L1299.2 1051L1300.2 1051.3L1301.4 1051.6L1302.8 1052L1304.5 1052.3L1306.2 1052.7L1308.1 1053.1L1310.1 1053.5L1312.1 1053.9L1314.2 1054.2L1316.1 1054.6L1318.1 1055L1319.9 1055.4L1321.5 1055.7L1323 1056.1L1324.3 1056.4L1325.4 1056.7L1326.1 1057L1326.5 1058L1324.4 1058.8L1321.5 1059.6L1319.4 1060.4L1319.7 1061.3L1320.5 1061.5L1321.6 1061.8L1323 1062.1L1324.6 1062.4L1326.5 1062.7L1328.5 1063L1330.5 1063.4L1332.7 1063.7L1334.8 1064L1337 1064.3L1339 1064.6L1340.9 1064.9L1342.7 1065.2L1344.2 1065.5L1345.5 1065.8L1346.5 1066.1L1347.1 1066.3L1347.3 1066.6L1347.1 1066.8L1346.6 1067L1345.8 1067.2L1344.7 1067.4L1343.5 1067.5L1342 1067.7L1340.3 1067.8L1338.5 1068L1336.6 1068.1L1334.6 1068.2L1332.5 1068.4L1330.5 1068.5L1328.5 1068.7L1326.5 1068.9L1324.6 1069.1L1322.8 1069.3L1321.2 1069.5L1319.7 1069.7L1318 1070.1L1316.4 1070.5L1314.8 1070.9L1313.2 1071.3L1311.7 1071.7L1310.2 1072.2L1308.8 1072.7L1307.3 1073.1L1305.9 1073.6L1304.4 1074.1L1303 1074.6L1301.5 1075.1L1300.1 1075.6L1298.6 1076.1L1297 1076.6L1295.3 1077.1L1293.6 1077.7L1291.8 1078.2L1290 1078.7L1288.2 1079.3L1286.4 1079.8L1284.7 1080.4L1283.1 1081L1281.7 1081.5L1280.3 1082L1279.1 1082.5L1278.1 1083L1277.4 1083.5L1276.5 1085.1L1277.4 1086.5L1279.2 1087.8L1280.6 1089.2" stroke="#ff0000" stroke-width="2.2"/><path d="M1249.8 647.8L1249.8 649.4L1249.8 650.9L1249.8 652.5L1249.9 654L1249.9 655.6L1249.9 657.3L1249.9 658.9L1249.9 660.5L1249.9 662.2L1249.9 663.8L1249.9 665.5L1249.9 667.1L1249.9 668.8L1249.9 670.5L1249.9 672.1L1249.9 673.8L1249.9 675.4L1249.9 677L1249.9 678.7L1249.9 680.3L1250 681.9L1250 683.4L1250 685L1250 686.5L1250 688L1250 689.5L1250 691L1250 692.4L1250 693.8L1250 695.2L1250 696.5L1250 697.8L1250 699L1250 700.2L1250 701.4L1250 702.5L1250 703.6L1250 706.2L1250 708.5L1250 710.7L1250 712.6L1250 714.3L1249.9 715.9L1249.9 717.3L1249.9 718.5L1249.9 719.7L1249.9 720.8L1250 721.8L1250 722.8L1250.1 723.8L1250.3 724.7L1250 727.4L1249.4 728.8L1250.2 729.7L1254.1 730.7L1254.9 730.8L1255.9 731L1257 731.1L1258.1 731.3L1259.4 731.4L1260.7 731.6L1262 731.7L1263.5 731.9L1264.9 732L1266.5 732.1L1268.1 732.2L1269.7 732.4L1271.4 732.5L1273 732.6L1274.8 732.7L1276.5 732.8L1278.3 732.9L1280 733L1281.8 733.2L1283.6 733.3L1285.3 733.4L1287.1 733.5L1288.8 733.6L1290.5 733.7L1292.2 733.8L1293.8 733.9L1295.5 734L1297 734.2L1298.6 734.3L1300.1 734.4L1301.7 734.5L1303.3 734.6L1304.9 734.8L1306.5 734.9L1308.1 735L1309.7 735.1L1311.3 735.3L1313 735.4L1314.6 735.5L1316.2 735.6L1317.8 735.7L1319.4 735.9L1321 736L1322.6 736.1L1324.1 736.2L1325.7 736.3L1327.2 736.4L1328.7 736.6L1330.2 736.7L1331.7 736.8L1333.1 736.9L1334.5 737L1335.8 737.1L1337.2 737.2L1338.5 737.3L1339.7 737.4L1340.9 737.5L1343 737.6L1345.2 737.7L1347.3 737.9L1349.4 738L1351.5 738.1L1353.5 738.2L1355.5 738.3L1357.3 738.4L1359 738.5L1360.5 738.6L1361.9 738.6L1363.1 738.7L1364 738.8L1364.7 738.9L1365.1 739L1365.3 739.2L1365.1 739.3L1364.7 739.4L1364 739.5L1363.1 739.6L1361.9 739.7L1360.5 739.9L1359 740L1357.3 740.1L1355.5 740.2L1353.5 740.3L1351.5 740.5L1349.4 740.6L1347.3 740.8L1345.2 740.9L1343 741.1L1340.9 741.3L1339.7 741.4L1338.4 741.5L1337.1 741.6L1335.7 741.7L1334.2 741.8L1332.7 741.9L1331.2 742.1L1329.6 742.2L1328.1 742.3L1326.4 742.4L1324.8 742.6L1323.1 742.7L1321.5 742.8L1319.8 743L1318.1 743.1L1316.5 743.3L1314.8 743.4L1313.2 743.5L1311.6 743.7L1310 743.8L1308.4 743.9L1306.8 744.1L1305.3 744.2L1303.9 744.3L1302.5 744.5L1301.1 744.6L1299.8 744.7L1298.6 744.9L1296.5 745.1L1294.5 745.3L1292.4 745.5L1290.3 745.7L1288.3 745.9L1286.3 746.1L1284.3 746.3L1282.5 746.6L1280.8 746.8L1279.1 747L1277.7 747.2L1276.4 747.4L1275.3 747.6L1274.4 747.8L1273.7 748L1273.3 748.3L1273.1 748.5L1273.3 748.7L1273.8 748.9L1274.6 749.1L1275.7 749.3L1277 749.6L1278.4 749.8L1280.1 750L1281.9 750.2L1283.8 750.5L1285.7 750.7L1287.7 750.9L1289.7 751.1L1291.6 751.4L1293.5 751.6L1295.4 751.8L1297 752.1L1298.6 752.3L1300.3 752.6L1302.1 752.8L1304.1 753.1L1306.1 753.4L1308.2 753.7L1310.3 754L1312.3 754.2L1314.2 754.5L1316 754.8L1317.6 755.1L1319 755.4L1320.2 755.7L1321.1 756L1321.7 756.2L1321.9 756.5L1321.7 756.8L1321.1 757.1L1320.2 757.4L1319 757.7L1317.6 757.9L1316 758.2L1314.2 758.5L1312.3 758.8L1310.3 759.1L1308.2 759.4L1306.1 759.6L1304.1 759.9L1302.1 760.2L1300.3 760.5L1298.6 760.8L1297.1 761L1295.6 761.3L1294 761.5L1292.4 761.8L1290.8 762L1289.1 762.3L1287.4 762.5L1285.8 762.8L1284.2 763L1282.6 763.3L1281 763.5L1279.5 763.8L1278.1 764L1276.7 764.3L1275.4 764.5L1274.2 764.8L1273.1 765L1270.1 765.7L1267.1 766.4L1264.6 767.1L1262.9 767.8L1262.4 768.5L1263.6 769.2L1264.2 769.4L1265 769.6L1265.9 769.8L1267 770L1268.2 770.2L1269.5 770.4L1270.9 770.6L1272.3 770.8L1273.9 770.9L1275.5 771.1L1277.2 771.3L1279 771.5L1280.8 771.7L1282.6 771.9L1284.4 772.1L1286.3 772.3L1288.1 772.4L1289.9 772.6L1291.7 772.8L1293.5 773L1295.3 773.1L1296.9 773.3L1298.6 773.5L1300 773.6L1301.6 773.8L1303.1 773.9L1304.7 774.1L1306.3 774.2L1307.9 774.3L1309.5 774.5L1311.2 774.6L1312.8 774.7L1314.5 774.9L1316.2 775L1317.8 775.1L1319.4 775.3L1321.1 775.4L1322.7 775.5L1324.2 775.6L1325.8 775.8L1327.3 775.9L1328.8 776L1330.2 776.1L1331.6 776.2L1333 776.3L1334.3 776.4L1335.5 776.5L1336.7 776.7L1339.1 776.9L1341.4 777.1L1343.7 777.3L1345.9 777.4L1347.9 777.6L1349.8 777.8L1351.5 777.9L1352.9 778.1L1354.1 778.3L1355 778.4L1355.6 778.6L1355.8 778.8L1355.6 778.9L1355 779.1L1354.1 779.3L1352.9 779.4L1351.5 779.6L1349.8 779.8L1347.9 779.9L1345.9 780.1L1343.7 780.3L1341.4 780.5L1339.1 780.7L1336.7 780.9L1335.5 781L1334.3 781.1L1333 781.2L1331.6 781.3L1330.2 781.4L1328.7 781.5L1327.2 781.6L1325.7 781.8L1324.1 781.9L1322.5 782L1320.9 782.1L1319.2 782.2L1317.6 782.3L1315.9 782.5L1314.3 782.6L1312.6 782.7L1311 782.9L1309.3 783L1307.7 783.1L1306.1 783.3L1304.5 783.4L1303 783.6L1301.5 783.7L1300 783.9L1298.6 784.1L1296.9 784.3L1295.2 784.5L1293.5 784.7L1291.8 784.9L1290.1 785.2L1288.4 785.4L1286.7 785.7L1285 785.9L1283.3 786.2L1281.7 786.5L1280.1 786.7L1278.5 787L1277 787.3L1275.5 787.5L1274.1 787.8L1272.7 788.1L1271.4 788.3L1270.1 788.6L1268.9 788.9L1267.8 789.1L1266.8 789.4L1264.2 790L1262.2 790.6L1260.7 791.1L1259.6 791.7L1258.8 792.5L1258 793.4L1257.2 794.7L1256.7 795.9L1256.3 797.2L1256 798.7L1255.8 800.2L1255.6 801.9L1255.5 803.7L1255.4 805.6L1255.3 807.5L1255.1 809.5L1255 810.8L1254.9 812L1254.8 813.3L1254.6 814.6L1254.5 815.9L1254.4 817.3L1254.3 818.7L1254.2 820.1L1254.1 821.6L1254 823.2L1253.9 824.9L1253.8 826.7L1253.7 828.6L1253.6 830.7L1253.6 831.9L1253.6 833.2L1253.5 834.6L1253.5 836L1253.4 837.6L1253.4 839.1L1253.4 840.7L1253.3 842.4L1253.3 844.1L1253.3 845.8L1253.2 847.5L1253.2 849.2L1253.2 850.9L1253.2 852.6L1253.1 854.3L1253.1 856L1253.1 857.6L1253.1 859.2L1253.1 860.7L1253 862.2L1253 863.6L1253 864.9L1253 866.2L1253 867.3L1253 868.4L1253 871.2L1253.1 873.3L1253.1 875L1253.2 876.4L1253.3 877.5L1253.4 878.6L1253.5 879.8L1253.6 881.2L1253.7 882.8L1253.7 884.5L1253.7 886.2L1253.7 887.9L1253.8 889.6L1254 891.2L1254.4 892.6L1255.1 893.9L1256.1 895L1257.2 896L1258.5 896.8L1259.9 897.5L1261.5 898.2L1263.2 898.9L1264.9 899.6L1266.8 900.3L1268.2 900.7L1269.8 901.2L1271.7 901.7L1273.6 902.1L1275.7 902.6L1277.6 903L1279.5 903.5L1281.2 903.9L1282.7 904.3L1283.8 904.7L1284.5 905.1L1284.8 905.6L1284.5 905.9L1283.8 906.3L1282.6 906.7L1281.1 907L1279.4 907.3L1277.5 907.7L1275.5 908L1273.5 908.3L1271.5 908.7L1269.7 909L1268.1 909.4L1266.8 909.8L1264.9 910.4L1263.3 910.9L1261.8 911.5L1260.4 912.1L1259.3 912.8L1258.2 913.8L1257.2 915.1L1256.7 916.2L1256.2 917.4L1255.7 918.8L1255.4 920.3L1255.1 921.9L1254.8 923.5L1254.6 925.2L1254.4 926.8L1254.2 928.4L1254.1 929.9L1253.9 931.6L1253.7 933.4L1253.6 935.2L1253.5 937L1253.5 938.7L1253.5 940.4L1253.5 942L1253.5 943.5L1253.6 944.7L1253.8 947L1254.1 948.5L1254.8 949.8L1256.2 951.1L1257.2 951.7L1258.3 952.4L1259.7 953L1261.2 953.6L1262.8 954.1L1264.4 954.7L1265.9 955.3L1267.5 955.8L1268.9 956.4L1270.5 957L1272.4 957.7L1274.2 958.3L1276 958.9L1277.7 959.5L1279.1 960.1L1280.1 960.7L1280.6 961.3L1280.3 962L1279.1 962.7L1277.3 963.4L1275.3 964.1L1273.5 964.9L1272.1 965.9L1271.1 967.1L1270.1 968.6L1269.3 970.1L1268.6 971.6L1268.1 973.1L1267.8 974.4L1267.3 976.2L1266.8 977.8L1267.4 979.4L1270 980.8L1270.8 981L1271.8 981.3L1272.8 981.5L1274 981.8L1275.2 982L1276.5 982.2L1277.9 982.5L1279.3 982.7L1280.8 982.9L1282.4 983.1L1284 983.3L1285.7 983.5L1287.4 983.7L1289.2 983.9L1291 984.1L1292.9 984.3L1294.7 984.5L1296.6 984.8L1298.6 985L1299.9 985.2L1301.3 985.3L1302.9 985.5L1304.6 985.6L1306.4 985.8L1308.2 985.9L1310.2 986.1L1312.1 986.3L1314.1 986.4L1316.2 986.6L1318.2 986.8L1320.3 986.9L1322.4 987.1L1324.4 987.2L1326.4 987.4L1328.3 987.6L1330.2 987.7L1332 987.9L1333.7 988.1L1335.3 988.2L1336.8 988.4L1338.1 988.6L1339.4 988.7L1340.4 988.9L1341.3 989L1342.1 989.2L1342.6 989.4L1342.9 989.5L1343.1 989.7L1342.9 989.8L1342.6 990L1342.1 990.1L1341.4 990.3L1340.5 990.4L1339.5 990.6L1338.3 990.7L1337 990.8L1335.5 991L1333.9 991.1L1332.3 991.3L1330.5 991.4L1328.6 991.6L1326.7 991.7L1324.8 991.8L1322.8 992L1320.8 992.1L1318.7 992.3L1316.7 992.4L1314.6 992.6L1312.6 992.7L1310.6 992.8L1308.7 993L1306.8 993.1L1304.9 993.3L1303.2 993.4L1301.5 993.6L1300 993.7L1298.6 993.9L1296.8 994.1L1295 994.3L1293.1 994.5L1291.2 994.7L1289.2 994.9L1287.3 995.1L1285.3 995.4L1283.4 995.6L1281.4 995.8L1279.5 996L1277.7 996.2L1275.9 996.4L1274.2 996.7L1272.5 996.9L1271 997.1L1269.6 997.3L1268.3 997.5L1267.1 997.7L1266 998L1265.2 998.2L1264.5 998.4L1263.9 998.6L1263.6 998.8L1263.5 999.1L1263.9 999.3L1264.7 999.6L1265.9 999.9L1267.3 1000.2L1269 1000.5L1271 1000.7L1273 1001L1275.1 1001.3L1277.3 1001.5L1279.5 1001.8L1281.5 1002L1283.5 1002.3L1285.2 1002.5L1286.7 1002.8L1288 1003L1290.7 1003.6L1293.2 1004.1L1295.2 1004.7L1296.8 1005.2L1297.6 1005.7L1297.5 1006.2L1297 1006.5L1296 1006.8L1294.7 1007.1L1293.2 1007.4L1291.4 1007.6L1289.5 1007.9L1287.5 1008.3L1285.5 1008.6L1283.5 1009L1281.6 1009.4L1280.1 1009.7L1278.5 1010.1L1276.7 1010.4L1274.9 1010.8L1273 1011.2L1271.1 1011.7L1269.3 1012.1L1267.6 1012.5L1265.9 1013L1264.5 1013.4L1263.2 1013.8L1262.2 1014.2L1261.5 1014.7L1261.3 1015.9L1263.2 1017.2L1265.6 1018.5L1266.8 1020L1266.4 1021.1L1265.5 1022.4L1264.3 1023.7L1263.1 1025L1262.1 1026.2L1261.5 1027.4L1261.9 1029.2L1263.2 1030.8L1263.6 1032.7L1263.1 1033.7L1262.3 1034.7L1261.2 1035.8L1260.1 1037L1259.1 1038.4L1258.3 1040.1L1258 1041.4L1257.7 1042.9L1257.4 1044.6L1257.2 1046.3L1257.1 1048.1L1256.9 1049.9L1256.8 1051.6L1256.7 1053.3L1256.6 1054.9L1256.5 1056.7L1256.4 1058.4L1256.3 1060.2L1256.2 1061.9L1256.1 1063.6L1256.1 1065.1L1256.1 1066.5L1256.2 1067.6L1256.7 1069.5L1257.4 1070.5L1257.9 1071.9L1257.8 1073.3L1257.6 1074.9L1257.4 1076.7L1257.2 1078.5L1257.2 1080.3L1257.5 1081.8L1257.9 1083.3L1258.4 1084.8L1259 1086.3L1259.5 1087.7L1260 1089.2" stroke="#008000" stroke-width="2.2"/></g><path d="M1248 868.4H1473" stroke="#000" stroke-width="2.7"/><rect x="1248" y="647.8" width="225" height="441.2" fill="none" stroke="#1a1a1a" stroke-width="1.25"/><g stroke="#1a1a1a" stroke-width="1.25"><path d="M1248 647.6h-5"/><path d="M1248 721.2h-5"/><path d="M1248 794.8h-5"/><path d="M1248 868.4h-5"/><path d="M1248 942h-5"/><path d="M1248 1015.6h-5"/><path d="M1248 1089.2h-5"/><path d="M1248 1089v5"/><path d="M1295 1089v5"/><path d="M1342.6 1089v5"/><path d="M1390.3 1089v5"/><path d="M1437 1089v5"/></g><rect x="1327.4" y="795" width="134" height="146.4" rx="4" fill="#fff" fill-opacity="0.82" stroke="#d0d0d0" stroke-width="1.2"/><path d="M1335 813.6H1382" stroke="#8c8c8c" stroke-width="2"/><text x="1400" y="821.4" font-size="22.5" class="dj">total</text><path d="M1335 848.6H1382" stroke="#0000f0" stroke-width="2"/><text x="1400" y="856.4" font-size="22.5" class="dj">s</text><path d="M1335 883.6H1382" stroke="#ff0000" stroke-width="2"/><text x="1400" y="891.4" font-size="22.5" class="dj">p</text><path d="M1335 918.6H1382" stroke="#008000" stroke-width="2"/><text x="1400" y="926.4" font-size="22.5" class="dj">d</text><text x="1360" y="1122.7" font-size="29" text-anchor="middle" class="ar">DOS</text></g>
</svg>
</body></html>
